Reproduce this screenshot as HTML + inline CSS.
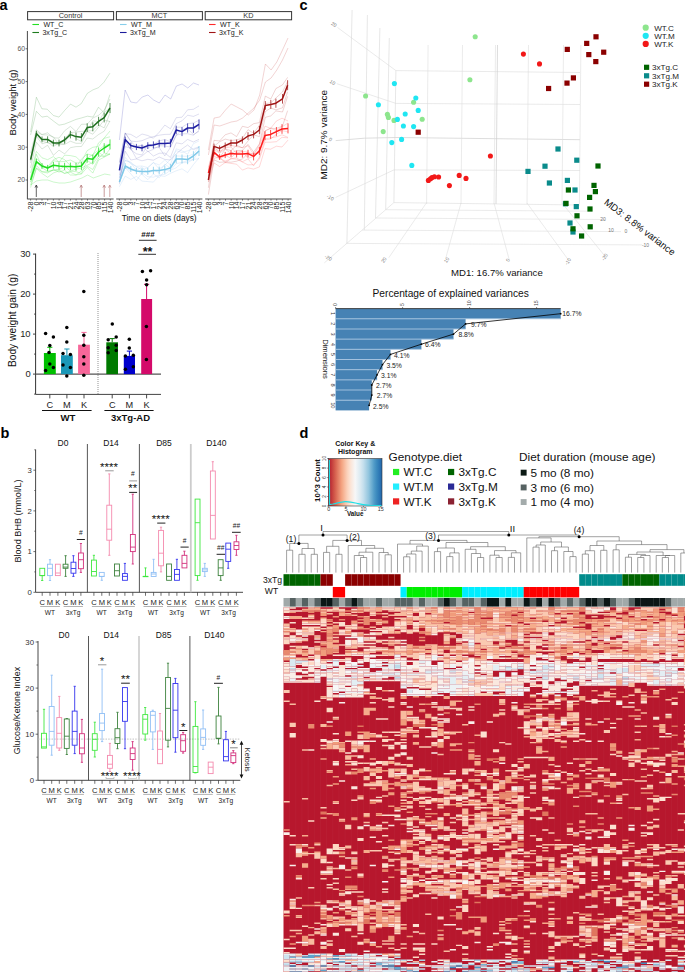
<!DOCTYPE html>
<html><head><meta charset="utf-8"><style>
html,body{margin:0;padding:0;background:#fff;}
svg{display:block;font-family:"Liberation Sans", sans-serif;}
</style></head><body>
<svg width="685" height="972" viewBox="0 0 685 972">
<rect width="685" height="972" fill="#fff"/>
<text x="-0.5" y="9.8" font-size="14.5" font-weight="bold">a</text>
<rect x="27.6" y="11.6" width="86.0" height="8.2" fill="#fff" stroke="#333" stroke-width="1"/>
<text x="70.6" y="18.4" font-size="7.3" text-anchor="middle" fill="#333">Control</text>
<rect x="116.4" y="11.6" width="86.0" height="8.2" fill="#fff" stroke="#333" stroke-width="1"/>
<text x="159.4" y="18.4" font-size="7.3" text-anchor="middle" fill="#333">MCT</text>
<rect x="205.2" y="11.6" width="86.4" height="8.2" fill="#fff" stroke="#333" stroke-width="1"/>
<text x="248.4" y="18.4" font-size="7.3" text-anchor="middle" fill="#333">KD</text>
<line x1="32.4" y1="24.5" x2="39.0" y2="24.5" stroke="#22e022" stroke-width="1.1"/>
<line x1="32.4" y1="32.5" x2="39.0" y2="32.5" stroke="#1e7b1e" stroke-width="1.1"/>
<text x="43.4" y="27.0" font-size="7.1" fill="#222">WT_C</text>
<text x="42.4" y="34.6" font-size="7.1" fill="#222">3xTg_C</text>
<line x1="120.0" y1="24.5" x2="126.6" y2="24.5" stroke="#87ceeb" stroke-width="1.1"/>
<line x1="120.0" y1="32.5" x2="126.6" y2="32.5" stroke="#1c1c9c" stroke-width="1.1"/>
<text x="131.0" y="27.0" font-size="7.1" fill="#222">WT_M</text>
<text x="130.0" y="34.6" font-size="7.1" fill="#222">3xTg_M</text>
<line x1="209.0" y1="24.5" x2="215.6" y2="24.5" stroke="#ff2a2a" stroke-width="1.1"/>
<line x1="209.0" y1="32.5" x2="215.6" y2="32.5" stroke="#a01515" stroke-width="1.1"/>
<text x="220.0" y="27.0" font-size="7.1" fill="#222">WT_K</text>
<text x="219.0" y="34.6" font-size="7.1" fill="#222">3xTg_K</text>
<line x1="27.4" y1="31.0" x2="27.4" y2="199.2" stroke="#333" stroke-width="0.9"/>
<line x1="25.6" y1="180.0" x2="27.4" y2="180.0" stroke="#333" stroke-width="0.7"/>
<text x="25.0" y="182.4" font-size="6.8" text-anchor="end" fill="#555">20</text>
<line x1="25.6" y1="147.2" x2="27.4" y2="147.2" stroke="#333" stroke-width="0.7"/>
<text x="25.0" y="149.6" font-size="6.8" text-anchor="end" fill="#555">30</text>
<line x1="25.6" y1="114.4" x2="27.4" y2="114.4" stroke="#333" stroke-width="0.7"/>
<text x="25.0" y="116.8" font-size="6.8" text-anchor="end" fill="#555">40</text>
<line x1="25.6" y1="81.6" x2="27.4" y2="81.6" stroke="#333" stroke-width="0.7"/>
<text x="25.0" y="84.0" font-size="6.8" text-anchor="end" fill="#555">50</text>
<line x1="25.6" y1="48.8" x2="27.4" y2="48.8" stroke="#333" stroke-width="0.7"/>
<text x="25.0" y="51.2" font-size="6.8" text-anchor="end" fill="#555">60</text>
<text x="15.5" y="102.5" font-size="9.5" text-anchor="middle" fill="#111" transform="rotate(-90 15.5 102.5)">Body weight (g)</text>
<line x1="27.4" y1="199.0" x2="113.6" y2="199.0" stroke="#333" stroke-width="0.9"/>
<line x1="30.6" y1="199.0" x2="30.6" y2="200.6" stroke="#333" stroke-width="0.6"/>
<text x="33.1" y="201.6" font-size="7.0" text-anchor="end" fill="#222" transform="rotate(-90 33.1 201.6)">-28</text>
<line x1="36.3" y1="199.0" x2="36.3" y2="200.6" stroke="#333" stroke-width="0.6"/>
<text x="38.8" y="201.6" font-size="7.0" text-anchor="end" fill="#222" transform="rotate(-90 38.79 201.6)">0</text>
<line x1="42.0" y1="199.0" x2="42.0" y2="200.6" stroke="#333" stroke-width="0.6"/>
<text x="44.5" y="201.6" font-size="7.0" text-anchor="end" fill="#222" transform="rotate(-90 44.480000000000004 201.6)">3</text>
<line x1="47.7" y1="199.0" x2="47.7" y2="200.6" stroke="#333" stroke-width="0.6"/>
<text x="50.2" y="201.6" font-size="7.0" text-anchor="end" fill="#222" transform="rotate(-90 50.17 201.6)">7</text>
<line x1="53.4" y1="199.0" x2="53.4" y2="200.6" stroke="#333" stroke-width="0.6"/>
<text x="55.9" y="201.6" font-size="7.0" text-anchor="end" fill="#222" transform="rotate(-90 55.86 201.6)">10</text>
<line x1="59.1" y1="199.0" x2="59.1" y2="200.6" stroke="#333" stroke-width="0.6"/>
<text x="61.6" y="201.6" font-size="7.0" text-anchor="end" fill="#222" transform="rotate(-90 61.550000000000004 201.6)">14</text>
<line x1="64.7" y1="199.0" x2="64.7" y2="200.6" stroke="#333" stroke-width="0.6"/>
<text x="67.2" y="201.6" font-size="7.0" text-anchor="end" fill="#222" transform="rotate(-90 67.24000000000001 201.6)">17</text>
<line x1="70.4" y1="199.0" x2="70.4" y2="200.6" stroke="#333" stroke-width="0.6"/>
<text x="72.9" y="201.6" font-size="7.0" text-anchor="end" fill="#222" transform="rotate(-90 72.93 201.6)">21</text>
<line x1="76.1" y1="199.0" x2="76.1" y2="200.6" stroke="#333" stroke-width="0.6"/>
<text x="78.6" y="201.6" font-size="7.0" text-anchor="end" fill="#222" transform="rotate(-90 78.62 201.6)">24</text>
<line x1="81.8" y1="199.0" x2="81.8" y2="200.6" stroke="#333" stroke-width="0.6"/>
<text x="84.3" y="201.6" font-size="7.0" text-anchor="end" fill="#222" transform="rotate(-90 84.31 201.6)">28</text>
<line x1="87.5" y1="199.0" x2="87.5" y2="200.6" stroke="#333" stroke-width="0.6"/>
<text x="90.0" y="201.6" font-size="7.0" text-anchor="end" fill="#222" transform="rotate(-90 90.0 201.6)">63</text>
<line x1="93.2" y1="199.0" x2="93.2" y2="200.6" stroke="#333" stroke-width="0.6"/>
<text x="95.7" y="201.6" font-size="7.0" text-anchor="end" fill="#222" transform="rotate(-90 95.69 201.6)">70</text>
<line x1="98.9" y1="199.0" x2="98.9" y2="200.6" stroke="#333" stroke-width="0.6"/>
<text x="101.4" y="201.6" font-size="7.0" text-anchor="end" fill="#222" transform="rotate(-90 101.38 201.6)">85</text>
<line x1="104.6" y1="199.0" x2="104.6" y2="200.6" stroke="#333" stroke-width="0.6"/>
<text x="107.1" y="201.6" font-size="7.0" text-anchor="end" fill="#222" transform="rotate(-90 107.07 201.6)">115</text>
<line x1="110.3" y1="199.0" x2="110.3" y2="200.6" stroke="#333" stroke-width="0.6"/>
<text x="112.8" y="201.6" font-size="7.0" text-anchor="end" fill="#222" transform="rotate(-90 112.76000000000002 201.6)">140</text>
<line x1="116.2" y1="199.0" x2="202.4" y2="199.0" stroke="#333" stroke-width="0.9"/>
<line x1="119.4" y1="199.0" x2="119.4" y2="200.6" stroke="#333" stroke-width="0.6"/>
<text x="121.9" y="201.6" font-size="7.0" text-anchor="end" fill="#222" transform="rotate(-90 121.9 201.6)">-28</text>
<line x1="125.1" y1="199.0" x2="125.1" y2="200.6" stroke="#333" stroke-width="0.6"/>
<text x="127.6" y="201.6" font-size="7.0" text-anchor="end" fill="#222" transform="rotate(-90 127.59 201.6)">0</text>
<line x1="130.8" y1="199.0" x2="130.8" y2="200.6" stroke="#333" stroke-width="0.6"/>
<text x="133.3" y="201.6" font-size="7.0" text-anchor="end" fill="#222" transform="rotate(-90 133.28 201.6)">3</text>
<line x1="136.5" y1="199.0" x2="136.5" y2="200.6" stroke="#333" stroke-width="0.6"/>
<text x="139.0" y="201.6" font-size="7.0" text-anchor="end" fill="#222" transform="rotate(-90 138.97 201.6)">7</text>
<line x1="142.2" y1="199.0" x2="142.2" y2="200.6" stroke="#333" stroke-width="0.6"/>
<text x="144.7" y="201.6" font-size="7.0" text-anchor="end" fill="#222" transform="rotate(-90 144.66 201.6)">10</text>
<line x1="147.9" y1="199.0" x2="147.9" y2="200.6" stroke="#333" stroke-width="0.6"/>
<text x="150.4" y="201.6" font-size="7.0" text-anchor="end" fill="#222" transform="rotate(-90 150.35000000000002 201.6)">14</text>
<line x1="153.5" y1="199.0" x2="153.5" y2="200.6" stroke="#333" stroke-width="0.6"/>
<text x="156.0" y="201.6" font-size="7.0" text-anchor="end" fill="#222" transform="rotate(-90 156.04000000000002 201.6)">17</text>
<line x1="159.2" y1="199.0" x2="159.2" y2="200.6" stroke="#333" stroke-width="0.6"/>
<text x="161.7" y="201.6" font-size="7.0" text-anchor="end" fill="#222" transform="rotate(-90 161.73000000000002 201.6)">21</text>
<line x1="164.9" y1="199.0" x2="164.9" y2="200.6" stroke="#333" stroke-width="0.6"/>
<text x="167.4" y="201.6" font-size="7.0" text-anchor="end" fill="#222" transform="rotate(-90 167.42000000000002 201.6)">24</text>
<line x1="170.6" y1="199.0" x2="170.6" y2="200.6" stroke="#333" stroke-width="0.6"/>
<text x="173.1" y="201.6" font-size="7.0" text-anchor="end" fill="#222" transform="rotate(-90 173.11 201.6)">28</text>
<line x1="176.3" y1="199.0" x2="176.3" y2="200.6" stroke="#333" stroke-width="0.6"/>
<text x="178.8" y="201.6" font-size="7.0" text-anchor="end" fill="#222" transform="rotate(-90 178.8 201.6)">63</text>
<line x1="182.0" y1="199.0" x2="182.0" y2="200.6" stroke="#333" stroke-width="0.6"/>
<text x="184.5" y="201.6" font-size="7.0" text-anchor="end" fill="#222" transform="rotate(-90 184.49 201.6)">70</text>
<line x1="187.7" y1="199.0" x2="187.7" y2="200.6" stroke="#333" stroke-width="0.6"/>
<text x="190.2" y="201.6" font-size="7.0" text-anchor="end" fill="#222" transform="rotate(-90 190.18 201.6)">85</text>
<line x1="193.4" y1="199.0" x2="193.4" y2="200.6" stroke="#333" stroke-width="0.6"/>
<text x="195.9" y="201.6" font-size="7.0" text-anchor="end" fill="#222" transform="rotate(-90 195.87 201.6)">115</text>
<line x1="199.1" y1="199.0" x2="199.1" y2="200.6" stroke="#333" stroke-width="0.6"/>
<text x="201.6" y="201.6" font-size="7.0" text-anchor="end" fill="#222" transform="rotate(-90 201.56 201.6)">140</text>
<line x1="205.2" y1="199.0" x2="291.6" y2="199.0" stroke="#333" stroke-width="0.9"/>
<line x1="208.4" y1="199.0" x2="208.4" y2="200.6" stroke="#333" stroke-width="0.6"/>
<text x="210.9" y="201.6" font-size="7.0" text-anchor="end" fill="#222" transform="rotate(-90 210.9 201.6)">-28</text>
<line x1="214.1" y1="199.0" x2="214.1" y2="200.6" stroke="#333" stroke-width="0.6"/>
<text x="216.6" y="201.6" font-size="7.0" text-anchor="end" fill="#222" transform="rotate(-90 216.59 201.6)">0</text>
<line x1="219.8" y1="199.0" x2="219.8" y2="200.6" stroke="#333" stroke-width="0.6"/>
<text x="222.3" y="201.6" font-size="7.0" text-anchor="end" fill="#222" transform="rotate(-90 222.28 201.6)">3</text>
<line x1="225.5" y1="199.0" x2="225.5" y2="200.6" stroke="#333" stroke-width="0.6"/>
<text x="228.0" y="201.6" font-size="7.0" text-anchor="end" fill="#222" transform="rotate(-90 227.97 201.6)">7</text>
<line x1="231.2" y1="199.0" x2="231.2" y2="200.6" stroke="#333" stroke-width="0.6"/>
<text x="233.7" y="201.6" font-size="7.0" text-anchor="end" fill="#222" transform="rotate(-90 233.66 201.6)">10</text>
<line x1="236.9" y1="199.0" x2="236.9" y2="200.6" stroke="#333" stroke-width="0.6"/>
<text x="239.4" y="201.6" font-size="7.0" text-anchor="end" fill="#222" transform="rotate(-90 239.35000000000002 201.6)">14</text>
<line x1="242.5" y1="199.0" x2="242.5" y2="200.6" stroke="#333" stroke-width="0.6"/>
<text x="245.0" y="201.6" font-size="7.0" text-anchor="end" fill="#222" transform="rotate(-90 245.04000000000002 201.6)">17</text>
<line x1="248.2" y1="199.0" x2="248.2" y2="200.6" stroke="#333" stroke-width="0.6"/>
<text x="250.7" y="201.6" font-size="7.0" text-anchor="end" fill="#222" transform="rotate(-90 250.73000000000002 201.6)">21</text>
<line x1="253.9" y1="199.0" x2="253.9" y2="200.6" stroke="#333" stroke-width="0.6"/>
<text x="256.4" y="201.6" font-size="7.0" text-anchor="end" fill="#222" transform="rotate(-90 256.42 201.6)">24</text>
<line x1="259.6" y1="199.0" x2="259.6" y2="200.6" stroke="#333" stroke-width="0.6"/>
<text x="262.1" y="201.6" font-size="7.0" text-anchor="end" fill="#222" transform="rotate(-90 262.11 201.6)">28</text>
<line x1="265.3" y1="199.0" x2="265.3" y2="200.6" stroke="#333" stroke-width="0.6"/>
<text x="267.8" y="201.6" font-size="7.0" text-anchor="end" fill="#222" transform="rotate(-90 267.8 201.6)">63</text>
<line x1="271.0" y1="199.0" x2="271.0" y2="200.6" stroke="#333" stroke-width="0.6"/>
<text x="273.5" y="201.6" font-size="7.0" text-anchor="end" fill="#222" transform="rotate(-90 273.49 201.6)">70</text>
<line x1="276.7" y1="199.0" x2="276.7" y2="200.6" stroke="#333" stroke-width="0.6"/>
<text x="279.2" y="201.6" font-size="7.0" text-anchor="end" fill="#222" transform="rotate(-90 279.18 201.6)">85</text>
<line x1="282.4" y1="199.0" x2="282.4" y2="200.6" stroke="#333" stroke-width="0.6"/>
<text x="284.9" y="201.6" font-size="7.0" text-anchor="end" fill="#222" transform="rotate(-90 284.87 201.6)">115</text>
<line x1="288.1" y1="199.0" x2="288.1" y2="200.6" stroke="#333" stroke-width="0.6"/>
<text x="290.6" y="201.6" font-size="7.0" text-anchor="end" fill="#222" transform="rotate(-90 290.56 201.6)">140</text>
<text x="159.2" y="220.8" font-size="8.3" text-anchor="middle" fill="#111">Time on diets (days)</text>
<line x1="36.3" y1="185.5" x2="36.3" y2="197.0" stroke="#222" stroke-width="0.7"/>
<path d="M35.0,187.6 L36.3,185 L37.6,187.6" fill="none" stroke="#222" stroke-width="0.7"/>
<line x1="81.2" y1="185.5" x2="81.2" y2="197.0" stroke="#b07070" stroke-width="0.7"/>
<path d="M79.9,187.6 L81.2,185 L82.5,187.6" fill="none" stroke="#b07070" stroke-width="0.7"/>
<line x1="104.2" y1="185.5" x2="104.2" y2="197.0" stroke="#b07070" stroke-width="0.7"/>
<path d="M102.9,187.6 L104.2,185 L105.5,187.6" fill="none" stroke="#b07070" stroke-width="0.7"/>
<line x1="109.8" y1="185.5" x2="109.8" y2="197.0" stroke="#c08080" stroke-width="0.7"/>
<path d="M108.5,187.6 L109.8,185 L111.1,187.6" fill="none" stroke="#c08080" stroke-width="0.7"/>
<polyline points="30.6,185.0 36.4,168.4 42.0,173.4 47.6,177.3 53.4,173.0 59.0,170.9 64.6,173.4 70.4,172.2 76.0,174.9 81.4,174.1 87.2,167.4 92.8,173.1 98.6,160.0 104.2,157.2 110.0,154.0" fill="none" stroke="#33dd33" stroke-width="0.7" stroke-linejoin="round" stroke-opacity="0.35"/>
<polyline points="30.6,187.5 36.4,168.0 42.0,171.6 47.6,171.9 53.4,170.2 59.0,169.8 64.6,173.3 70.4,171.2 76.0,171.6 81.4,173.7 87.2,160.4 92.8,164.3 98.6,155.8 104.2,156.5 110.0,153.5" fill="none" stroke="#33dd33" stroke-width="0.7" stroke-linejoin="round" stroke-opacity="0.35"/>
<polyline points="30.6,182.2 36.4,162.1 42.0,167.6 47.6,171.4 53.4,170.0 59.0,169.9 64.6,166.0 70.4,171.2 76.0,169.1 81.4,168.0 87.2,165.3 92.8,162.3 98.6,152.1 104.2,156.5 110.0,148.8" fill="none" stroke="#33dd33" stroke-width="0.7" stroke-linejoin="round" stroke-opacity="0.35"/>
<polyline points="30.6,179.6 36.4,158.3 42.0,164.0 47.6,169.3 53.4,160.7 59.0,161.8 64.6,161.4 70.4,160.0 76.0,163.0 81.4,162.7 87.2,158.5 92.8,154.4 98.6,150.2 104.2,145.6 110.0,144.0" fill="none" stroke="#33dd33" stroke-width="0.7" stroke-linejoin="round" stroke-opacity="0.35"/>
<polyline points="30.6,177.1 36.4,154.2 42.0,166.7 47.6,167.0 53.4,159.7 59.0,157.3 64.6,159.6 70.4,165.6 76.0,167.3 81.4,159.1 87.2,154.0 92.8,155.5 98.6,142.8 104.2,138.3 110.0,136.8" fill="none" stroke="#33dd33" stroke-width="0.7" stroke-linejoin="round" stroke-opacity="0.35"/>
<polyline points="30.6,173.1 36.4,151.4 42.0,157.8 47.6,159.7 53.4,156.5 59.0,162.3 64.6,155.2 70.4,155.6 76.0,156.8 81.4,161.9 87.2,150.6 92.8,147.3 98.6,146.4 104.2,138.0 110.0,131.0" fill="none" stroke="#33dd33" stroke-width="0.7" stroke-linejoin="round" stroke-opacity="0.35"/>
<polyline points="30.6,181.8 36.4,165.4 42.0,171.9 47.6,173.0 53.4,169.7 59.0,172.1 64.6,170.2 70.4,175.0 76.0,175.1 81.4,171.0 87.2,166.2 92.8,169.5 98.6,158.1 104.2,153.1 110.0,154.5" fill="none" stroke="#33dd33" stroke-width="0.7" stroke-linejoin="round" stroke-opacity="0.35"/>
<polyline points="30.6,167.9 36.4,142.3 42.0,149.0 47.6,145.2 53.4,155.3 59.0,150.1 64.6,153.9 70.4,147.7 76.0,146.6 81.4,146.5 87.2,138.0 92.8,139.0 98.6,134.5 104.2,131.2 110.0,121.0" fill="none" stroke="#2a6e2a" stroke-width="0.7" stroke-linejoin="round" stroke-opacity="0.25"/>
<polyline points="30.6,163.0 36.4,136.3 42.0,143.8 47.6,142.1 53.4,146.5 59.0,143.1 64.6,144.5 70.4,141.2 76.0,143.3 81.4,143.3 87.2,131.6 92.8,134.2 98.6,127.2 104.2,120.0 110.0,121.6" fill="none" stroke="#2a6e2a" stroke-width="0.7" stroke-linejoin="round" stroke-opacity="0.25"/>
<polyline points="30.6,161.1 36.4,134.7 42.0,141.0 47.6,142.8 53.4,143.8 59.0,144.8 64.6,144.0 70.4,131.3 76.0,138.6 81.4,141.6 87.2,131.0 92.8,130.6 98.6,124.9 104.2,127.9 110.0,112.8" fill="none" stroke="#2a6e2a" stroke-width="0.7" stroke-linejoin="round" stroke-opacity="0.25"/>
<polyline points="30.6,159.9 36.4,131.7 42.0,134.8 47.6,134.9 53.4,136.8 59.0,144.7 64.6,138.2 70.4,132.7 76.0,132.1 81.4,131.4 87.2,131.2 92.8,120.8 98.6,121.6 104.2,112.4 110.0,108.1" fill="none" stroke="#2a6e2a" stroke-width="0.7" stroke-linejoin="round" stroke-opacity="0.25"/>
<polyline points="30.6,153.2 36.4,129.8 42.0,134.5 47.6,132.8 53.4,137.8 59.0,138.1 64.6,130.8 70.4,126.4 76.0,131.5 81.4,124.3 87.2,124.2 92.8,118.0 98.6,115.3 104.2,110.3 110.0,99.0" fill="none" stroke="#2a6e2a" stroke-width="0.7" stroke-linejoin="round" stroke-opacity="0.25"/>
<polyline points="119.4,186.7 125.2,176.1 130.8,179.4 136.4,176.4 142.0,181.1 147.8,181.6 153.4,182.1 159.2,175.6 164.8,176.4 170.4,173.4 176.2,170.8 182.0,168.8 187.6,172.6 193.4,164.6 199.0,157.9" fill="none" stroke="#87b8eb" stroke-width="0.7" stroke-linejoin="round" stroke-opacity="0.3"/>
<polyline points="119.4,182.9 125.2,167.7 130.8,173.8 136.4,180.6 142.0,172.8 147.8,176.7 153.4,177.2 159.2,175.0 164.8,174.4 170.4,170.3 176.2,167.8 182.0,162.7 187.6,162.6 193.4,159.4 199.0,158.7" fill="none" stroke="#87b8eb" stroke-width="0.7" stroke-linejoin="round" stroke-opacity="0.3"/>
<polyline points="119.4,182.0 125.2,167.8 130.8,170.9 136.4,169.8 142.0,174.5 147.8,179.7 153.4,174.0 159.2,177.8 164.8,170.5 170.4,170.2 176.2,163.7 182.0,162.3 187.6,160.9 193.4,159.3 199.0,151.3" fill="none" stroke="#87b8eb" stroke-width="0.7" stroke-linejoin="round" stroke-opacity="0.3"/>
<polyline points="119.4,177.9 125.2,160.2 130.8,162.8 136.4,170.4 142.0,166.8 147.8,173.5 153.4,170.4 159.2,172.5 164.8,164.0 170.4,168.1 176.2,155.9 182.0,156.2 187.6,156.3 193.4,154.0 199.0,146.8" fill="none" stroke="#87b8eb" stroke-width="0.7" stroke-linejoin="round" stroke-opacity="0.3"/>
<polyline points="119.4,177.9 125.2,160.5 130.8,162.1 136.4,166.9 142.0,169.7 147.8,167.7 153.4,162.4 159.2,168.9 164.8,165.3 170.4,159.4 176.2,150.7 182.0,152.5 187.6,150.8 193.4,148.6 199.0,146.7" fill="none" stroke="#87b8eb" stroke-width="0.7" stroke-linejoin="round" stroke-opacity="0.3"/>
<polyline points="119.4,177.3 125.2,157.4 130.8,163.8 136.4,166.3 142.0,166.0 147.8,167.6 153.4,162.7 159.2,165.0 164.8,160.0 170.4,164.8 176.2,148.8 182.0,150.8 187.6,154.3 193.4,143.7 199.0,140.9" fill="none" stroke="#87b8eb" stroke-width="0.7" stroke-linejoin="round" stroke-opacity="0.3"/>
<polyline points="119.4,184.2 125.2,151.2 130.8,160.0 136.4,159.0 142.0,160.8 147.8,159.3 153.4,160.2 159.2,157.0 164.8,159.4 170.4,160.0 176.2,154.0 182.0,148.9 187.6,145.0 193.4,149.7 199.0,147.2" fill="none" stroke="#3030a0" stroke-width="0.7" stroke-linejoin="round" stroke-opacity="0.22"/>
<polyline points="119.4,181.9 125.2,146.6 130.8,148.3 136.4,158.6 142.0,156.0 147.8,151.1 153.4,156.0 159.2,153.3 164.8,153.0 170.4,157.4 176.2,142.8 182.0,143.9 187.6,139.4 193.4,142.0 199.0,139.3" fill="none" stroke="#3030a0" stroke-width="0.7" stroke-linejoin="round" stroke-opacity="0.22"/>
<polyline points="119.4,175.1 125.2,141.3 130.8,149.8 136.4,153.8 142.0,155.0 147.8,144.0 153.4,147.5 159.2,147.6 164.8,155.9 170.4,147.5 176.2,135.1 182.0,133.9 187.6,133.7 193.4,135.2 199.0,130.3" fill="none" stroke="#3030a0" stroke-width="0.7" stroke-linejoin="round" stroke-opacity="0.22"/>
<polyline points="119.4,170.3 125.2,140.7 130.8,149.6 136.4,146.0 142.0,145.9 147.8,151.7 153.4,149.3 159.2,145.7 164.8,146.0 170.4,147.0 176.2,135.6 182.0,129.6 187.6,128.8 193.4,134.5 199.0,131.4" fill="none" stroke="#3030a0" stroke-width="0.7" stroke-linejoin="round" stroke-opacity="0.22"/>
<polyline points="119.4,166.4 125.2,132.8 130.8,141.4 136.4,146.9 142.0,144.9 147.8,148.4 153.4,144.2 159.2,141.0 164.8,139.4 170.4,141.8 176.2,127.2 182.0,127.2 187.6,123.7 193.4,122.9 199.0,120.3" fill="none" stroke="#3030a0" stroke-width="0.7" stroke-linejoin="round" stroke-opacity="0.22"/>
<polyline points="119.4,162.8 125.2,133.0 130.8,141.1 136.4,141.6 142.0,140.7 147.8,138.2 153.4,136.6 159.2,135.2 164.8,134.4 170.4,134.3 176.2,123.7 182.0,120.8 187.6,115.2 193.4,116.4 199.0,114.0" fill="none" stroke="#3030a0" stroke-width="0.7" stroke-linejoin="round" stroke-opacity="0.22"/>
<polyline points="119.4,162.3 125.2,133.7 130.8,134.4 136.4,137.7 142.0,134.0 147.8,135.5 153.4,138.2 159.2,132.3 164.8,125.1 170.4,128.8 176.2,117.7 182.0,117.2 187.6,109.8 193.4,109.3 199.0,105.9" fill="none" stroke="#3030a0" stroke-width="0.7" stroke-linejoin="round" stroke-opacity="0.22"/>
<polyline points="208.4,181.6 214.0,162.9 219.6,166.5 225.2,162.5 231.0,163.4 236.6,164.2 242.4,170.1 248.0,167.9 253.6,169.1 259.4,166.9 265.0,148.6 270.6,149.2 276.4,146.2 282.0,147.0 288.0,140.1" fill="none" stroke="#ff4040" stroke-width="0.7" stroke-linejoin="round" stroke-opacity="0.3"/>
<polyline points="208.4,179.4 214.0,158.4 219.6,157.1 225.2,162.8 231.0,158.7 236.6,159.2 242.4,162.0 248.0,164.9 253.6,164.6 259.4,159.2 265.0,142.2 270.6,142.2 276.4,141.7 282.0,137.3 288.0,137.9" fill="none" stroke="#ff4040" stroke-width="0.7" stroke-linejoin="round" stroke-opacity="0.3"/>
<polyline points="208.4,175.9 214.0,156.1 219.6,158.6 225.2,161.1 231.0,158.8 236.6,157.8 242.4,161.7 248.0,158.9 253.6,165.8 259.4,157.2 265.0,138.9 270.6,137.9 276.4,136.8 282.0,134.8 288.0,137.4" fill="none" stroke="#ff4040" stroke-width="0.7" stroke-linejoin="round" stroke-opacity="0.3"/>
<polyline points="208.4,172.0 214.0,149.7 219.6,159.2 225.2,155.5 231.0,158.1 236.6,152.0 242.4,151.7 248.0,158.3 253.6,156.5 259.4,149.4 265.0,140.0 270.6,139.0 276.4,134.3 282.0,130.6 288.0,131.9" fill="none" stroke="#ff4040" stroke-width="0.7" stroke-linejoin="round" stroke-opacity="0.3"/>
<polyline points="208.4,169.5 214.0,147.7 219.6,151.9 225.2,147.8 231.0,147.0 236.6,153.4 242.4,151.3 248.0,152.1 253.6,154.7 259.4,146.7 265.0,130.9 270.6,128.3 276.4,130.5 282.0,126.9 288.0,123.0" fill="none" stroke="#ff4040" stroke-width="0.7" stroke-linejoin="round" stroke-opacity="0.3"/>
<polyline points="208.4,167.6 214.0,146.3 219.6,152.3 225.2,146.3 231.0,145.4 236.6,146.6 242.4,147.7 248.0,145.7 253.6,154.5 259.4,144.4 265.0,126.1 270.6,128.4 276.4,121.0 282.0,118.2 288.0,121.0" fill="none" stroke="#ff4040" stroke-width="0.7" stroke-linejoin="round" stroke-opacity="0.3"/>
<polyline points="208.4,194.6 214.0,159.8 219.6,162.3 225.2,161.9 231.0,162.2 236.6,161.2 242.4,158.9 248.0,153.7 253.6,154.0 259.4,153.0 265.3,130.8 270.8,128.1 275.9,128.7 282.5,126.0 287.6,110.7" fill="none" stroke="#b02020" stroke-width="0.7" stroke-linejoin="round" stroke-opacity="0.28"/>
<polyline points="208.4,187.8 214.0,153.4 219.6,158.2 225.2,149.1 231.0,153.5 236.6,150.5 242.4,150.4 248.0,144.4 253.6,152.0 259.4,144.0 265.3,117.3 270.8,115.9 275.9,110.9 282.5,112.0 287.6,96.4" fill="none" stroke="#b02020" stroke-width="0.7" stroke-linejoin="round" stroke-opacity="0.28"/>
<polyline points="208.4,182.1 214.0,149.3 219.6,153.2 225.2,149.0 231.0,150.6 236.6,145.2 242.4,147.9 248.0,141.0 253.6,134.9 259.4,136.6 265.3,111.6 270.8,108.0 275.9,109.9 282.5,107.8 287.6,91.8" fill="none" stroke="#b02020" stroke-width="0.7" stroke-linejoin="round" stroke-opacity="0.28"/>
<polyline points="208.4,176.6 214.0,146.2 219.6,141.8 225.2,139.1 231.0,140.5 236.6,139.8 242.4,138.4 248.0,129.7 253.6,133.3 259.4,125.3 265.3,103.5 270.8,102.9 275.9,98.0 282.5,92.0 287.6,81.6" fill="none" stroke="#b02020" stroke-width="0.7" stroke-linejoin="round" stroke-opacity="0.28"/>
<polyline points="208.4,172.4 214.0,140.3 219.6,141.0 225.2,134.8 231.0,132.9 236.6,136.6 242.4,126.3 248.0,127.6 253.6,123.7 259.4,122.6 265.3,96.1 270.8,99.0 275.9,88.6 282.5,84.9 287.6,77.4" fill="none" stroke="#b02020" stroke-width="0.7" stroke-linejoin="round" stroke-opacity="0.28"/>
<polyline points="30.6,132.0 36.4,97.2 41.9,108.8 47.2,109.2 53.4,115.5 59.0,117.1 64.5,110.6 70.5,104.1 76.0,107.2 81.2,103.7 87.4,93.3 93.0,89.8 98.5,87.7 104.0,82.2 109.9,73.2" fill="none" stroke="#2a8a2a" stroke-width="0.7" stroke-linejoin="round" stroke-opacity="0.3"/>
<polyline points="30.6,135.0 36.4,111.3 41.9,117.1 47.2,116.2 53.4,121.0 59.0,125.2 64.5,124.1 70.5,121.7 76.0,119.4 81.2,118.0 87.4,116.2 93.0,117.1 98.5,107.2 104.0,112.7 109.9,94.7" fill="none" stroke="#2a8a2a" stroke-width="0.7" stroke-linejoin="round" stroke-opacity="0.3"/>
<polyline points="30.6,185.0 36.3,181.0 42.0,180.0 47.7,180.0 53.4,182.0 59.1,183.0 64.8,183.0 70.5,182.0 76.2,180.0 81.9,178.0 87.6,175.0 93.3,178.0 99.0,176.0 104.7,174.0 110.4,175.0" fill="none" stroke="#33dd33" stroke-width="0.7" stroke-linejoin="round" stroke-opacity="0.35"/>
<polyline points="119.4,140.0 125.1,90.0 130.8,102.0 136.5,103.0 142.2,97.0 147.9,95.0 153.6,100.0 159.3,103.0 165.0,95.0 170.7,99.0 176.4,86.0 182.1,84.0 187.8,88.0 193.5,83.0 199.0,85.0" fill="none" stroke="#3030b0" stroke-width="0.7" stroke-linejoin="round" stroke-opacity="0.3"/>
<polyline points="208.4,150.0 214.1,118.0 219.8,117.0 225.5,110.0 231.2,104.0 236.9,107.0 242.6,110.0 248.3,115.0 254.0,110.0 259.7,95.0 265.4,64.0 271.1,70.0 276.8,62.0 282.5,50.0 288.0,38.0" fill="none" stroke="#c03030" stroke-width="0.7" stroke-linejoin="round" stroke-opacity="0.3"/>
<polyline points="208.4,155.0 214.1,125.0 219.8,126.0 225.5,124.0 231.2,122.0 236.9,121.0 242.6,118.0 248.3,113.0 254.0,108.0 259.7,100.0 265.4,82.0 271.1,78.0 276.8,70.0 282.5,60.0 288.0,48.0" fill="none" stroke="#c03030" stroke-width="0.7" stroke-linejoin="round" stroke-opacity="0.3"/>
<polyline points="30.6,180.0 36.4,161.6 42.0,166.0 47.6,168.0 53.4,165.2 59.0,166.0 64.6,166.4 70.4,166.4 76.0,166.8 81.4,166.0 87.2,158.4 92.8,159.2 98.6,152.0 104.2,148.0 110.0,144.4" fill="none" stroke="#22dd22" stroke-width="1.5" stroke-linejoin="round"/>
<line x1="36.4" y1="158.8" x2="36.4" y2="164.4" stroke="#22dd22" stroke-width="0.75"/>
<line x1="42.0" y1="163.1" x2="42.0" y2="168.9" stroke="#22dd22" stroke-width="0.75"/>
<line x1="47.6" y1="164.9" x2="47.6" y2="171.1" stroke="#22dd22" stroke-width="0.75"/>
<line x1="53.4" y1="161.9" x2="53.4" y2="168.5" stroke="#22dd22" stroke-width="0.75"/>
<line x1="59.0" y1="162.6" x2="59.0" y2="169.4" stroke="#22dd22" stroke-width="0.75"/>
<line x1="64.6" y1="162.8" x2="64.6" y2="170.0" stroke="#22dd22" stroke-width="0.75"/>
<line x1="70.4" y1="162.6" x2="70.4" y2="170.2" stroke="#22dd22" stroke-width="0.75"/>
<line x1="76.0" y1="162.8" x2="76.0" y2="170.8" stroke="#22dd22" stroke-width="0.75"/>
<line x1="81.4" y1="161.9" x2="81.4" y2="170.1" stroke="#22dd22" stroke-width="0.75"/>
<line x1="87.2" y1="154.1" x2="87.2" y2="162.7" stroke="#22dd22" stroke-width="0.75"/>
<line x1="92.8" y1="154.7" x2="92.8" y2="163.7" stroke="#22dd22" stroke-width="0.75"/>
<line x1="98.6" y1="147.4" x2="98.6" y2="156.6" stroke="#22dd22" stroke-width="0.75"/>
<line x1="104.2" y1="143.2" x2="104.2" y2="152.8" stroke="#22dd22" stroke-width="0.75"/>
<line x1="110.0" y1="139.4" x2="110.0" y2="149.4" stroke="#22dd22" stroke-width="0.75"/>
<polyline points="30.6,159.6 36.4,133.6 42.0,139.4 47.6,139.4 53.4,143.0 59.0,143.0 64.6,140.0 70.4,134.6 76.0,136.6 81.4,137.2 87.2,127.6 92.8,126.8 98.6,121.4 104.2,117.6 110.0,108.0" fill="none" stroke="#1e6e1e" stroke-width="1.5" stroke-linejoin="round"/>
<line x1="36.4" y1="130.8" x2="36.4" y2="136.4" stroke="#1e6e1e" stroke-width="0.75"/>
<line x1="42.0" y1="136.5" x2="42.0" y2="142.3" stroke="#1e6e1e" stroke-width="0.75"/>
<line x1="47.6" y1="136.3" x2="47.6" y2="142.5" stroke="#1e6e1e" stroke-width="0.75"/>
<line x1="53.4" y1="139.7" x2="53.4" y2="146.3" stroke="#1e6e1e" stroke-width="0.75"/>
<line x1="59.0" y1="139.6" x2="59.0" y2="146.4" stroke="#1e6e1e" stroke-width="0.75"/>
<line x1="64.6" y1="136.4" x2="64.6" y2="143.6" stroke="#1e6e1e" stroke-width="0.75"/>
<line x1="70.4" y1="130.8" x2="70.4" y2="138.4" stroke="#1e6e1e" stroke-width="0.75"/>
<line x1="76.0" y1="132.6" x2="76.0" y2="140.6" stroke="#1e6e1e" stroke-width="0.75"/>
<line x1="81.4" y1="133.1" x2="81.4" y2="141.3" stroke="#1e6e1e" stroke-width="0.75"/>
<line x1="87.2" y1="123.3" x2="87.2" y2="131.9" stroke="#1e6e1e" stroke-width="0.75"/>
<line x1="92.8" y1="122.3" x2="92.8" y2="131.3" stroke="#1e6e1e" stroke-width="0.75"/>
<line x1="98.6" y1="116.8" x2="98.6" y2="126.0" stroke="#1e6e1e" stroke-width="0.75"/>
<line x1="104.2" y1="112.8" x2="104.2" y2="122.4" stroke="#1e6e1e" stroke-width="0.75"/>
<line x1="110.0" y1="103.0" x2="110.0" y2="113.0" stroke="#1e6e1e" stroke-width="0.75"/>
<polyline points="119.4,182.0 125.2,166.0 130.8,169.0 136.4,171.0 142.0,171.4 147.8,171.4 153.4,170.4 159.2,170.4 164.8,169.6 170.4,168.0 176.2,159.0 182.0,159.0 187.6,159.6 193.4,156.0 199.0,151.0" fill="none" stroke="#7ec8e8" stroke-width="1.5" stroke-linejoin="round"/>
<line x1="125.2" y1="163.2" x2="125.2" y2="168.8" stroke="#7ec8e8" stroke-width="0.75"/>
<line x1="130.8" y1="166.1" x2="130.8" y2="171.9" stroke="#7ec8e8" stroke-width="0.75"/>
<line x1="136.4" y1="167.9" x2="136.4" y2="174.1" stroke="#7ec8e8" stroke-width="0.75"/>
<line x1="142.0" y1="168.1" x2="142.0" y2="174.7" stroke="#7ec8e8" stroke-width="0.75"/>
<line x1="147.8" y1="168.0" x2="147.8" y2="174.8" stroke="#7ec8e8" stroke-width="0.75"/>
<line x1="153.4" y1="166.8" x2="153.4" y2="174.0" stroke="#7ec8e8" stroke-width="0.75"/>
<line x1="159.2" y1="166.6" x2="159.2" y2="174.2" stroke="#7ec8e8" stroke-width="0.75"/>
<line x1="164.8" y1="165.6" x2="164.8" y2="173.6" stroke="#7ec8e8" stroke-width="0.75"/>
<line x1="170.4" y1="163.9" x2="170.4" y2="172.1" stroke="#7ec8e8" stroke-width="0.75"/>
<line x1="176.2" y1="154.7" x2="176.2" y2="163.3" stroke="#7ec8e8" stroke-width="0.75"/>
<line x1="182.0" y1="154.5" x2="182.0" y2="163.5" stroke="#7ec8e8" stroke-width="0.75"/>
<line x1="187.6" y1="155.0" x2="187.6" y2="164.2" stroke="#7ec8e8" stroke-width="0.75"/>
<line x1="193.4" y1="151.2" x2="193.4" y2="160.8" stroke="#7ec8e8" stroke-width="0.75"/>
<line x1="199.0" y1="146.0" x2="199.0" y2="156.0" stroke="#7ec8e8" stroke-width="0.75"/>
<polyline points="119.4,170.4 125.2,139.4 130.8,145.6 136.4,147.0 142.0,148.0 147.8,145.6 153.4,145.0 159.2,143.6 164.8,143.6 170.4,143.0 176.2,130.0 182.0,131.6 187.6,128.0 193.4,128.0 199.0,124.4" fill="none" stroke="#1c1ca0" stroke-width="1.5" stroke-linejoin="round"/>
<line x1="125.2" y1="136.6" x2="125.2" y2="142.2" stroke="#1c1ca0" stroke-width="0.75"/>
<line x1="130.8" y1="142.7" x2="130.8" y2="148.5" stroke="#1c1ca0" stroke-width="0.75"/>
<line x1="136.4" y1="143.9" x2="136.4" y2="150.1" stroke="#1c1ca0" stroke-width="0.75"/>
<line x1="142.0" y1="144.7" x2="142.0" y2="151.3" stroke="#1c1ca0" stroke-width="0.75"/>
<line x1="147.8" y1="142.2" x2="147.8" y2="149.0" stroke="#1c1ca0" stroke-width="0.75"/>
<line x1="153.4" y1="141.4" x2="153.4" y2="148.6" stroke="#1c1ca0" stroke-width="0.75"/>
<line x1="159.2" y1="139.8" x2="159.2" y2="147.4" stroke="#1c1ca0" stroke-width="0.75"/>
<line x1="164.8" y1="139.6" x2="164.8" y2="147.6" stroke="#1c1ca0" stroke-width="0.75"/>
<line x1="170.4" y1="138.9" x2="170.4" y2="147.1" stroke="#1c1ca0" stroke-width="0.75"/>
<line x1="176.2" y1="125.7" x2="176.2" y2="134.3" stroke="#1c1ca0" stroke-width="0.75"/>
<line x1="182.0" y1="127.1" x2="182.0" y2="136.1" stroke="#1c1ca0" stroke-width="0.75"/>
<line x1="187.6" y1="123.4" x2="187.6" y2="132.6" stroke="#1c1ca0" stroke-width="0.75"/>
<line x1="193.4" y1="123.2" x2="193.4" y2="132.8" stroke="#1c1ca0" stroke-width="0.75"/>
<line x1="199.0" y1="119.4" x2="199.0" y2="129.4" stroke="#1c1ca0" stroke-width="0.75"/>
<polyline points="208.4,173.0 214.0,152.4 219.6,157.0 225.2,155.0 231.0,153.6 236.6,154.0 242.4,154.0 248.0,153.6 253.6,156.4 259.4,151.0 265.0,135.6 270.6,134.4 276.4,131.6 282.0,129.0 288.0,128.4" fill="none" stroke="#ff1a1a" stroke-width="1.5" stroke-linejoin="round"/>
<line x1="214.0" y1="149.6" x2="214.0" y2="155.2" stroke="#ff1a1a" stroke-width="0.75"/>
<line x1="219.6" y1="154.1" x2="219.6" y2="159.9" stroke="#ff1a1a" stroke-width="0.75"/>
<line x1="225.2" y1="151.9" x2="225.2" y2="158.1" stroke="#ff1a1a" stroke-width="0.75"/>
<line x1="231.0" y1="150.3" x2="231.0" y2="156.9" stroke="#ff1a1a" stroke-width="0.75"/>
<line x1="236.6" y1="150.6" x2="236.6" y2="157.4" stroke="#ff1a1a" stroke-width="0.75"/>
<line x1="242.4" y1="150.4" x2="242.4" y2="157.6" stroke="#ff1a1a" stroke-width="0.75"/>
<line x1="248.0" y1="149.8" x2="248.0" y2="157.4" stroke="#ff1a1a" stroke-width="0.75"/>
<line x1="253.6" y1="152.4" x2="253.6" y2="160.4" stroke="#ff1a1a" stroke-width="0.75"/>
<line x1="259.4" y1="146.9" x2="259.4" y2="155.1" stroke="#ff1a1a" stroke-width="0.75"/>
<line x1="265.0" y1="131.3" x2="265.0" y2="139.9" stroke="#ff1a1a" stroke-width="0.75"/>
<line x1="270.6" y1="129.9" x2="270.6" y2="138.9" stroke="#ff1a1a" stroke-width="0.75"/>
<line x1="276.4" y1="127.0" x2="276.4" y2="136.2" stroke="#ff1a1a" stroke-width="0.75"/>
<line x1="282.0" y1="124.2" x2="282.0" y2="133.8" stroke="#ff1a1a" stroke-width="0.75"/>
<line x1="288.0" y1="123.4" x2="288.0" y2="133.4" stroke="#ff1a1a" stroke-width="0.75"/>
<polyline points="208.4,180.0 214.0,146.4 219.6,148.4 225.2,145.6 231.0,143.0 236.6,143.0 242.4,140.0 248.0,136.0 253.6,134.4 259.4,130.0 265.3,105.4 270.8,104.4 275.9,103.2 282.5,98.8 287.6,85.2" fill="none" stroke="#a01414" stroke-width="1.5" stroke-linejoin="round"/>
<line x1="214.0" y1="143.6" x2="214.0" y2="149.2" stroke="#a01414" stroke-width="0.75"/>
<line x1="219.6" y1="145.5" x2="219.6" y2="151.3" stroke="#a01414" stroke-width="0.75"/>
<line x1="225.2" y1="142.5" x2="225.2" y2="148.7" stroke="#a01414" stroke-width="0.75"/>
<line x1="231.0" y1="139.7" x2="231.0" y2="146.3" stroke="#a01414" stroke-width="0.75"/>
<line x1="236.6" y1="139.6" x2="236.6" y2="146.4" stroke="#a01414" stroke-width="0.75"/>
<line x1="242.4" y1="136.4" x2="242.4" y2="143.6" stroke="#a01414" stroke-width="0.75"/>
<line x1="248.0" y1="132.2" x2="248.0" y2="139.8" stroke="#a01414" stroke-width="0.75"/>
<line x1="253.6" y1="130.4" x2="253.6" y2="138.4" stroke="#a01414" stroke-width="0.75"/>
<line x1="259.4" y1="125.9" x2="259.4" y2="134.1" stroke="#a01414" stroke-width="0.75"/>
<line x1="265.3" y1="101.1" x2="265.3" y2="109.7" stroke="#a01414" stroke-width="0.75"/>
<line x1="270.8" y1="99.9" x2="270.8" y2="108.9" stroke="#a01414" stroke-width="0.75"/>
<line x1="275.9" y1="98.6" x2="275.9" y2="107.8" stroke="#a01414" stroke-width="0.75"/>
<line x1="282.5" y1="94.0" x2="282.5" y2="103.6" stroke="#a01414" stroke-width="0.75"/>
<line x1="287.6" y1="80.2" x2="287.6" y2="90.2" stroke="#a01414" stroke-width="0.75"/>
<line x1="35.6" y1="253.6" x2="35.6" y2="394.4" stroke="#333" stroke-width="1"/>
<line x1="33.0" y1="254.1" x2="35.6" y2="254.1" stroke="#333" stroke-width="0.9"/>
<text x="30.6" y="257.4" font-size="9.4" text-anchor="end" fill="#222">30</text>
<line x1="33.0" y1="294.1" x2="35.6" y2="294.1" stroke="#333" stroke-width="0.9"/>
<text x="30.6" y="297.4" font-size="9.4" text-anchor="end" fill="#222">20</text>
<line x1="33.0" y1="334.1" x2="35.6" y2="334.1" stroke="#333" stroke-width="0.9"/>
<text x="30.6" y="337.4" font-size="9.4" text-anchor="end" fill="#222">10</text>
<line x1="33.0" y1="374.1" x2="35.6" y2="374.1" stroke="#333" stroke-width="0.9"/>
<text x="30.6" y="377.4" font-size="9.4" text-anchor="end" fill="#222">0</text>
<line x1="34.0" y1="274.1" x2="35.6" y2="274.1" stroke="#333" stroke-width="0.8"/>
<line x1="34.0" y1="314.1" x2="35.6" y2="314.1" stroke="#333" stroke-width="0.8"/>
<line x1="34.0" y1="354.1" x2="35.6" y2="354.1" stroke="#333" stroke-width="0.8"/>
<line x1="34.0" y1="394.1" x2="35.6" y2="394.1" stroke="#333" stroke-width="0.8"/>
<text x="16.0" y="320.4" font-size="10.25" text-anchor="middle" fill="#111" transform="rotate(-90 16.0 320.4)">Body weight gain (g)</text>
<line x1="35.6" y1="394.4" x2="161.0" y2="394.4" stroke="#444" stroke-width="1"/>
<line x1="35.6" y1="374.1" x2="161.0" y2="374.1" stroke="#555" stroke-width="1.2"/>
<line x1="98" y1="253" x2="98" y2="394" stroke="#666" stroke-width="0.7" stroke-dasharray="1,1"/>
<rect x="43.9" y="353.0" width="11.9" height="21.1" fill="#00c000"/>
<line x1="49.8" y1="347.3" x2="49.8" y2="353.0" stroke="#00c000" stroke-width="1"/>
<line x1="47.2" y1="347.3" x2="52.4" y2="347.3" stroke="#00c000" stroke-width="1"/>
<line x1="49.8" y1="394.4" x2="49.8" y2="398.4" stroke="#333" stroke-width="0.9"/>
<rect x="61.0" y="355.2" width="11.8" height="18.9" fill="#1b98b8"/>
<line x1="66.9" y1="349.0" x2="66.9" y2="355.2" stroke="#1b98b8" stroke-width="1"/>
<line x1="64.3" y1="349.0" x2="69.5" y2="349.0" stroke="#1b98b8" stroke-width="1"/>
<line x1="66.9" y1="394.4" x2="66.9" y2="398.4" stroke="#333" stroke-width="0.9"/>
<rect x="78.1" y="344.7" width="11.8" height="29.4" fill="#f7679a"/>
<line x1="84.0" y1="332.4" x2="84.0" y2="344.7" stroke="#f7679a" stroke-width="1"/>
<line x1="81.4" y1="332.4" x2="86.6" y2="332.4" stroke="#f7679a" stroke-width="1"/>
<line x1="84.0" y1="394.4" x2="84.0" y2="398.4" stroke="#333" stroke-width="0.9"/>
<rect x="106.3" y="342.3" width="11.7" height="31.8" fill="#007a00"/>
<line x1="112.2" y1="338.6" x2="112.2" y2="342.3" stroke="#007a00" stroke-width="1"/>
<line x1="109.6" y1="338.6" x2="114.8" y2="338.6" stroke="#007a00" stroke-width="1"/>
<line x1="112.2" y1="394.4" x2="112.2" y2="398.4" stroke="#333" stroke-width="0.9"/>
<rect x="123.8" y="355.9" width="11.2" height="18.2" fill="#0000cc"/>
<line x1="129.4" y1="351.1" x2="129.4" y2="355.9" stroke="#0000cc" stroke-width="1"/>
<line x1="126.8" y1="351.1" x2="132.0" y2="351.1" stroke="#0000cc" stroke-width="1"/>
<line x1="129.4" y1="394.4" x2="129.4" y2="398.4" stroke="#333" stroke-width="0.9"/>
<rect x="141.2" y="299.0" width="10.9" height="75.1" fill="#d40a6a"/>
<line x1="146.6" y1="284.3" x2="146.6" y2="299.0" stroke="#d40a6a" stroke-width="1"/>
<line x1="144.0" y1="284.3" x2="149.2" y2="284.3" stroke="#d40a6a" stroke-width="1"/>
<line x1="146.6" y1="394.4" x2="146.6" y2="398.4" stroke="#333" stroke-width="0.9"/>
<circle cx="45.6" cy="333.6" r="1.75" fill="#000"/>
<circle cx="53.4" cy="337.0" r="1.75" fill="#000"/>
<circle cx="49.8" cy="345.4" r="1.75" fill="#000"/>
<circle cx="49.0" cy="352.6" r="1.75" fill="#000"/>
<circle cx="49.8" cy="364.0" r="1.75" fill="#000"/>
<circle cx="53.4" cy="367.6" r="1.75" fill="#000"/>
<circle cx="45.6" cy="370.6" r="1.75" fill="#000"/>
<circle cx="66.8" cy="327.6" r="1.75" fill="#000"/>
<circle cx="66.8" cy="342.0" r="1.75" fill="#000"/>
<circle cx="63.0" cy="353.6" r="1.75" fill="#000"/>
<circle cx="70.4" cy="354.6" r="1.75" fill="#000"/>
<circle cx="63.0" cy="365.0" r="1.75" fill="#000"/>
<circle cx="70.4" cy="367.4" r="1.75" fill="#000"/>
<circle cx="66.8" cy="376.0" r="1.75" fill="#000"/>
<circle cx="83.8" cy="291.6" r="1.75" fill="#000"/>
<circle cx="83.8" cy="335.2" r="1.75" fill="#000"/>
<circle cx="83.8" cy="345.2" r="1.75" fill="#000"/>
<circle cx="83.8" cy="356.8" r="1.75" fill="#000"/>
<circle cx="83.8" cy="364.0" r="1.75" fill="#000"/>
<circle cx="83.8" cy="375.2" r="1.75" fill="#000"/>
<circle cx="112.3" cy="323.9" r="1.75" fill="#000"/>
<circle cx="108.2" cy="339.7" r="1.75" fill="#000"/>
<circle cx="116.2" cy="337.1" r="1.75" fill="#000"/>
<circle cx="108.2" cy="347.8" r="1.75" fill="#000"/>
<circle cx="116.2" cy="345.2" r="1.75" fill="#000"/>
<circle cx="108.2" cy="352.8" r="1.75" fill="#000"/>
<circle cx="116.2" cy="350.6" r="1.75" fill="#000"/>
<circle cx="129.3" cy="339.3" r="1.75" fill="#000"/>
<circle cx="129.3" cy="348.0" r="1.75" fill="#000"/>
<circle cx="125.4" cy="356.1" r="1.75" fill="#000"/>
<circle cx="133.3" cy="355.2" r="1.75" fill="#000"/>
<circle cx="125.4" cy="369.3" r="1.75" fill="#000"/>
<circle cx="133.3" cy="366.7" r="1.75" fill="#000"/>
<circle cx="142.4" cy="271.6" r="1.75" fill="#000"/>
<circle cx="150.6" cy="270.8" r="1.75" fill="#000"/>
<circle cx="146.6" cy="280.0" r="1.75" fill="#000"/>
<circle cx="146.6" cy="284.8" r="1.75" fill="#000"/>
<circle cx="146.4" cy="326.4" r="1.75" fill="#000"/>
<circle cx="146.4" cy="359.4" r="1.75" fill="#000"/>
<text x="49.8" y="407.6" font-size="9.2" text-anchor="middle" fill="#222">C</text>
<text x="66.9" y="407.6" font-size="9.2" text-anchor="middle" fill="#222">M</text>
<text x="84.0" y="407.6" font-size="9.2" text-anchor="middle" fill="#222">K</text>
<text x="112.2" y="407.6" font-size="9.2" text-anchor="middle" fill="#222">C</text>
<text x="129.4" y="407.6" font-size="9.2" text-anchor="middle" fill="#222">M</text>
<text x="146.6" y="407.6" font-size="9.2" text-anchor="middle" fill="#222">K</text>
<line x1="42.0" y1="410.5" x2="91.6" y2="410.5" stroke="#111" stroke-width="1.1"/>
<line x1="104.4" y1="410.5" x2="153.6" y2="410.5" stroke="#111" stroke-width="1.1"/>
<text x="68.0" y="421.0" font-size="9.6" text-anchor="middle" fill="#111" font-weight="bold">WT</text>
<text x="130.5" y="421.0" font-size="9.5" text-anchor="middle" fill="#111" font-weight="bold">3xTg-AD</text>
<text x="148.0" y="236.9" font-size="8" text-anchor="middle" fill="#111" font-weight="bold">###</text>
<line x1="138.9" y1="240.3" x2="156.6" y2="240.3" stroke="#333" stroke-width="1"/>
<text x="147.5" y="255.7" font-size="12.5" text-anchor="middle" fill="#111" font-weight="bold">**</text>
<line x1="138.3" y1="254.3" x2="156.0" y2="254.3" stroke="#333" stroke-width="1"/>
<text x="0.5" y="437.8" font-size="14.5" font-weight="bold">b</text>
<line x1="35.6" y1="449.5" x2="35.6" y2="592.3" stroke="#333" stroke-width="0.9"/>
<line x1="33.4" y1="592.3" x2="35.6" y2="592.3" stroke="#333" stroke-width="0.7"/>
<text x="31.8" y="595.0" font-size="7.8" text-anchor="end" fill="#333">0</text>
<line x1="33.4" y1="551.6" x2="35.6" y2="551.6" stroke="#333" stroke-width="0.7"/>
<text x="31.8" y="554.3" font-size="7.8" text-anchor="end" fill="#333">1</text>
<line x1="33.4" y1="510.9" x2="35.6" y2="510.9" stroke="#333" stroke-width="0.7"/>
<text x="31.8" y="513.6" font-size="7.8" text-anchor="end" fill="#333">2</text>
<line x1="33.4" y1="470.2" x2="35.6" y2="470.2" stroke="#333" stroke-width="0.7"/>
<text x="31.8" y="472.9" font-size="7.8" text-anchor="end" fill="#333">3</text>
<line x1="34.2" y1="571.9" x2="35.6" y2="571.9" stroke="#333" stroke-width="0.6"/>
<line x1="34.2" y1="531.2" x2="35.6" y2="531.2" stroke="#333" stroke-width="0.6"/>
<line x1="34.2" y1="490.5" x2="35.6" y2="490.5" stroke="#333" stroke-width="0.6"/>
<line x1="34.2" y1="449.8" x2="35.6" y2="449.8" stroke="#333" stroke-width="0.6"/>
<text x="21.0" y="521.0" font-size="9.15" text-anchor="middle" fill="#111" transform="rotate(-90 21.0 521)">Blood BHB (mmol/L)</text>
<line x1="35.6" y1="592.3" x2="243.0" y2="592.3" stroke="#333" stroke-width="0.9"/>
<line x1="87.4" y1="444.0" x2="87.4" y2="592.3" stroke="#444" stroke-width="0.9"/>
<line x1="139.4" y1="444.0" x2="139.4" y2="592.3" stroke="#444" stroke-width="0.9"/>
<line x1="190.8" y1="444.0" x2="190.8" y2="592.3" stroke="#ccc" stroke-width="1.8"/>
<text x="63.0" y="446.0" font-size="8.5" text-anchor="middle" fill="#111">D0</text>
<text x="111.0" y="446.0" font-size="8.5" text-anchor="middle" fill="#111">D14</text>
<text x="164.0" y="446.0" font-size="8.5" text-anchor="middle" fill="#111">D85</text>
<text x="216.4" y="446.0" font-size="8.5" text-anchor="middle" fill="#111">D140</text>
<line x1="42.2" y1="575.6" x2="42.2" y2="580.5" stroke="#3fe83f" stroke-width="0.9"/>
<line x1="41.1" y1="580.5" x2="43.3" y2="580.5" stroke="#3fe83f" stroke-width="0.9"/>
<rect x="39.8" y="568.3" width="4.9" height="7.3" fill="none" stroke="#3fe83f" stroke-width="0.9"/>
<line x1="39.8" y1="575.6" x2="44.7" y2="575.6" stroke="#3fe83f" stroke-width="0.9"/>
<line x1="50.0" y1="559.7" x2="50.0" y2="564.2" stroke="#90bff5" stroke-width="0.9"/>
<line x1="48.9" y1="559.7" x2="51.1" y2="559.7" stroke="#90bff5" stroke-width="0.9"/>
<line x1="50.0" y1="575.6" x2="50.0" y2="580.5" stroke="#90bff5" stroke-width="0.9"/>
<line x1="48.9" y1="580.5" x2="51.1" y2="580.5" stroke="#90bff5" stroke-width="0.9"/>
<rect x="47.5" y="564.2" width="4.9" height="11.4" fill="none" stroke="#90bff5" stroke-width="0.9"/>
<line x1="47.5" y1="568.3" x2="52.5" y2="568.3" stroke="#90bff5" stroke-width="0.9"/>
<rect x="55.4" y="564.2" width="4.9" height="11.4" fill="none" stroke="#f48aae" stroke-width="0.9"/>
<line x1="55.4" y1="573.0" x2="60.4" y2="573.0" stroke="#f48aae" stroke-width="0.9"/>
<line x1="65.6" y1="555.7" x2="65.6" y2="564.2" stroke="#3d823d" stroke-width="0.9"/>
<line x1="64.5" y1="555.7" x2="66.7" y2="555.7" stroke="#3d823d" stroke-width="0.9"/>
<line x1="65.6" y1="568.3" x2="65.6" y2="576.4" stroke="#3d823d" stroke-width="0.9"/>
<line x1="64.5" y1="576.4" x2="66.7" y2="576.4" stroke="#3d823d" stroke-width="0.9"/>
<rect x="63.1" y="564.2" width="4.9" height="4.1" fill="none" stroke="#3d823d" stroke-width="0.9"/>
<line x1="63.1" y1="567.1" x2="68.0" y2="567.1" stroke="#3d823d" stroke-width="0.9"/>
<line x1="73.4" y1="555.7" x2="73.4" y2="562.2" stroke="#3434ee" stroke-width="0.9"/>
<line x1="72.3" y1="555.7" x2="74.5" y2="555.7" stroke="#3434ee" stroke-width="0.9"/>
<line x1="73.4" y1="573.2" x2="73.4" y2="576.4" stroke="#3434ee" stroke-width="0.9"/>
<line x1="72.3" y1="576.4" x2="74.5" y2="576.4" stroke="#3434ee" stroke-width="0.9"/>
<rect x="71.0" y="562.2" width="4.9" height="11.0" fill="none" stroke="#3434ee" stroke-width="0.9"/>
<line x1="71.0" y1="568.5" x2="75.9" y2="568.5" stroke="#3434ee" stroke-width="0.9"/>
<line x1="80.9" y1="543.5" x2="80.9" y2="553.0" stroke="#d3307c" stroke-width="0.9"/>
<line x1="79.8" y1="543.5" x2="82.0" y2="543.5" stroke="#d3307c" stroke-width="0.9"/>
<line x1="80.9" y1="568.7" x2="80.9" y2="572.4" stroke="#d3307c" stroke-width="0.9"/>
<line x1="79.8" y1="572.4" x2="82.0" y2="572.4" stroke="#d3307c" stroke-width="0.9"/>
<rect x="78.5" y="553.0" width="4.9" height="15.7" fill="none" stroke="#d3307c" stroke-width="0.9"/>
<line x1="78.5" y1="559.7" x2="83.4" y2="559.7" stroke="#d3307c" stroke-width="0.9"/>
<line x1="93.9" y1="555.3" x2="93.9" y2="560.1" stroke="#3fe83f" stroke-width="0.9"/>
<line x1="92.8" y1="555.3" x2="95.0" y2="555.3" stroke="#3fe83f" stroke-width="0.9"/>
<rect x="91.5" y="560.1" width="4.9" height="15.9" fill="none" stroke="#3fe83f" stroke-width="0.9"/>
<line x1="91.5" y1="571.5" x2="96.4" y2="571.5" stroke="#3fe83f" stroke-width="0.9"/>
<line x1="101.8" y1="576.4" x2="101.8" y2="580.3" stroke="#90bff5" stroke-width="0.9"/>
<line x1="100.7" y1="580.3" x2="102.9" y2="580.3" stroke="#90bff5" stroke-width="0.9"/>
<rect x="99.3" y="572.4" width="4.9" height="4.1" fill="none" stroke="#90bff5" stroke-width="0.9"/>
<line x1="99.3" y1="576.4" x2="104.2" y2="576.4" stroke="#90bff5" stroke-width="0.9"/>
<line x1="109.3" y1="473.9" x2="109.3" y2="505.2" stroke="#f48aae" stroke-width="0.9"/>
<line x1="108.2" y1="473.9" x2="110.4" y2="473.9" stroke="#f48aae" stroke-width="0.9"/>
<line x1="109.3" y1="540.2" x2="109.3" y2="555.3" stroke="#f48aae" stroke-width="0.9"/>
<line x1="108.2" y1="555.3" x2="110.4" y2="555.3" stroke="#f48aae" stroke-width="0.9"/>
<rect x="106.8" y="505.2" width="4.9" height="35.0" fill="none" stroke="#f48aae" stroke-width="0.9"/>
<line x1="106.8" y1="529.2" x2="111.8" y2="529.2" stroke="#f48aae" stroke-width="0.9"/>
<rect x="114.5" y="564.0" width="4.9" height="12.0" fill="none" stroke="#3d823d" stroke-width="0.9"/>
<line x1="114.5" y1="570.7" x2="119.5" y2="570.7" stroke="#3d823d" stroke-width="0.9"/>
<line x1="124.9" y1="563.4" x2="124.9" y2="573.6" stroke="#3434ee" stroke-width="0.9"/>
<line x1="123.8" y1="563.4" x2="126.0" y2="563.4" stroke="#3434ee" stroke-width="0.9"/>
<rect x="122.5" y="573.6" width="4.9" height="6.7" fill="none" stroke="#3434ee" stroke-width="0.9"/>
<line x1="122.5" y1="576.4" x2="127.4" y2="576.4" stroke="#3434ee" stroke-width="0.9"/>
<line x1="132.8" y1="494.2" x2="132.8" y2="534.5" stroke="#d3307c" stroke-width="0.9"/>
<line x1="131.7" y1="494.2" x2="133.9" y2="494.2" stroke="#d3307c" stroke-width="0.9"/>
<line x1="132.8" y1="551.6" x2="132.8" y2="564.0" stroke="#d3307c" stroke-width="0.9"/>
<line x1="131.7" y1="564.0" x2="133.9" y2="564.0" stroke="#d3307c" stroke-width="0.9"/>
<rect x="130.4" y="534.5" width="4.9" height="17.1" fill="none" stroke="#d3307c" stroke-width="0.9"/>
<line x1="130.4" y1="547.1" x2="135.2" y2="547.1" stroke="#d3307c" stroke-width="0.9"/>
<line x1="145.5" y1="567.9" x2="145.5" y2="576.4" stroke="#3fe83f" stroke-width="0.9"/>
<line x1="144.4" y1="567.9" x2="146.6" y2="567.9" stroke="#3fe83f" stroke-width="0.9"/>
<rect x="143.1" y="576.4" width="4.9" height="0.3" fill="none" stroke="#3fe83f" stroke-width="0.9"/>
<line x1="143.1" y1="576.4" x2="147.9" y2="576.4" stroke="#3fe83f" stroke-width="0.9"/>
<line x1="153.6" y1="559.3" x2="153.6" y2="572.4" stroke="#90bff5" stroke-width="0.9"/>
<line x1="152.5" y1="559.3" x2="154.7" y2="559.3" stroke="#90bff5" stroke-width="0.9"/>
<rect x="151.2" y="572.4" width="4.9" height="4.1" fill="none" stroke="#90bff5" stroke-width="0.9"/>
<line x1="151.2" y1="574.0" x2="156.0" y2="574.0" stroke="#90bff5" stroke-width="0.9"/>
<line x1="161.0" y1="527.2" x2="161.0" y2="530.4" stroke="#f48aae" stroke-width="0.9"/>
<line x1="159.9" y1="527.2" x2="162.1" y2="527.2" stroke="#f48aae" stroke-width="0.9"/>
<line x1="161.0" y1="565.8" x2="161.0" y2="571.9" stroke="#f48aae" stroke-width="0.9"/>
<line x1="159.9" y1="571.9" x2="162.1" y2="571.9" stroke="#f48aae" stroke-width="0.9"/>
<rect x="158.6" y="530.4" width="4.9" height="35.4" fill="none" stroke="#f48aae" stroke-width="0.9"/>
<line x1="158.6" y1="553.2" x2="163.4" y2="553.2" stroke="#f48aae" stroke-width="0.9"/>
<rect x="166.6" y="564.0" width="4.9" height="16.3" fill="none" stroke="#3d823d" stroke-width="0.9"/>
<line x1="166.6" y1="576.4" x2="171.4" y2="576.4" stroke="#3d823d" stroke-width="0.9"/>
<line x1="176.9" y1="559.3" x2="176.9" y2="569.5" stroke="#3434ee" stroke-width="0.9"/>
<line x1="175.8" y1="559.3" x2="178.0" y2="559.3" stroke="#3434ee" stroke-width="0.9"/>
<rect x="174.5" y="569.5" width="4.9" height="10.8" fill="none" stroke="#3434ee" stroke-width="0.9"/>
<line x1="174.5" y1="574.4" x2="179.3" y2="574.4" stroke="#3434ee" stroke-width="0.9"/>
<line x1="184.4" y1="551.2" x2="184.4" y2="555.3" stroke="#d3307c" stroke-width="0.9"/>
<line x1="183.3" y1="551.2" x2="185.5" y2="551.2" stroke="#d3307c" stroke-width="0.9"/>
<rect x="182.0" y="555.3" width="4.9" height="12.6" fill="none" stroke="#d3307c" stroke-width="0.9"/>
<line x1="182.0" y1="563.4" x2="186.8" y2="563.4" stroke="#d3307c" stroke-width="0.9"/>
<line x1="197.5" y1="575.6" x2="197.5" y2="580.3" stroke="#3fe83f" stroke-width="0.9"/>
<line x1="196.4" y1="580.3" x2="198.6" y2="580.3" stroke="#3fe83f" stroke-width="0.9"/>
<rect x="195.1" y="499.1" width="4.9" height="76.5" fill="none" stroke="#3fe83f" stroke-width="0.9"/>
<line x1="195.1" y1="522.7" x2="199.9" y2="522.7" stroke="#3fe83f" stroke-width="0.9"/>
<line x1="204.8" y1="563.4" x2="204.8" y2="568.3" stroke="#90bff5" stroke-width="0.9"/>
<line x1="203.7" y1="563.4" x2="205.9" y2="563.4" stroke="#90bff5" stroke-width="0.9"/>
<line x1="204.8" y1="571.5" x2="204.8" y2="576.4" stroke="#90bff5" stroke-width="0.9"/>
<line x1="203.7" y1="576.4" x2="205.9" y2="576.4" stroke="#90bff5" stroke-width="0.9"/>
<rect x="202.4" y="568.3" width="4.9" height="3.3" fill="none" stroke="#90bff5" stroke-width="0.9"/>
<line x1="202.4" y1="569.9" x2="207.2" y2="569.9" stroke="#90bff5" stroke-width="0.9"/>
<line x1="212.8" y1="461.7" x2="212.8" y2="471.0" stroke="#f48aae" stroke-width="0.9"/>
<line x1="211.7" y1="461.7" x2="213.9" y2="461.7" stroke="#f48aae" stroke-width="0.9"/>
<rect x="210.4" y="471.0" width="4.9" height="68.0" fill="none" stroke="#f48aae" stroke-width="0.9"/>
<line x1="210.4" y1="515.4" x2="215.2" y2="515.4" stroke="#f48aae" stroke-width="0.9"/>
<line x1="220.7" y1="575.6" x2="220.7" y2="580.3" stroke="#3d823d" stroke-width="0.9"/>
<line x1="219.6" y1="580.3" x2="221.8" y2="580.3" stroke="#3d823d" stroke-width="0.9"/>
<rect x="218.2" y="559.7" width="4.9" height="15.9" fill="none" stroke="#3d823d" stroke-width="0.9"/>
<line x1="218.2" y1="567.9" x2="223.1" y2="567.9" stroke="#3d823d" stroke-width="0.9"/>
<line x1="228.2" y1="561.4" x2="228.2" y2="568.3" stroke="#3434ee" stroke-width="0.9"/>
<line x1="227.1" y1="568.3" x2="229.3" y2="568.3" stroke="#3434ee" stroke-width="0.9"/>
<rect x="225.8" y="543.1" width="4.9" height="18.3" fill="none" stroke="#3434ee" stroke-width="0.9"/>
<line x1="225.8" y1="549.2" x2="230.6" y2="549.2" stroke="#3434ee" stroke-width="0.9"/>
<line x1="236.4" y1="535.3" x2="236.4" y2="541.8" stroke="#d3307c" stroke-width="0.9"/>
<line x1="235.3" y1="535.3" x2="237.5" y2="535.3" stroke="#d3307c" stroke-width="0.9"/>
<line x1="236.4" y1="549.6" x2="236.4" y2="555.3" stroke="#d3307c" stroke-width="0.9"/>
<line x1="235.3" y1="555.3" x2="237.5" y2="555.3" stroke="#d3307c" stroke-width="0.9"/>
<rect x="234.0" y="541.8" width="4.9" height="7.7" fill="none" stroke="#d3307c" stroke-width="0.9"/>
<line x1="234.0" y1="545.5" x2="238.8" y2="545.5" stroke="#d3307c" stroke-width="0.9"/>
<line x1="42.2" y1="592.3" x2="42.2" y2="595.8" stroke="#333" stroke-width="0.7"/>
<text x="42.2" y="604.8" font-size="7.6" text-anchor="middle" fill="#222">C</text>
<line x1="50.0" y1="592.3" x2="50.0" y2="595.8" stroke="#333" stroke-width="0.7"/>
<text x="50.0" y="604.8" font-size="7.6" text-anchor="middle" fill="#222">M</text>
<line x1="57.9" y1="592.3" x2="57.9" y2="595.8" stroke="#333" stroke-width="0.7"/>
<text x="57.9" y="604.8" font-size="7.6" text-anchor="middle" fill="#222">K</text>
<line x1="65.6" y1="592.3" x2="65.6" y2="595.8" stroke="#333" stroke-width="0.7"/>
<text x="65.6" y="604.8" font-size="7.6" text-anchor="middle" fill="#222">C</text>
<line x1="73.4" y1="592.3" x2="73.4" y2="595.8" stroke="#333" stroke-width="0.7"/>
<text x="73.4" y="604.8" font-size="7.6" text-anchor="middle" fill="#222">M</text>
<line x1="80.9" y1="592.3" x2="80.9" y2="595.8" stroke="#333" stroke-width="0.7"/>
<text x="80.9" y="604.8" font-size="7.6" text-anchor="middle" fill="#222">K</text>
<line x1="40.2" y1="606.5" x2="59.9" y2="606.5" stroke="#aaa" stroke-width="0.9"/>
<line x1="63.6" y1="606.5" x2="82.9" y2="606.5" stroke="#aaa" stroke-width="0.9"/>
<text x="50.0" y="614.8" font-size="6.6" text-anchor="middle" fill="#222">WT</text>
<text x="73.2" y="614.8" font-size="6.6" text-anchor="middle" fill="#222">3xTg</text>
<line x1="93.9" y1="592.3" x2="93.9" y2="595.8" stroke="#333" stroke-width="0.7"/>
<text x="93.9" y="604.8" font-size="7.6" text-anchor="middle" fill="#222">C</text>
<line x1="101.8" y1="592.3" x2="101.8" y2="595.8" stroke="#333" stroke-width="0.7"/>
<text x="101.8" y="604.8" font-size="7.6" text-anchor="middle" fill="#222">M</text>
<line x1="109.3" y1="592.3" x2="109.3" y2="595.8" stroke="#333" stroke-width="0.7"/>
<text x="109.3" y="604.8" font-size="7.6" text-anchor="middle" fill="#222">K</text>
<line x1="117.0" y1="592.3" x2="117.0" y2="595.8" stroke="#333" stroke-width="0.7"/>
<text x="117.0" y="604.8" font-size="7.6" text-anchor="middle" fill="#222">C</text>
<line x1="124.9" y1="592.3" x2="124.9" y2="595.8" stroke="#333" stroke-width="0.7"/>
<text x="124.9" y="604.8" font-size="7.6" text-anchor="middle" fill="#222">M</text>
<line x1="132.8" y1="592.3" x2="132.8" y2="595.8" stroke="#333" stroke-width="0.7"/>
<text x="132.8" y="604.8" font-size="7.6" text-anchor="middle" fill="#222">K</text>
<line x1="91.9" y1="606.5" x2="111.3" y2="606.5" stroke="#aaa" stroke-width="0.9"/>
<line x1="115.0" y1="606.5" x2="134.8" y2="606.5" stroke="#aaa" stroke-width="0.9"/>
<text x="101.6" y="614.8" font-size="6.6" text-anchor="middle" fill="#222">WT</text>
<text x="124.9" y="614.8" font-size="6.6" text-anchor="middle" fill="#222">3xTg</text>
<line x1="145.5" y1="592.3" x2="145.5" y2="595.8" stroke="#333" stroke-width="0.7"/>
<text x="145.5" y="604.8" font-size="7.6" text-anchor="middle" fill="#222">C</text>
<line x1="153.6" y1="592.3" x2="153.6" y2="595.8" stroke="#333" stroke-width="0.7"/>
<text x="153.6" y="604.8" font-size="7.6" text-anchor="middle" fill="#222">M</text>
<line x1="161.0" y1="592.3" x2="161.0" y2="595.8" stroke="#333" stroke-width="0.7"/>
<text x="161.0" y="604.8" font-size="7.6" text-anchor="middle" fill="#222">K</text>
<line x1="169.0" y1="592.3" x2="169.0" y2="595.8" stroke="#333" stroke-width="0.7"/>
<text x="169.0" y="604.8" font-size="7.6" text-anchor="middle" fill="#222">C</text>
<line x1="176.9" y1="592.3" x2="176.9" y2="595.8" stroke="#333" stroke-width="0.7"/>
<text x="176.9" y="604.8" font-size="7.6" text-anchor="middle" fill="#222">M</text>
<line x1="184.4" y1="592.3" x2="184.4" y2="595.8" stroke="#333" stroke-width="0.7"/>
<text x="184.4" y="604.8" font-size="7.6" text-anchor="middle" fill="#222">K</text>
<line x1="143.5" y1="606.5" x2="163.0" y2="606.5" stroke="#aaa" stroke-width="0.9"/>
<line x1="167.0" y1="606.5" x2="186.4" y2="606.5" stroke="#aaa" stroke-width="0.9"/>
<text x="153.2" y="614.8" font-size="6.6" text-anchor="middle" fill="#222">WT</text>
<text x="176.7" y="614.8" font-size="6.6" text-anchor="middle" fill="#222">3xTg</text>
<line x1="197.5" y1="592.3" x2="197.5" y2="595.8" stroke="#333" stroke-width="0.7"/>
<text x="197.5" y="604.8" font-size="7.6" text-anchor="middle" fill="#222">C</text>
<line x1="204.8" y1="592.3" x2="204.8" y2="595.8" stroke="#333" stroke-width="0.7"/>
<text x="204.8" y="604.8" font-size="7.6" text-anchor="middle" fill="#222">M</text>
<line x1="212.8" y1="592.3" x2="212.8" y2="595.8" stroke="#333" stroke-width="0.7"/>
<text x="212.8" y="604.8" font-size="7.6" text-anchor="middle" fill="#222">K</text>
<line x1="220.7" y1="592.3" x2="220.7" y2="595.8" stroke="#333" stroke-width="0.7"/>
<text x="220.7" y="604.8" font-size="7.6" text-anchor="middle" fill="#222">C</text>
<line x1="228.2" y1="592.3" x2="228.2" y2="595.8" stroke="#333" stroke-width="0.7"/>
<text x="228.2" y="604.8" font-size="7.6" text-anchor="middle" fill="#222">M</text>
<line x1="236.4" y1="592.3" x2="236.4" y2="595.8" stroke="#333" stroke-width="0.7"/>
<text x="236.4" y="604.8" font-size="7.6" text-anchor="middle" fill="#222">K</text>
<line x1="195.5" y1="606.5" x2="214.8" y2="606.5" stroke="#aaa" stroke-width="0.9"/>
<line x1="218.7" y1="606.5" x2="238.4" y2="606.5" stroke="#aaa" stroke-width="0.9"/>
<text x="205.2" y="614.8" font-size="6.6" text-anchor="middle" fill="#222">WT</text>
<text x="228.6" y="614.8" font-size="6.6" text-anchor="middle" fill="#222">3xTg</text>
<text x="109.0" y="470.6" font-size="11.5" text-anchor="middle" fill="#111">****</text>
<line x1="105.2" y1="470.8" x2="113.7" y2="470.8" stroke="#999" stroke-width="1"/>
<text x="132.8" y="476.3" font-size="6.6" text-anchor="middle" fill="#222">#</text>
<line x1="129.2" y1="480.9" x2="137.1" y2="480.9" stroke="#999" stroke-width="1"/>
<text x="132.8" y="491.6" font-size="11.5" text-anchor="middle" fill="#111">**</text>
<line x1="129.2" y1="492.4" x2="137.1" y2="492.4" stroke="#222" stroke-width="1"/>
<text x="80.9" y="535.1" font-size="6.6" text-anchor="middle" fill="#222">#</text>
<line x1="76.8" y1="539.5" x2="84.9" y2="539.5" stroke="#222" stroke-width="1"/>
<text x="160.8" y="522.9" font-size="11.5" text-anchor="middle" fill="#111">****</text>
<line x1="157.2" y1="523.1" x2="165.4" y2="523.1" stroke="#222" stroke-width="1"/>
<text x="184.6" y="543.3" font-size="6.6" text-anchor="middle" fill="#222">#</text>
<line x1="180.5" y1="547.1" x2="188.7" y2="547.1" stroke="#222" stroke-width="1"/>
<text x="220.7" y="549.9" font-size="6.6" text-anchor="middle" fill="#222">##</text>
<line x1="216.6" y1="554.3" x2="225.0" y2="554.3" stroke="#222" stroke-width="1"/>
<text x="236.4" y="528.3" font-size="6.6" text-anchor="middle" fill="#222">##</text>
<line x1="232.0" y1="532.3" x2="240.7" y2="532.3" stroke="#222" stroke-width="1"/>
<line x1="38.0" y1="641.0" x2="38.0" y2="780.3" stroke="#333" stroke-width="0.9"/>
<line x1="35.6" y1="780.3" x2="38.0" y2="780.3" stroke="#333" stroke-width="0.7"/>
<text x="34.0" y="783.0" font-size="7.8" text-anchor="end" fill="#333">0</text>
<line x1="35.6" y1="734.2" x2="38.0" y2="734.2" stroke="#333" stroke-width="0.7"/>
<text x="34.0" y="736.9" font-size="7.8" text-anchor="end" fill="#333">10</text>
<line x1="35.6" y1="688.1" x2="38.0" y2="688.1" stroke="#333" stroke-width="0.7"/>
<text x="34.0" y="690.8" font-size="7.8" text-anchor="end" fill="#333">20</text>
<line x1="35.6" y1="642.0" x2="38.0" y2="642.0" stroke="#333" stroke-width="0.7"/>
<text x="34.0" y="644.7" font-size="7.8" text-anchor="end" fill="#333">30</text>
<line x1="36.4" y1="757.2" x2="38.0" y2="757.2" stroke="#333" stroke-width="0.6"/>
<line x1="36.4" y1="711.1" x2="38.0" y2="711.1" stroke="#333" stroke-width="0.6"/>
<line x1="36.4" y1="665.0" x2="38.0" y2="665.0" stroke="#333" stroke-width="0.6"/>
<text x="19.9" y="710.6" font-size="8.9" text-anchor="middle" fill="#111" transform="rotate(-90 19.9 710.6)">Glucose/Ketone Index</text>
<line x1="38.0" y1="780.3" x2="240.3" y2="780.3" stroke="#333" stroke-width="0.9"/>
<line x1="38" y1="739.1" x2="240" y2="739.1" stroke="#bbb" stroke-width="0.9" stroke-dasharray="1.5,1.2"/>
<line x1="88.5" y1="636.0" x2="88.5" y2="780.3" stroke="#444" stroke-width="0.9"/>
<line x1="139.0" y1="636.0" x2="139.0" y2="780.3" stroke="#ccc" stroke-width="1.6"/>
<line x1="189.9" y1="636.0" x2="189.9" y2="780.3" stroke="#444" stroke-width="0.9"/>
<text x="64.0" y="637.6" font-size="8.5" text-anchor="middle" fill="#111">D0</text>
<text x="111.2" y="637.6" font-size="8.5" text-anchor="middle" fill="#111">D14</text>
<text x="163.6" y="637.6" font-size="8.5" text-anchor="middle" fill="#111">D85</text>
<text x="214.4" y="637.6" font-size="8.5" text-anchor="middle" fill="#111">D140</text>
<line x1="44.0" y1="709.3" x2="44.0" y2="733.3" stroke="#3fe83f" stroke-width="0.9"/>
<line x1="42.9" y1="709.3" x2="45.1" y2="709.3" stroke="#3fe83f" stroke-width="0.9"/>
<rect x="41.5" y="733.3" width="4.9" height="14.8" fill="none" stroke="#3fe83f" stroke-width="0.9"/>
<line x1="41.5" y1="746.9" x2="46.5" y2="746.9" stroke="#3fe83f" stroke-width="0.9"/>
<line x1="51.7" y1="675.2" x2="51.7" y2="706.5" stroke="#90bff5" stroke-width="0.9"/>
<line x1="50.6" y1="675.2" x2="52.8" y2="675.2" stroke="#90bff5" stroke-width="0.9"/>
<line x1="51.7" y1="745.3" x2="51.7" y2="755.2" stroke="#90bff5" stroke-width="0.9"/>
<line x1="50.6" y1="755.2" x2="52.8" y2="755.2" stroke="#90bff5" stroke-width="0.9"/>
<rect x="49.2" y="706.5" width="4.9" height="38.7" fill="none" stroke="#90bff5" stroke-width="0.9"/>
<line x1="49.2" y1="731.4" x2="54.2" y2="731.4" stroke="#90bff5" stroke-width="0.9"/>
<line x1="59.3" y1="696.4" x2="59.3" y2="717.6" stroke="#f48aae" stroke-width="0.9"/>
<line x1="58.2" y1="696.4" x2="60.4" y2="696.4" stroke="#f48aae" stroke-width="0.9"/>
<line x1="59.3" y1="748.0" x2="59.3" y2="750.3" stroke="#f48aae" stroke-width="0.9"/>
<line x1="58.2" y1="750.3" x2="60.4" y2="750.3" stroke="#f48aae" stroke-width="0.9"/>
<rect x="56.8" y="717.6" width="4.9" height="30.4" fill="none" stroke="#f48aae" stroke-width="0.9"/>
<line x1="56.8" y1="733.3" x2="61.8" y2="733.3" stroke="#f48aae" stroke-width="0.9"/>
<line x1="66.8" y1="718.5" x2="66.8" y2="719.0" stroke="#3d823d" stroke-width="0.9"/>
<line x1="65.7" y1="718.5" x2="67.9" y2="718.5" stroke="#3d823d" stroke-width="0.9"/>
<line x1="66.8" y1="748.4" x2="66.8" y2="754.5" stroke="#3d823d" stroke-width="0.9"/>
<line x1="65.7" y1="754.5" x2="67.9" y2="754.5" stroke="#3d823d" stroke-width="0.9"/>
<rect x="64.3" y="719.0" width="4.9" height="29.4" fill="none" stroke="#3d823d" stroke-width="0.9"/>
<line x1="64.3" y1="736.2" x2="69.2" y2="736.2" stroke="#3d823d" stroke-width="0.9"/>
<line x1="74.7" y1="686.3" x2="74.7" y2="711.1" stroke="#3434ee" stroke-width="0.9"/>
<line x1="73.6" y1="686.3" x2="75.8" y2="686.3" stroke="#3434ee" stroke-width="0.9"/>
<line x1="74.7" y1="745.3" x2="74.7" y2="753.6" stroke="#3434ee" stroke-width="0.9"/>
<line x1="73.6" y1="753.6" x2="75.8" y2="753.6" stroke="#3434ee" stroke-width="0.9"/>
<rect x="72.2" y="711.1" width="4.9" height="34.1" fill="none" stroke="#3434ee" stroke-width="0.9"/>
<line x1="72.2" y1="731.4" x2="77.2" y2="731.4" stroke="#3434ee" stroke-width="0.9"/>
<line x1="81.9" y1="719.4" x2="81.9" y2="733.7" stroke="#d3307c" stroke-width="0.9"/>
<line x1="80.8" y1="719.4" x2="83.0" y2="719.4" stroke="#d3307c" stroke-width="0.9"/>
<line x1="81.9" y1="753.8" x2="81.9" y2="762.3" stroke="#d3307c" stroke-width="0.9"/>
<line x1="80.8" y1="762.3" x2="83.0" y2="762.3" stroke="#d3307c" stroke-width="0.9"/>
<rect x="79.5" y="733.7" width="4.9" height="20.1" fill="none" stroke="#d3307c" stroke-width="0.9"/>
<line x1="79.5" y1="748.0" x2="84.4" y2="748.0" stroke="#d3307c" stroke-width="0.9"/>
<line x1="94.8" y1="722.2" x2="94.8" y2="733.7" stroke="#3fe83f" stroke-width="0.9"/>
<line x1="93.7" y1="722.2" x2="95.9" y2="722.2" stroke="#3fe83f" stroke-width="0.9"/>
<line x1="94.8" y1="750.3" x2="94.8" y2="757.0" stroke="#3fe83f" stroke-width="0.9"/>
<line x1="93.7" y1="757.0" x2="95.9" y2="757.0" stroke="#3fe83f" stroke-width="0.9"/>
<rect x="92.3" y="733.7" width="4.9" height="16.6" fill="none" stroke="#3fe83f" stroke-width="0.9"/>
<line x1="92.3" y1="739.3" x2="97.2" y2="739.3" stroke="#3fe83f" stroke-width="0.9"/>
<line x1="102.1" y1="669.2" x2="102.1" y2="713.5" stroke="#90bff5" stroke-width="0.9"/>
<line x1="101.0" y1="669.2" x2="103.2" y2="669.2" stroke="#90bff5" stroke-width="0.9"/>
<line x1="102.1" y1="730.5" x2="102.1" y2="741.6" stroke="#90bff5" stroke-width="0.9"/>
<line x1="101.0" y1="741.6" x2="103.2" y2="741.6" stroke="#90bff5" stroke-width="0.9"/>
<rect x="99.6" y="713.5" width="4.9" height="17.1" fill="none" stroke="#90bff5" stroke-width="0.9"/>
<line x1="99.6" y1="723.1" x2="104.5" y2="723.1" stroke="#90bff5" stroke-width="0.9"/>
<line x1="109.9" y1="743.4" x2="109.9" y2="755.4" stroke="#f48aae" stroke-width="0.9"/>
<line x1="108.8" y1="743.4" x2="111.0" y2="743.4" stroke="#f48aae" stroke-width="0.9"/>
<line x1="109.9" y1="768.3" x2="109.9" y2="771.5" stroke="#f48aae" stroke-width="0.9"/>
<line x1="108.8" y1="771.5" x2="111.0" y2="771.5" stroke="#f48aae" stroke-width="0.9"/>
<rect x="107.5" y="755.4" width="4.9" height="12.9" fill="none" stroke="#f48aae" stroke-width="0.9"/>
<line x1="107.5" y1="764.2" x2="112.4" y2="764.2" stroke="#f48aae" stroke-width="0.9"/>
<line x1="117.5" y1="712.3" x2="117.5" y2="728.7" stroke="#3d823d" stroke-width="0.9"/>
<line x1="116.4" y1="712.3" x2="118.6" y2="712.3" stroke="#3d823d" stroke-width="0.9"/>
<line x1="117.5" y1="743.4" x2="117.5" y2="748.7" stroke="#3d823d" stroke-width="0.9"/>
<line x1="116.4" y1="748.7" x2="118.6" y2="748.7" stroke="#3d823d" stroke-width="0.9"/>
<rect x="115.0" y="728.7" width="4.9" height="14.8" fill="none" stroke="#3d823d" stroke-width="0.9"/>
<line x1="115.0" y1="737.7" x2="120.0" y2="737.7" stroke="#3d823d" stroke-width="0.9"/>
<line x1="125.0" y1="721.3" x2="125.0" y2="748.7" stroke="#3434ee" stroke-width="0.9"/>
<line x1="123.9" y1="748.7" x2="126.1" y2="748.7" stroke="#3434ee" stroke-width="0.9"/>
<rect x="122.5" y="687.6" width="4.9" height="33.7" fill="none" stroke="#3434ee" stroke-width="0.9"/>
<line x1="122.5" y1="701.5" x2="127.5" y2="701.5" stroke="#3434ee" stroke-width="0.9"/>
<line x1="132.6" y1="741.6" x2="132.6" y2="748.0" stroke="#d3307c" stroke-width="0.9"/>
<line x1="131.5" y1="741.6" x2="133.7" y2="741.6" stroke="#d3307c" stroke-width="0.9"/>
<line x1="132.6" y1="759.6" x2="132.6" y2="770.2" stroke="#d3307c" stroke-width="0.9"/>
<line x1="131.5" y1="770.2" x2="133.7" y2="770.2" stroke="#d3307c" stroke-width="0.9"/>
<rect x="130.2" y="748.0" width="4.9" height="11.5" fill="none" stroke="#d3307c" stroke-width="0.9"/>
<line x1="130.2" y1="753.6" x2="135.0" y2="753.6" stroke="#d3307c" stroke-width="0.9"/>
<line x1="145.2" y1="707.5" x2="145.2" y2="714.6" stroke="#3fe83f" stroke-width="0.9"/>
<line x1="144.1" y1="707.5" x2="146.3" y2="707.5" stroke="#3fe83f" stroke-width="0.9"/>
<line x1="145.2" y1="734.0" x2="145.2" y2="740.2" stroke="#3fe83f" stroke-width="0.9"/>
<line x1="144.1" y1="740.2" x2="146.3" y2="740.2" stroke="#3fe83f" stroke-width="0.9"/>
<rect x="142.8" y="714.6" width="4.9" height="19.4" fill="none" stroke="#3fe83f" stroke-width="0.9"/>
<line x1="142.8" y1="719.2" x2="147.6" y2="719.2" stroke="#3fe83f" stroke-width="0.9"/>
<line x1="152.8" y1="710.2" x2="152.8" y2="711.6" stroke="#90bff5" stroke-width="0.9"/>
<line x1="151.7" y1="710.2" x2="153.9" y2="710.2" stroke="#90bff5" stroke-width="0.9"/>
<line x1="152.8" y1="731.9" x2="152.8" y2="749.4" stroke="#90bff5" stroke-width="0.9"/>
<line x1="151.7" y1="749.4" x2="153.9" y2="749.4" stroke="#90bff5" stroke-width="0.9"/>
<rect x="150.4" y="711.6" width="4.9" height="20.3" fill="none" stroke="#90bff5" stroke-width="0.9"/>
<line x1="150.4" y1="715.3" x2="155.2" y2="715.3" stroke="#90bff5" stroke-width="0.9"/>
<line x1="160.0" y1="713.5" x2="160.0" y2="731.0" stroke="#f48aae" stroke-width="0.9"/>
<line x1="158.9" y1="713.5" x2="161.1" y2="713.5" stroke="#f48aae" stroke-width="0.9"/>
<rect x="157.6" y="731.0" width="4.9" height="32.7" fill="none" stroke="#f48aae" stroke-width="0.9"/>
<line x1="157.6" y1="749.4" x2="162.4" y2="749.4" stroke="#f48aae" stroke-width="0.9"/>
<line x1="168.0" y1="663.2" x2="168.0" y2="677.5" stroke="#3d823d" stroke-width="0.9"/>
<line x1="166.9" y1="663.2" x2="169.1" y2="663.2" stroke="#3d823d" stroke-width="0.9"/>
<line x1="168.0" y1="740.2" x2="168.0" y2="746.9" stroke="#3d823d" stroke-width="0.9"/>
<line x1="166.9" y1="746.9" x2="169.1" y2="746.9" stroke="#3d823d" stroke-width="0.9"/>
<rect x="165.6" y="677.5" width="4.9" height="62.7" fill="none" stroke="#3d823d" stroke-width="0.9"/>
<line x1="165.6" y1="708.4" x2="170.4" y2="708.4" stroke="#3d823d" stroke-width="0.9"/>
<line x1="175.4" y1="678.4" x2="175.4" y2="683.5" stroke="#3434ee" stroke-width="0.9"/>
<line x1="174.3" y1="678.4" x2="176.5" y2="678.4" stroke="#3434ee" stroke-width="0.9"/>
<line x1="175.4" y1="737.7" x2="175.4" y2="752.2" stroke="#3434ee" stroke-width="0.9"/>
<line x1="174.3" y1="752.2" x2="176.5" y2="752.2" stroke="#3434ee" stroke-width="0.9"/>
<rect x="173.0" y="683.5" width="4.9" height="54.2" fill="none" stroke="#3434ee" stroke-width="0.9"/>
<line x1="173.0" y1="710.2" x2="177.8" y2="710.2" stroke="#3434ee" stroke-width="0.9"/>
<line x1="183.1" y1="732.4" x2="183.1" y2="734.7" stroke="#d3307c" stroke-width="0.9"/>
<line x1="182.0" y1="732.4" x2="184.2" y2="732.4" stroke="#d3307c" stroke-width="0.9"/>
<line x1="183.1" y1="751.3" x2="183.1" y2="753.1" stroke="#d3307c" stroke-width="0.9"/>
<line x1="182.0" y1="753.1" x2="184.2" y2="753.1" stroke="#d3307c" stroke-width="0.9"/>
<rect x="180.7" y="734.7" width="4.9" height="16.6" fill="none" stroke="#d3307c" stroke-width="0.9"/>
<line x1="180.7" y1="740.7" x2="185.5" y2="740.7" stroke="#d3307c" stroke-width="0.9"/>
<line x1="195.4" y1="701.7" x2="195.4" y2="726.4" stroke="#3fe83f" stroke-width="0.9"/>
<line x1="194.3" y1="701.7" x2="196.5" y2="701.7" stroke="#3fe83f" stroke-width="0.9"/>
<line x1="195.4" y1="772.5" x2="195.4" y2="772.9" stroke="#3fe83f" stroke-width="0.9"/>
<line x1="194.3" y1="772.9" x2="196.5" y2="772.9" stroke="#3fe83f" stroke-width="0.9"/>
<rect x="193.0" y="726.4" width="4.9" height="46.1" fill="none" stroke="#3fe83f" stroke-width="0.9"/>
<line x1="193.0" y1="766.5" x2="197.8" y2="766.5" stroke="#3fe83f" stroke-width="0.9"/>
<line x1="203.1" y1="710.0" x2="203.1" y2="728.9" stroke="#90bff5" stroke-width="0.9"/>
<line x1="202.0" y1="710.0" x2="204.2" y2="710.0" stroke="#90bff5" stroke-width="0.9"/>
<line x1="203.1" y1="745.3" x2="203.1" y2="749.4" stroke="#90bff5" stroke-width="0.9"/>
<line x1="202.0" y1="749.4" x2="204.2" y2="749.4" stroke="#90bff5" stroke-width="0.9"/>
<rect x="200.7" y="728.9" width="4.9" height="16.4" fill="none" stroke="#90bff5" stroke-width="0.9"/>
<line x1="200.7" y1="737.4" x2="205.5" y2="737.4" stroke="#90bff5" stroke-width="0.9"/>
<rect x="208.2" y="762.1" width="4.9" height="11.5" fill="none" stroke="#f48aae" stroke-width="0.9"/>
<line x1="208.2" y1="767.2" x2="213.1" y2="767.2" stroke="#f48aae" stroke-width="0.9"/>
<line x1="218.5" y1="687.4" x2="218.5" y2="716.0" stroke="#3d823d" stroke-width="0.9"/>
<line x1="217.4" y1="687.4" x2="219.6" y2="687.4" stroke="#3d823d" stroke-width="0.9"/>
<line x1="218.5" y1="738.3" x2="218.5" y2="743.9" stroke="#3d823d" stroke-width="0.9"/>
<line x1="217.4" y1="743.9" x2="219.6" y2="743.9" stroke="#3d823d" stroke-width="0.9"/>
<rect x="216.1" y="716.0" width="4.9" height="22.4" fill="none" stroke="#3d823d" stroke-width="0.9"/>
<line x1="216.1" y1="738.3" x2="220.9" y2="738.3" stroke="#3d823d" stroke-width="0.9"/>
<line x1="225.9" y1="731.4" x2="225.9" y2="739.7" stroke="#3434ee" stroke-width="0.9"/>
<line x1="224.8" y1="731.4" x2="227.0" y2="731.4" stroke="#3434ee" stroke-width="0.9"/>
<rect x="223.5" y="739.7" width="4.9" height="21.2" fill="none" stroke="#3434ee" stroke-width="0.9"/>
<line x1="223.5" y1="756.6" x2="228.3" y2="756.6" stroke="#3434ee" stroke-width="0.9"/>
<line x1="233.3" y1="750.6" x2="233.3" y2="752.9" stroke="#d3307c" stroke-width="0.9"/>
<line x1="232.2" y1="750.6" x2="234.4" y2="750.6" stroke="#d3307c" stroke-width="0.9"/>
<line x1="233.3" y1="762.6" x2="233.3" y2="763.7" stroke="#d3307c" stroke-width="0.9"/>
<line x1="232.2" y1="763.7" x2="234.4" y2="763.7" stroke="#d3307c" stroke-width="0.9"/>
<rect x="230.9" y="752.9" width="4.9" height="9.7" fill="none" stroke="#d3307c" stroke-width="0.9"/>
<line x1="230.9" y1="755.6" x2="235.8" y2="755.6" stroke="#d3307c" stroke-width="0.9"/>
<line x1="44.0" y1="780.3" x2="44.0" y2="783.8" stroke="#333" stroke-width="0.7"/>
<text x="44.0" y="792.6" font-size="7.6" text-anchor="middle" fill="#222">C</text>
<line x1="51.7" y1="780.3" x2="51.7" y2="783.8" stroke="#333" stroke-width="0.7"/>
<text x="51.7" y="792.6" font-size="7.6" text-anchor="middle" fill="#222">M</text>
<line x1="59.3" y1="780.3" x2="59.3" y2="783.8" stroke="#333" stroke-width="0.7"/>
<text x="59.3" y="792.6" font-size="7.6" text-anchor="middle" fill="#222">K</text>
<line x1="66.8" y1="780.3" x2="66.8" y2="783.8" stroke="#333" stroke-width="0.7"/>
<text x="66.8" y="792.6" font-size="7.6" text-anchor="middle" fill="#222">C</text>
<line x1="74.7" y1="780.3" x2="74.7" y2="783.8" stroke="#333" stroke-width="0.7"/>
<text x="74.7" y="792.6" font-size="7.6" text-anchor="middle" fill="#222">M</text>
<line x1="81.9" y1="780.3" x2="81.9" y2="783.8" stroke="#333" stroke-width="0.7"/>
<text x="81.9" y="792.6" font-size="7.6" text-anchor="middle" fill="#222">K</text>
<line x1="42.0" y1="794.4" x2="61.3" y2="794.4" stroke="#aaa" stroke-width="0.9"/>
<line x1="64.8" y1="794.4" x2="83.9" y2="794.4" stroke="#aaa" stroke-width="0.9"/>
<text x="51.6" y="802.6" font-size="6.6" text-anchor="middle" fill="#222">WT</text>
<text x="74.3" y="802.6" font-size="6.6" text-anchor="middle" fill="#222">3xTg</text>
<line x1="94.8" y1="780.3" x2="94.8" y2="783.8" stroke="#333" stroke-width="0.7"/>
<text x="94.8" y="792.6" font-size="7.6" text-anchor="middle" fill="#222">C</text>
<line x1="102.1" y1="780.3" x2="102.1" y2="783.8" stroke="#333" stroke-width="0.7"/>
<text x="102.1" y="792.6" font-size="7.6" text-anchor="middle" fill="#222">M</text>
<line x1="109.9" y1="780.3" x2="109.9" y2="783.8" stroke="#333" stroke-width="0.7"/>
<text x="109.9" y="792.6" font-size="7.6" text-anchor="middle" fill="#222">K</text>
<line x1="117.5" y1="780.3" x2="117.5" y2="783.8" stroke="#333" stroke-width="0.7"/>
<text x="117.5" y="792.6" font-size="7.6" text-anchor="middle" fill="#222">C</text>
<line x1="125.0" y1="780.3" x2="125.0" y2="783.8" stroke="#333" stroke-width="0.7"/>
<text x="125.0" y="792.6" font-size="7.6" text-anchor="middle" fill="#222">M</text>
<line x1="132.6" y1="780.3" x2="132.6" y2="783.8" stroke="#333" stroke-width="0.7"/>
<text x="132.6" y="792.6" font-size="7.6" text-anchor="middle" fill="#222">K</text>
<line x1="92.8" y1="794.4" x2="111.9" y2="794.4" stroke="#aaa" stroke-width="0.9"/>
<line x1="115.5" y1="794.4" x2="134.6" y2="794.4" stroke="#aaa" stroke-width="0.9"/>
<text x="102.3" y="802.6" font-size="6.6" text-anchor="middle" fill="#222">WT</text>
<text x="125.0" y="802.6" font-size="6.6" text-anchor="middle" fill="#222">3xTg</text>
<line x1="145.2" y1="780.3" x2="145.2" y2="783.8" stroke="#333" stroke-width="0.7"/>
<text x="145.2" y="792.6" font-size="7.6" text-anchor="middle" fill="#222">C</text>
<line x1="152.8" y1="780.3" x2="152.8" y2="783.8" stroke="#333" stroke-width="0.7"/>
<text x="152.8" y="792.6" font-size="7.6" text-anchor="middle" fill="#222">M</text>
<line x1="160.0" y1="780.3" x2="160.0" y2="783.8" stroke="#333" stroke-width="0.7"/>
<text x="160.0" y="792.6" font-size="7.6" text-anchor="middle" fill="#222">K</text>
<line x1="168.0" y1="780.3" x2="168.0" y2="783.8" stroke="#333" stroke-width="0.7"/>
<text x="168.0" y="792.6" font-size="7.6" text-anchor="middle" fill="#222">C</text>
<line x1="175.4" y1="780.3" x2="175.4" y2="783.8" stroke="#333" stroke-width="0.7"/>
<text x="175.4" y="792.6" font-size="7.6" text-anchor="middle" fill="#222">M</text>
<line x1="183.1" y1="780.3" x2="183.1" y2="783.8" stroke="#333" stroke-width="0.7"/>
<text x="183.1" y="792.6" font-size="7.6" text-anchor="middle" fill="#222">K</text>
<line x1="143.2" y1="794.4" x2="162.0" y2="794.4" stroke="#aaa" stroke-width="0.9"/>
<line x1="166.0" y1="794.4" x2="185.1" y2="794.4" stroke="#aaa" stroke-width="0.9"/>
<text x="152.6" y="802.6" font-size="6.6" text-anchor="middle" fill="#222">WT</text>
<text x="175.6" y="802.6" font-size="6.6" text-anchor="middle" fill="#222">3xTg</text>
<line x1="195.4" y1="780.3" x2="195.4" y2="783.8" stroke="#333" stroke-width="0.7"/>
<text x="195.4" y="792.6" font-size="7.6" text-anchor="middle" fill="#222">C</text>
<line x1="203.1" y1="780.3" x2="203.1" y2="783.8" stroke="#333" stroke-width="0.7"/>
<text x="203.1" y="792.6" font-size="7.6" text-anchor="middle" fill="#222">M</text>
<line x1="210.7" y1="780.3" x2="210.7" y2="783.8" stroke="#333" stroke-width="0.7"/>
<text x="210.7" y="792.6" font-size="7.6" text-anchor="middle" fill="#222">K</text>
<line x1="218.5" y1="780.3" x2="218.5" y2="783.8" stroke="#333" stroke-width="0.7"/>
<text x="218.5" y="792.6" font-size="7.6" text-anchor="middle" fill="#222">C</text>
<line x1="225.9" y1="780.3" x2="225.9" y2="783.8" stroke="#333" stroke-width="0.7"/>
<text x="225.9" y="792.6" font-size="7.6" text-anchor="middle" fill="#222">M</text>
<line x1="233.3" y1="780.3" x2="233.3" y2="783.8" stroke="#333" stroke-width="0.7"/>
<text x="233.3" y="792.6" font-size="7.6" text-anchor="middle" fill="#222">K</text>
<line x1="193.4" y1="794.4" x2="212.7" y2="794.4" stroke="#aaa" stroke-width="0.9"/>
<line x1="216.5" y1="794.4" x2="235.3" y2="794.4" stroke="#aaa" stroke-width="0.9"/>
<text x="203.1" y="802.6" font-size="6.6" text-anchor="middle" fill="#222">WT</text>
<text x="225.9" y="802.6" font-size="6.6" text-anchor="middle" fill="#222">3xTg</text>
<text x="102.0" y="664.7" font-size="11.5" text-anchor="middle" fill="#111">*</text>
<line x1="98.0" y1="664.8" x2="106.4" y2="664.8" stroke="#999" stroke-width="1"/>
<text x="125.6" y="683.4" font-size="11.5" text-anchor="middle" fill="#111">**</text>
<line x1="121.1" y1="683.2" x2="129.8" y2="683.2" stroke="#222" stroke-width="1"/>
<text x="109.6" y="779.7" font-size="11.5" text-anchor="middle" fill="#111">****</text>
<text x="131.9" y="779.7" font-size="11.5" text-anchor="middle" fill="#111">****</text>
<path d="M106,777 v1.5 h8 v-1.5" fill="none" stroke="#999" stroke-width="0.6"/>
<path d="M128.5,777 v1.5 h8 v-1.5" fill="none" stroke="#bbb" stroke-width="0.6"/>
<text x="183.2" y="730.7" font-size="11.5" text-anchor="middle" fill="#111">*</text>
<line x1="179.3" y1="730.5" x2="187.3" y2="730.5" stroke="#222" stroke-width="1"/>
<text x="218.3" y="679.6" font-size="6.6" text-anchor="middle" fill="#222">#</text>
<line x1="214.0" y1="683.3" x2="222.9" y2="683.3" stroke="#222" stroke-width="1"/>
<text x="233.5" y="747.7" font-size="11.5" text-anchor="middle" fill="#111">*</text>
<line x1="230.0" y1="747.8" x2="237.7" y2="747.8" stroke="#888" stroke-width="1"/>
<line x1="241.5" y1="743.0" x2="241.5" y2="776.5" stroke="#222" stroke-width="0.8"/>
<path d="M239.6,744.8 L241.5,740.8 L243.4,744.8 Z M239.6,774.6 L241.5,778.6 L243.4,774.6 Z" fill="#111"/>
<text x="245.2" y="759.8" font-size="7.3" text-anchor="middle" fill="#222" transform="rotate(90 245.2 759.8)">Ketosis</text>
<text x="299.5" y="9.8" font-size="14.5" font-weight="bold">c</text>
<polyline points="337.5,27.5 395.9,70.6 580.0,72.5" fill="none" stroke="#dcdcdc" stroke-width="0.6" stroke-linejoin="round"/>
<polyline points="336.8,83.7 395.9,103.4 580.0,104.5" fill="none" stroke="#dcdcdc" stroke-width="0.6" stroke-linejoin="round"/>
<polyline points="335.7,140.6 364.3,138.2 395.9,137.5 580.0,139.7" fill="none" stroke="#cfcfcf" stroke-width="0.7" stroke-linejoin="round"/>
<polyline points="335.7,197.4 393.9,169.9 580.0,170.5" fill="none" stroke="#dcdcdc" stroke-width="0.6" stroke-linejoin="round"/>
<polyline points="324.4,262.8 393.9,202.6 580.0,205.0" fill="none" stroke="#dcdcdc" stroke-width="0.6" stroke-linejoin="round"/>
<polyline points="352.1,10.0 346.9,243.4" fill="none" stroke="#d6d6d6" stroke-width="0.6" stroke-linejoin="round"/>
<polyline points="367.4,15.0 364.3,230.1" fill="none" stroke="#d6d6d6" stroke-width="0.6" stroke-linejoin="round"/>
<polyline points="379.9,28.0 375.5,218.0" fill="none" stroke="#d6d6d6" stroke-width="0.6" stroke-linejoin="round"/>
<polyline points="389.3,38.0 385.7,209.7" fill="none" stroke="#d6d6d6" stroke-width="0.6" stroke-linejoin="round"/>
<polyline points="395.9,70.6 393.9,202.6" fill="none" stroke="#d6d6d6" stroke-width="0.6" stroke-linejoin="round"/>
<polyline points="428.1,45.0 426.6,204.0" fill="none" stroke="#dedede" stroke-width="0.6" stroke-linejoin="round"/>
<polyline points="462.5,45.0 461.0,204.0" fill="none" stroke="#dedede" stroke-width="0.6" stroke-linejoin="round"/>
<polyline points="495.5,45.0 494.0,204.0" fill="none" stroke="#dedede" stroke-width="0.6" stroke-linejoin="round"/>
<polyline points="528.5,45.0 527.0,204.0" fill="none" stroke="#dedede" stroke-width="0.6" stroke-linejoin="round"/>
<polyline points="563.5,45.0 562.0,204.0" fill="none" stroke="#dedede" stroke-width="0.6" stroke-linejoin="round"/>
<polyline points="580.9,45.0 579.4,204.0" fill="none" stroke="#dedede" stroke-width="0.6" stroke-linejoin="round"/>
<line x1="497.5" y1="45.0" x2="496.0" y2="204.0" stroke="#cdcdcd" stroke-width="0.7"/>
<polyline points="385.7,209.7 592.0,211.2" fill="none" stroke="#dedede" stroke-width="0.6" stroke-linejoin="round"/>
<polyline points="375.5,218.0 605.0,219.5" fill="none" stroke="#dedede" stroke-width="0.6" stroke-linejoin="round"/>
<polyline points="362.2,230.1 621.0,231.6" fill="none" stroke="#dedede" stroke-width="0.6" stroke-linejoin="round"/>
<polyline points="345.9,243.4 642.0,244.9" fill="none" stroke="#dedede" stroke-width="0.6" stroke-linejoin="round"/>
<polyline points="388.8,257.7 426.6,202.6" fill="none" stroke="#dedede" stroke-width="0.6" stroke-linejoin="round"/>
<polyline points="445.8,258.0 461.0,203.0" fill="none" stroke="#dedede" stroke-width="0.6" stroke-linejoin="round"/>
<polyline points="509.3,260.0 494.0,203.0" fill="none" stroke="#dedede" stroke-width="0.6" stroke-linejoin="round"/>
<polyline points="568.4,260.0 527.0,203.0" fill="none" stroke="#dedede" stroke-width="0.6" stroke-linejoin="round"/>
<polyline points="604.0,255.0 562.0,203.0" fill="none" stroke="#dedede" stroke-width="0.6" stroke-linejoin="round"/>
<text x="333.1" y="26.0" font-size="5" text-anchor="middle" fill="#777" transform="rotate(30 333.1 26)">20</text>
<text x="331.7" y="84.0" font-size="5" text-anchor="middle" fill="#777" transform="rotate(30 331.7 84)">10</text>
<text x="329.7" y="141.0" font-size="5" text-anchor="middle" fill="#777" transform="rotate(30 329.7 141)">0</text>
<text x="329.5" y="199.0" font-size="5" text-anchor="middle" fill="#777" transform="rotate(30 329.5 199)">-10</text>
<text x="327.5" y="259.3" font-size="5" text-anchor="middle" fill="#777" transform="rotate(30 327.5 259.3)">-20</text>
<text x="385.3" y="261.0" font-size="5" text-anchor="middle" fill="#777" transform="rotate(-55 385.3 261)">20</text>
<text x="448.0" y="261.0" font-size="5" text-anchor="middle" fill="#777" transform="rotate(-55 448 261)">10</text>
<text x="509.3" y="261.0" font-size="5" text-anchor="middle" fill="#777" transform="rotate(-55 509.3 261)">0</text>
<text x="569.3" y="262.4" font-size="5" text-anchor="middle" fill="#777" transform="rotate(-55 569.3 262.4)">-10</text>
<text x="606.0" y="258.0" font-size="5" text-anchor="middle" fill="#777" transform="rotate(-55 606 258)">-20</text>
<text x="603.0" y="221.2" font-size="5" text-anchor="middle" fill="#777">20</text>
<text x="611.0" y="232.4" font-size="5" text-anchor="middle" fill="#777">10</text>
<text x="626.0" y="232.5" font-size="5" text-anchor="middle" fill="#777">0</text>
<text x="645.5" y="246.5" font-size="5" text-anchor="middle" fill="#777">-10</text>
<text x="327.0" y="134.7" font-size="9.95" text-anchor="middle" fill="#111" transform="rotate(-90 327 134.7)">MD2: 9.7% variance</text>
<text x="451.0" y="275.5" font-size="9.6" fill="#111">MD1: 16.7% variance</text>
<text x="603.5" y="203.5" font-size="9.6" fill="#111" transform="rotate(37.4 603.5 203.5)">MD3: 8.8% variance</text>
<circle cx="475.2" cy="36.8" r="2.55" fill="#8de58d"/>
<circle cx="469.9" cy="79.8" r="2.55" fill="#8de58d"/>
<circle cx="365.6" cy="96.0" r="2.55" fill="#8de58d"/>
<circle cx="413.6" cy="102.2" r="2.55" fill="#8de58d"/>
<circle cx="387.4" cy="114.4" r="2.55" fill="#8de58d"/>
<circle cx="388.4" cy="117.4" r="2.55" fill="#8de58d"/>
<circle cx="394.0" cy="120.4" r="2.55" fill="#8de58d"/>
<circle cx="422.2" cy="119.2" r="2.55" fill="#8de58d"/>
<circle cx="383.2" cy="131.6" r="2.55" fill="#8de58d"/>
<circle cx="394.4" cy="83.6" r="2.55" fill="#1fe6f2"/>
<circle cx="415.8" cy="98.0" r="2.55" fill="#1fe6f2"/>
<circle cx="378.4" cy="104.8" r="2.55" fill="#1fe6f2"/>
<circle cx="418.2" cy="110.4" r="2.55" fill="#1fe6f2"/>
<circle cx="405.2" cy="114.0" r="2.55" fill="#1fe6f2"/>
<circle cx="397.4" cy="119.4" r="2.55" fill="#1fe6f2"/>
<circle cx="403.4" cy="126.0" r="2.55" fill="#1fe6f2"/>
<circle cx="413.6" cy="126.6" r="2.55" fill="#1fe6f2"/>
<circle cx="401.6" cy="139.4" r="2.55" fill="#1fe6f2"/>
<circle cx="391.8" cy="142.6" r="2.55" fill="#1fe6f2"/>
<circle cx="411.8" cy="165.4" r="2.55" fill="#1fe6f2"/>
<circle cx="428.4" cy="180.4" r="2.55" fill="#f21818"/>
<circle cx="432.0" cy="177.6" r="2.55" fill="#f21818"/>
<circle cx="434.4" cy="176.8" r="2.55" fill="#f21818"/>
<circle cx="438.6" cy="177.0" r="2.55" fill="#f21818"/>
<circle cx="449.4" cy="185.6" r="2.55" fill="#f21818"/>
<circle cx="459.2" cy="175.4" r="2.55" fill="#f21818"/>
<circle cx="466.0" cy="178.4" r="2.55" fill="#f21818"/>
<circle cx="490.4" cy="156.0" r="2.55" fill="#f21818"/>
<circle cx="523.4" cy="54.1" r="2.55" fill="#f21818"/>
<circle cx="539.5" cy="63.9" r="2.55" fill="#f21818"/>
<circle cx="430.5" cy="178.8" r="2.55" fill="#f21818"/>
<rect x="415.6" y="129.6" width="5.2" height="5.2" fill="#8b0000"/>
<rect x="564.7" y="46.8" width="5.2" height="5.2" fill="#8b0000"/>
<rect x="584.1" y="40.8" width="5.2" height="5.2" fill="#8b0000"/>
<rect x="593.4" y="34.2" width="5.2" height="5.2" fill="#8b0000"/>
<rect x="586.2" y="52.0" width="5.2" height="5.2" fill="#8b0000"/>
<rect x="601.1" y="49.6" width="5.2" height="5.2" fill="#8b0000"/>
<rect x="593.2" y="59.0" width="5.2" height="5.2" fill="#8b0000"/>
<rect x="570.8" y="75.3" width="5.2" height="5.2" fill="#8b0000"/>
<rect x="564.4" y="80.5" width="5.2" height="5.2" fill="#8b0000"/>
<rect x="546.0" y="85.9" width="5.2" height="5.2" fill="#8b0000"/>
<rect x="555.4" y="146.4" width="5.2" height="5.2" fill="#0a8b8b"/>
<rect x="542.4" y="163.6" width="5.2" height="5.2" fill="#0a8b8b"/>
<rect x="525.4" y="168.8" width="5.2" height="5.2" fill="#0a8b8b"/>
<rect x="546.8" y="180.4" width="5.2" height="5.2" fill="#0a8b8b"/>
<rect x="564.8" y="177.8" width="5.2" height="5.2" fill="#0a8b8b"/>
<rect x="572.4" y="187.4" width="5.2" height="5.2" fill="#0a8b8b"/>
<rect x="562.9" y="201.2" width="5.2" height="5.2" fill="#0a8b8b"/>
<rect x="574.2" y="157.6" width="5.2" height="5.2" fill="#0a8b8b"/>
<rect x="573.7" y="204.0" width="5.2" height="5.2" fill="#0a8b8b"/>
<rect x="567.4" y="220.4" width="5.2" height="5.2" fill="#0a8b8b"/>
<rect x="570.4" y="229.4" width="5.2" height="5.2" fill="#0a8b8b"/>
<rect x="595.4" y="163.4" width="5.2" height="5.2" fill="#006400"/>
<rect x="591.4" y="182.8" width="5.2" height="5.2" fill="#006400"/>
<rect x="592.8" y="189.0" width="5.2" height="5.2" fill="#006400"/>
<rect x="587.0" y="194.8" width="5.2" height="5.2" fill="#006400"/>
<rect x="587.4" y="206.4" width="5.2" height="5.2" fill="#006400"/>
<rect x="574.4" y="213.2" width="5.2" height="5.2" fill="#006400"/>
<rect x="587.6" y="224.2" width="5.2" height="5.2" fill="#006400"/>
<rect x="565.8" y="187.4" width="5.2" height="5.2" fill="#006400"/>
<rect x="563.4" y="200.8" width="5.2" height="5.2" fill="#006400"/>
<rect x="570.4" y="226.2" width="5.2" height="5.2" fill="#006400"/>
<rect x="579.0" y="233.4" width="5.2" height="5.2" fill="#006400"/>
<circle cx="645.7" cy="27.7" r="3.1" fill="#8de58d"/>
<text x="654.2" y="30.6" font-size="8.1" fill="#222">WT.C</text>
<circle cx="645.7" cy="35.8" r="3.1" fill="#1fe6f2"/>
<text x="654.2" y="38.7" font-size="8.1" fill="#222">WT.M</text>
<circle cx="645.7" cy="43.9" r="3.1" fill="#f21818"/>
<text x="654.2" y="46.8" font-size="8.1" fill="#222">WT.K</text>
<rect x="644.0" y="64.7" width="5.2" height="5.2" fill="#006400"/>
<text x="651.9" y="70.1" font-size="8.1" fill="#222">3xTg.C</text>
<rect x="644.0" y="73.2" width="5.2" height="5.2" fill="#0a8b8b"/>
<text x="651.9" y="78.6" font-size="8.1" fill="#222">3xTg.M</text>
<rect x="644.0" y="81.6" width="5.2" height="5.2" fill="#8b0000"/>
<text x="651.9" y="87.0" font-size="8.1" fill="#222">3xTg.K</text>
<text x="450.7" y="296.8" font-size="10.2" text-anchor="middle" fill="#111">Percentage of explained variances</text>
<rect x="335.6" y="308.6" width="225.1" height="10.2" fill="#4682b4"/>
<rect x="335.6" y="318.8" width="130.0" height="10.2" fill="#4682b4"/>
<rect x="335.6" y="329.0" width="117.9" height="10.2" fill="#4682b4"/>
<rect x="335.6" y="339.1" width="85.8" height="10.2" fill="#4682b4"/>
<rect x="335.6" y="349.3" width="54.9" height="10.2" fill="#4682b4"/>
<rect x="335.6" y="359.5" width="46.9" height="10.2" fill="#4682b4"/>
<rect x="335.6" y="369.7" width="41.5" height="10.2" fill="#4682b4"/>
<rect x="335.6" y="379.9" width="36.2" height="10.2" fill="#4682b4"/>
<rect x="335.6" y="390.0" width="36.2" height="10.2" fill="#4682b4"/>
<rect x="335.6" y="400.2" width="33.5" height="10.2" fill="#4682b4"/>
<line x1="335.6" y1="318.8" x2="560.7" y2="318.8" stroke="#a9c6e2" stroke-width="0.9"/>
<line x1="335.6" y1="329.0" x2="465.6" y2="329.0" stroke="#a9c6e2" stroke-width="0.9"/>
<line x1="335.6" y1="339.1" x2="453.5" y2="339.1" stroke="#a9c6e2" stroke-width="0.9"/>
<line x1="335.6" y1="349.3" x2="421.4" y2="349.3" stroke="#a9c6e2" stroke-width="0.9"/>
<line x1="335.6" y1="359.5" x2="390.5" y2="359.5" stroke="#a9c6e2" stroke-width="0.9"/>
<line x1="335.6" y1="369.7" x2="382.5" y2="369.7" stroke="#a9c6e2" stroke-width="0.9"/>
<line x1="335.6" y1="379.9" x2="377.1" y2="379.9" stroke="#a9c6e2" stroke-width="0.9"/>
<line x1="335.6" y1="390.0" x2="371.8" y2="390.0" stroke="#a9c6e2" stroke-width="0.9"/>
<line x1="335.6" y1="400.2" x2="371.8" y2="400.2" stroke="#a9c6e2" stroke-width="0.9"/>
<line x1="335.6" y1="308.6" x2="560.7" y2="308.6" stroke="#333" stroke-width="0.9"/>
<line x1="335.6" y1="307.0" x2="335.6" y2="308.6" stroke="#333" stroke-width="0.6"/>
<text x="337.2" y="306.0" font-size="5.2" fill="#444" transform="rotate(-90 337.20000000000005 306.0)">0</text>
<line x1="402.6" y1="307.0" x2="402.6" y2="308.6" stroke="#333" stroke-width="0.6"/>
<text x="404.2" y="306.0" font-size="5.2" fill="#444" transform="rotate(-90 404.20000000000005 306.0)">5</text>
<line x1="469.6" y1="307.0" x2="469.6" y2="308.6" stroke="#333" stroke-width="0.6"/>
<text x="471.2" y="306.0" font-size="5.2" fill="#444" transform="rotate(-90 471.20000000000005 306.0)">10</text>
<line x1="536.6" y1="307.0" x2="536.6" y2="308.6" stroke="#333" stroke-width="0.6"/>
<text x="538.2" y="306.0" font-size="5.2" fill="#444" transform="rotate(-90 538.2 306.0)">15</text>
<polyline points="560.7,313.7 465.6,323.9 453.5,334.1 421.4,344.2 390.5,354.4 382.5,364.6 377.1,374.8 371.8,385.0 371.8,395.1 369.1,405.3" fill="none" stroke="#000" stroke-width="0.8" stroke-linejoin="round"/>
<circle cx="560.7" cy="313.7" r="0.9" fill="#000"/>
<text x="562.3" y="316.1" font-size="6.8" fill="#222">16.7%</text>
<circle cx="465.6" cy="323.9" r="0.9" fill="#000"/>
<text x="471.0" y="327.1" font-size="6.8" fill="#222">9.7%</text>
<circle cx="453.5" cy="334.1" r="0.9" fill="#000"/>
<text x="458.4" y="337.2" font-size="6.8" fill="#222">8.8%</text>
<circle cx="421.4" cy="344.2" r="0.9" fill="#000"/>
<text x="425.0" y="347.4" font-size="6.8" fill="#222">6.4%</text>
<circle cx="390.5" cy="354.4" r="0.9" fill="#000"/>
<text x="394.1" y="357.6" font-size="6.8" fill="#222">4.1%</text>
<circle cx="382.5" cy="364.6" r="0.9" fill="#000"/>
<text x="386.4" y="367.8" font-size="6.8" fill="#222">3.5%</text>
<circle cx="377.1" cy="374.8" r="0.9" fill="#000"/>
<text x="381.0" y="378.0" font-size="6.8" fill="#222">3.1%</text>
<circle cx="371.8" cy="385.0" r="0.9" fill="#000"/>
<text x="376.0" y="388.2" font-size="6.8" fill="#222">2.7%</text>
<circle cx="371.8" cy="395.1" r="0.9" fill="#000"/>
<text x="376.8" y="398.3" font-size="6.8" fill="#222">2.7%</text>
<circle cx="369.1" cy="405.3" r="0.9" fill="#000"/>
<text x="373.0" y="408.5" font-size="6.8" fill="#222">2.5%</text>
<text x="330.6" y="313.7" font-size="5.6" text-anchor="middle" fill="#333" transform="rotate(90 330.6 313.69)">1</text>
<text x="330.6" y="323.9" font-size="5.6" text-anchor="middle" fill="#333" transform="rotate(90 330.6 323.87)">2</text>
<text x="330.6" y="334.1" font-size="5.6" text-anchor="middle" fill="#333" transform="rotate(90 330.6 334.05)">3</text>
<text x="330.6" y="344.2" font-size="5.6" text-anchor="middle" fill="#333" transform="rotate(90 330.6 344.23)">4</text>
<text x="330.6" y="354.4" font-size="5.6" text-anchor="middle" fill="#333" transform="rotate(90 330.6 354.41)">5</text>
<text x="330.6" y="364.6" font-size="5.6" text-anchor="middle" fill="#333" transform="rotate(90 330.6 364.59000000000003)">6</text>
<text x="330.6" y="374.8" font-size="5.6" text-anchor="middle" fill="#333" transform="rotate(90 330.6 374.77000000000004)">7</text>
<text x="330.6" y="385.0" font-size="5.6" text-anchor="middle" fill="#333" transform="rotate(90 330.6 384.95000000000005)">8</text>
<text x="330.6" y="395.1" font-size="5.6" text-anchor="middle" fill="#333" transform="rotate(90 330.6 395.13)">9</text>
<text x="330.6" y="405.3" font-size="5.6" text-anchor="middle" fill="#333" transform="rotate(90 330.6 405.31)">10</text>
<text x="323.4" y="359.0" font-size="7.6" text-anchor="middle" fill="#111" transform="rotate(90 323.4 359)">Dimensions</text>
<defs><linearGradient id="ck" x1="0" x2="1" y1="0" y2="0"><stop offset="0.00" stop-color="#b2182b"/><stop offset="0.05" stop-color="#c03438"/><stop offset="0.10" stop-color="#ce5146"/><stop offset="0.15" stop-color="#dc6d57"/><stop offset="0.20" stop-color="#e8896d"/><stop offset="0.25" stop-color="#f4a582"/><stop offset="0.30" stop-color="#f8bb9e"/><stop offset="0.35" stop-color="#fbd1ba"/><stop offset="0.40" stop-color="#fce1d1"/><stop offset="0.45" stop-color="#f9ece4"/><stop offset="0.50" stop-color="#f7f7f7"/><stop offset="0.55" stop-color="#e8f0f4"/><stop offset="0.60" stop-color="#d9e9f1"/><stop offset="0.65" stop-color="#c5dfed"/><stop offset="0.70" stop-color="#acd2e5"/><stop offset="0.75" stop-color="#92c5de"/><stop offset="0.80" stop-color="#72b1d3"/><stop offset="0.85" stop-color="#529cc8"/><stop offset="0.90" stop-color="#3c8abe"/><stop offset="0.95" stop-color="#2e78b5"/><stop offset="1.00" stop-color="#2166ac"/></linearGradient></defs>
<rect x="328.4" y="458.6" width="53.6" height="47.4" fill="url(#ck)"/>
<rect x="328.4" y="458.6" width="53.6" height="47.4" fill="none" stroke="#333" stroke-width="0.6"/>
<text x="355.2" y="445.5" font-size="7" text-anchor="middle" fill="#111" font-weight="bold">Color Key &amp;</text>
<text x="355.2" y="453.8" font-size="7" text-anchor="middle" fill="#111" font-weight="bold">Histogram</text>
<text x="320.2" y="480.5" font-size="7.9" text-anchor="middle" fill="#111" font-weight="bold" transform="rotate(-90 320.2 480.5)">10^3 Count</text>
<line x1="327.0" y1="506.0" x2="328.4" y2="506.0" stroke="#333" stroke-width="0.5"/>
<text x="326.2" y="506.0" font-size="4.6" text-anchor="middle" fill="#333" transform="rotate(-90 326.2 506.0)">0</text>
<line x1="327.0" y1="496.5" x2="328.4" y2="496.5" stroke="#333" stroke-width="0.5"/>
<text x="326.2" y="496.5" font-size="4.6" text-anchor="middle" fill="#333" transform="rotate(-90 326.2 496.52)">2</text>
<line x1="327.0" y1="487.0" x2="328.4" y2="487.0" stroke="#333" stroke-width="0.5"/>
<text x="326.2" y="487.0" font-size="4.6" text-anchor="middle" fill="#333" transform="rotate(-90 326.2 487.04)">4</text>
<line x1="327.0" y1="477.6" x2="328.4" y2="477.6" stroke="#333" stroke-width="0.5"/>
<text x="326.2" y="477.6" font-size="4.6" text-anchor="middle" fill="#333" transform="rotate(-90 326.2 477.56)">6</text>
<line x1="327.0" y1="468.1" x2="328.4" y2="468.1" stroke="#333" stroke-width="0.5"/>
<text x="326.2" y="468.1" font-size="4.6" text-anchor="middle" fill="#333" transform="rotate(-90 326.2 468.08)">8</text>
<line x1="327.0" y1="458.6" x2="328.4" y2="458.6" stroke="#333" stroke-width="0.5"/>
<text x="326.2" y="458.6" font-size="4.6" text-anchor="middle" fill="#333" transform="rotate(-90 326.2 458.6)">10</text>
<line x1="328.7" y1="506.0" x2="328.7" y2="507.5" stroke="#333" stroke-width="0.5"/>
<text x="328.7" y="511.2" font-size="5.4" text-anchor="middle" fill="#333">0</text>
<line x1="346.0" y1="506.0" x2="346.0" y2="507.5" stroke="#333" stroke-width="0.5"/>
<text x="346.0" y="511.2" font-size="5.4" text-anchor="middle" fill="#333">5</text>
<line x1="363.4" y1="506.0" x2="363.4" y2="507.5" stroke="#333" stroke-width="0.5"/>
<text x="363.4" y="511.2" font-size="5.4" text-anchor="middle" fill="#333">10</text>
<line x1="380.7" y1="506.0" x2="380.7" y2="507.5" stroke="#333" stroke-width="0.5"/>
<text x="380.7" y="511.2" font-size="5.4" text-anchor="middle" fill="#333">15</text>
<text x="355.2" y="516.3" font-size="6.3" text-anchor="middle" fill="#111" font-weight="bold">Value</text>
<path d="M329.4,460 L329.6,504.5 L333,504 C338,503 341,501.8 345,501.6 C350,501.4 354,502.6 358,503.6 C362,504.6 366,505 370,505.3 L381.5,505.5" fill="none" stroke="#1ee0e6" stroke-width="1.1"/>
<text x="388.6" y="461.0" font-size="11.8" fill="#111">Genotype.diet</text>
<rect x="393.0" y="468.9" width="6.2" height="6.2" fill="#22ee22"/>
<text x="403.4" y="476.2" font-size="11.8" fill="#111">WT.C</text>
<rect x="393.0" y="483.5" width="6.2" height="6.2" fill="#22eeff"/>
<text x="403.4" y="490.8" font-size="11.8" fill="#111">WT.M</text>
<rect x="393.0" y="498.3" width="6.2" height="6.2" fill="#ee2222"/>
<text x="403.4" y="505.6" font-size="11.8" fill="#111">WT.K</text>
<rect x="448.0" y="468.9" width="6.2" height="6.2" fill="#006400"/>
<text x="458.4" y="476.2" font-size="11.8" fill="#111">3xTg.C</text>
<rect x="448.0" y="483.5" width="6.2" height="6.2" fill="#2a2a96"/>
<text x="458.4" y="490.8" font-size="11.8" fill="#111">3xTg.M</text>
<rect x="448.0" y="498.3" width="6.2" height="6.2" fill="#8b2232"/>
<text x="458.4" y="505.6" font-size="11.8" fill="#111">3xTg.K</text>
<text x="519.0" y="460.5" font-size="11.8" fill="#111">Diet duration (mouse age)</text>
<rect x="520.7" y="469.7" width="5.9" height="5.9" fill="#0b1a14"/>
<text x="530.4" y="476.8" font-size="11.8" fill="#111">5 mo (8 mo)</text>
<rect x="520.7" y="484.5" width="5.9" height="5.9" fill="#566262"/>
<text x="530.4" y="491.6" font-size="11.8" fill="#111">3 mo (6 mo)</text>
<rect x="520.7" y="499.1" width="5.9" height="5.9" fill="#a3abab"/>
<text x="530.4" y="506.2" font-size="11.8" fill="#111">1 mo (4 mo)</text>
<path d="M286.6 550.2L292.7 550.2M286.6 550.2L286.6 572.6M292.7 550.2L292.7 572.6M298.9 554.3L305.1 554.3M298.9 554.3L298.9 572.6M305.1 554.3L305.1 572.6M311.2 554.3L317.4 554.3M311.2 554.3L311.2 572.6M317.4 554.3L317.4 572.6M302.0 548.5L314.3 548.5M302.0 548.5L302.0 554.3M314.3 548.5L314.3 554.3M289.7 543.4L308.1 543.4M289.7 543.4L289.7 550.2M308.1 543.4L308.1 548.5M323.5 552.4L329.7 552.4M323.5 552.4L323.5 572.6M329.7 552.4L329.7 572.6M335.9 554.3L342.0 554.3M335.9 554.3L335.9 572.6M342.0 554.3L342.0 572.6M326.6 546.3L338.9 546.3M326.6 546.3L326.6 552.4M338.9 546.3L338.9 554.3M360.5 557.5L366.7 557.5M360.5 557.5L360.5 572.6M366.7 557.5L366.7 572.6M354.3 555.5L363.6 555.5M354.3 555.5L354.3 572.6M363.6 555.5L363.6 557.5M359.0 552.2L372.8 552.2M359.0 552.2L359.0 555.5M372.8 552.2L372.8 572.6M385.1 554.8L391.3 554.8M385.1 554.8L385.1 572.6M391.3 554.8L391.3 572.6M379.0 552.5L388.2 552.5M379.0 552.5L379.0 572.6M388.2 552.5L388.2 554.8M365.9 548.3L383.6 548.3M365.9 548.3L365.9 552.2M383.6 548.3L383.6 552.5M348.2 545.5L374.7 545.5M348.2 545.5L348.2 572.6M374.7 545.5L374.7 548.3M332.8 540.4L361.5 540.4M332.8 540.4L332.8 546.3M361.5 540.4L361.5 545.5M298.9 535.0L347.1 535.0M298.9 535.0L298.9 543.4M347.1 535.0L347.1 540.4M403.6 556.8L409.8 556.8M403.6 556.8L403.6 572.6M409.8 556.8L409.8 572.6M406.7 554.0L415.9 554.0M406.7 554.0L406.7 556.8M415.9 554.0L415.9 572.6M411.3 551.1L422.1 551.1M411.3 551.1L411.3 554.0M422.1 551.1L422.1 572.6M416.7 546.1L428.3 546.1M416.7 546.1L416.7 551.1M428.3 546.1L428.3 572.6M397.5 544.1L422.5 544.1M397.5 544.1L397.5 572.6M422.5 544.1L422.5 546.1M434.4 551.6L440.6 551.6M434.4 551.6L434.4 572.6M440.6 551.6L440.6 572.6M446.7 556.6L452.9 556.6M446.7 556.6L446.7 572.6M452.9 556.6L452.9 572.6M449.8 552.9L459.1 552.9M449.8 552.9L449.8 556.6M459.1 552.9L459.1 572.6M437.5 548.0L454.4 548.0M437.5 548.0L437.5 551.6M454.4 548.0L454.4 552.9M477.5 557.5L483.7 557.5M477.5 557.5L477.5 572.6M483.7 557.5L483.7 572.6M471.4 553.5L480.6 553.5M471.4 553.5L471.4 572.6M480.6 553.5L480.6 557.5M465.2 549.3L476.0 549.3M465.2 549.3L465.2 572.6M476.0 549.3L476.0 553.5M496.0 557.5L502.2 557.5M496.0 557.5L496.0 572.6M502.2 557.5L502.2 572.6M489.9 555.2L499.1 555.2M489.9 555.2L489.9 572.6M499.1 555.2L499.1 557.5M508.3 557.4L514.5 557.4M508.3 557.4L508.3 572.6M514.5 557.4L514.5 572.6M511.4 552.8L520.7 552.8M511.4 552.8L511.4 557.4M520.7 552.8L520.7 572.6M494.5 550.6L516.0 550.6M494.5 550.6L494.5 555.2M516.0 550.6L516.0 552.8M470.6 546.7L505.3 546.7M470.6 546.7L470.6 549.3M505.3 546.7L505.3 550.6M446.0 542.5L487.9 542.5M446.0 542.5L446.0 548.0M487.9 542.5L487.9 546.7M410.0 540.4L467.0 540.4M410.0 540.4L410.0 544.1M467.0 540.4L467.0 542.5M533.0 547.1L539.1 547.1M533.0 547.1L533.0 572.6M539.1 547.1L539.1 572.6M536.1 545.0L545.3 545.0M536.1 545.0L536.1 547.1M545.3 545.0L545.3 572.6M551.5 550.7L557.6 550.7M551.5 550.7L551.5 572.6M557.6 550.7L557.6 572.6M569.9 556.6L576.1 556.6M569.9 556.6L569.9 572.6M576.1 556.6L576.1 572.6M563.8 551.5L573.0 551.5M563.8 551.5L563.8 572.6M573.0 551.5L573.0 556.6M554.5 547.0L568.4 547.0M554.5 547.0L554.5 550.7M568.4 547.0L568.4 551.5M540.7 542.0L561.5 542.0M540.7 542.0L540.7 545.0M561.5 542.0L561.5 547.0M526.8 537.9L551.1 537.9M526.8 537.9L526.8 572.6M551.1 537.9L551.1 542.0M582.3 554.1L588.4 554.1M582.3 554.1L582.3 572.6M588.4 554.1L588.4 572.6M585.3 550.7L594.6 550.7M585.3 550.7L585.3 554.1M594.6 550.7L594.6 572.6M600.7 550.3L606.9 550.3M600.7 550.3L600.7 572.6M606.9 550.3L606.9 572.6M590.0 545.5L603.8 545.5M590.0 545.5L590.0 550.7M603.8 545.5L603.8 550.3M613.1 549.8L619.2 549.8M613.1 549.8L613.1 572.6M619.2 549.8L619.2 572.6M625.4 557.2L631.5 557.2M625.4 557.2L625.4 572.6M631.5 557.2L631.5 572.6M637.7 557.5L643.9 557.5M637.7 557.5L637.7 572.6M643.9 557.5L643.9 572.6M640.8 555.5L650.0 555.5M640.8 555.5L640.8 557.5M650.0 555.5L650.0 572.6M628.5 554.4L645.4 554.4M628.5 554.4L628.5 557.2M645.4 554.4L645.4 555.5M662.3 557.5L668.5 557.5M662.3 557.5L662.3 572.6M668.5 557.5L668.5 572.6M665.4 555.5L674.7 555.5M665.4 555.5L665.4 557.5M674.7 555.5L674.7 572.6M656.2 555.5L670.0 555.5M656.2 555.5L656.2 572.6M670.0 555.5L670.0 555.5M636.9 552.0L663.1 552.0M636.9 552.0L636.9 554.4M663.1 552.0L663.1 555.5M680.8 553.0L687.0 553.0M680.8 553.0L680.8 572.6M687.0 553.0L687.0 572.6M650.0 549.6L683.9 549.6M650.0 549.6L650.0 552.0M683.9 549.6L683.9 553.0M616.1 544.6L667.0 544.6M616.1 544.6L616.1 549.8M667.0 544.6L667.0 549.6M596.9 541.0L641.6 541.0M596.9 541.0L596.9 545.5M641.6 541.0L641.6 544.6M538.9 536.7L619.2 536.7M538.9 536.7L538.9 537.9M619.2 536.7L619.2 541.0M438.5 535.0L579.1 535.0M438.5 535.0L438.5 540.4M579.1 535.0L579.1 536.7M323.0 531.5L508.8 531.5M323.0 531.5L323.0 535.0M508.8 531.5L508.8 535.0" fill="none" stroke="#555" stroke-width="0.55"/>
<circle cx="298.9" cy="543.4" r="1.5" fill="#000"/>
<circle cx="347.1" cy="540.4" r="1.5" fill="#000"/>
<circle cx="323.0" cy="535.0" r="1.5" fill="#000"/>
<circle cx="438.5" cy="540.4" r="1.5" fill="#000"/>
<circle cx="508.8" cy="535.0" r="1.5" fill="#000"/>
<circle cx="579.1" cy="536.7" r="1.5" fill="#000"/>
<text x="291.0" y="541.5" font-size="8.6" text-anchor="middle" fill="#111">(1)</text>
<text x="321.6" y="531.0" font-size="9.6" text-anchor="middle" fill="#111">I</text>
<text x="354.5" y="540.0" font-size="8.6" text-anchor="middle" fill="#111">(2)</text>
<text x="430.5" y="539.0" font-size="8.6" text-anchor="middle" fill="#111">(3)</text>
<text x="512.5" y="532.3" font-size="9.6" text-anchor="middle" fill="#111">II</text>
<text x="579.0" y="533.0" font-size="8.6" text-anchor="middle" fill="#111">(4)</text>
<rect x="283.5" y="574.2" width="6.2" height="11.6" fill="#006400"/>
<rect x="283.5" y="598.0" width="6.2" height="8.6" fill="#a1a9a9"/>
<rect x="289.7" y="574.2" width="6.2" height="11.6" fill="#006400"/>
<rect x="289.7" y="598.0" width="6.2" height="8.6" fill="#566262"/>
<rect x="295.8" y="574.2" width="6.2" height="11.6" fill="#006400"/>
<rect x="295.8" y="598.0" width="6.2" height="8.6" fill="#a1a9a9"/>
<rect x="302.0" y="574.2" width="6.2" height="11.6" fill="#006400"/>
<rect x="302.0" y="598.0" width="6.2" height="8.6" fill="#566262"/>
<rect x="308.1" y="574.2" width="6.2" height="11.6" fill="#006400"/>
<rect x="308.1" y="598.0" width="6.2" height="8.6" fill="#a1a9a9"/>
<rect x="314.3" y="574.2" width="6.2" height="11.6" fill="#006400"/>
<rect x="314.3" y="598.0" width="6.2" height="8.6" fill="#566262"/>
<rect x="320.5" y="574.2" width="6.2" height="11.6" fill="#8b0000"/>
<rect x="320.5" y="598.0" width="6.2" height="8.6" fill="#0b1616"/>
<rect x="326.6" y="574.2" width="6.2" height="11.6" fill="#8b0000"/>
<rect x="326.6" y="598.0" width="6.2" height="8.6" fill="#0b1616"/>
<rect x="332.8" y="587.0" width="6.2" height="10.4" fill="#ff0000"/>
<rect x="332.8" y="598.0" width="6.2" height="8.6" fill="#566262"/>
<rect x="338.9" y="587.0" width="6.2" height="10.4" fill="#ff0000"/>
<rect x="338.9" y="598.0" width="6.2" height="8.6" fill="#a1a9a9"/>
<rect x="345.1" y="574.2" width="6.2" height="11.6" fill="#8b0000"/>
<rect x="345.1" y="598.0" width="6.2" height="8.6" fill="#566262"/>
<rect x="351.3" y="574.2" width="6.2" height="11.6" fill="#8b0000"/>
<rect x="351.3" y="598.0" width="6.2" height="8.6" fill="#0b1616"/>
<rect x="357.4" y="574.2" width="6.2" height="11.6" fill="#8b0000"/>
<rect x="357.4" y="598.0" width="6.2" height="8.6" fill="#566262"/>
<rect x="363.6" y="574.2" width="6.2" height="11.6" fill="#8b0000"/>
<rect x="363.6" y="598.0" width="6.2" height="8.6" fill="#a1a9a9"/>
<rect x="369.7" y="574.2" width="6.2" height="11.6" fill="#8b0000"/>
<rect x="369.7" y="598.0" width="6.2" height="8.6" fill="#a1a9a9"/>
<rect x="375.9" y="574.2" width="6.2" height="11.6" fill="#8b0000"/>
<rect x="375.9" y="598.0" width="6.2" height="8.6" fill="#566262"/>
<rect x="382.1" y="574.2" width="6.2" height="11.6" fill="#8b0000"/>
<rect x="382.1" y="598.0" width="6.2" height="8.6" fill="#a1a9a9"/>
<rect x="388.2" y="574.2" width="6.2" height="11.6" fill="#8b0000"/>
<rect x="388.2" y="598.0" width="6.2" height="8.6" fill="#a1a9a9"/>
<rect x="394.4" y="574.2" width="6.2" height="11.6" fill="#8b0000"/>
<rect x="394.4" y="598.0" width="6.2" height="8.6" fill="#566262"/>
<rect x="400.5" y="587.0" width="6.2" height="10.4" fill="#00eeff"/>
<rect x="400.5" y="598.0" width="6.2" height="8.6" fill="#566262"/>
<rect x="406.7" y="587.0" width="6.2" height="10.4" fill="#00ee00"/>
<rect x="406.7" y="598.0" width="6.2" height="8.6" fill="#566262"/>
<rect x="412.9" y="587.0" width="6.2" height="10.4" fill="#00ee00"/>
<rect x="412.9" y="598.0" width="6.2" height="8.6" fill="#a1a9a9"/>
<rect x="419.0" y="587.0" width="6.2" height="10.4" fill="#00ee00"/>
<rect x="419.0" y="598.0" width="6.2" height="8.6" fill="#566262"/>
<rect x="425.2" y="587.0" width="6.2" height="10.4" fill="#00ee00"/>
<rect x="425.2" y="598.0" width="6.2" height="8.6" fill="#a1a9a9"/>
<rect x="431.3" y="587.0" width="6.2" height="10.4" fill="#00ee00"/>
<rect x="431.3" y="598.0" width="6.2" height="8.6" fill="#a1a9a9"/>
<rect x="437.5" y="587.0" width="6.2" height="10.4" fill="#00ee00"/>
<rect x="437.5" y="598.0" width="6.2" height="8.6" fill="#566262"/>
<rect x="443.7" y="587.0" width="6.2" height="10.4" fill="#00ee00"/>
<rect x="443.7" y="598.0" width="6.2" height="8.6" fill="#0b1616"/>
<rect x="449.8" y="587.0" width="6.2" height="10.4" fill="#00ee00"/>
<rect x="449.8" y="598.0" width="6.2" height="8.6" fill="#566262"/>
<rect x="456.0" y="587.0" width="6.2" height="10.4" fill="#00ee00"/>
<rect x="456.0" y="598.0" width="6.2" height="8.6" fill="#a1a9a9"/>
<rect x="462.1" y="587.0" width="6.2" height="10.4" fill="#00eeff"/>
<rect x="462.1" y="598.0" width="6.2" height="8.6" fill="#566262"/>
<rect x="468.3" y="587.0" width="6.2" height="10.4" fill="#00eeff"/>
<rect x="468.3" y="598.0" width="6.2" height="8.6" fill="#566262"/>
<rect x="474.5" y="587.0" width="6.2" height="10.4" fill="#00eeff"/>
<rect x="474.5" y="598.0" width="6.2" height="8.6" fill="#a1a9a9"/>
<rect x="480.6" y="587.0" width="6.2" height="10.4" fill="#00eeff"/>
<rect x="480.6" y="598.0" width="6.2" height="8.6" fill="#566262"/>
<rect x="486.8" y="587.0" width="6.2" height="10.4" fill="#00eeff"/>
<rect x="486.8" y="598.0" width="6.2" height="8.6" fill="#0b1616"/>
<rect x="492.9" y="587.0" width="6.2" height="10.4" fill="#00eeff"/>
<rect x="492.9" y="598.0" width="6.2" height="8.6" fill="#0b1616"/>
<rect x="499.1" y="587.0" width="6.2" height="10.4" fill="#00eeff"/>
<rect x="499.1" y="598.0" width="6.2" height="8.6" fill="#a1a9a9"/>
<rect x="505.3" y="587.0" width="6.2" height="10.4" fill="#00eeff"/>
<rect x="505.3" y="598.0" width="6.2" height="8.6" fill="#0b1616"/>
<rect x="511.4" y="587.0" width="6.2" height="10.4" fill="#00eeff"/>
<rect x="511.4" y="598.0" width="6.2" height="8.6" fill="#a1a9a9"/>
<rect x="517.6" y="587.0" width="6.2" height="10.4" fill="#00eeff"/>
<rect x="517.6" y="598.0" width="6.2" height="8.6" fill="#a1a9a9"/>
<rect x="523.7" y="587.0" width="6.2" height="10.4" fill="#ff0000"/>
<rect x="523.7" y="598.0" width="6.2" height="8.6" fill="#0b1616"/>
<rect x="529.9" y="587.0" width="6.2" height="10.4" fill="#ff0000"/>
<rect x="529.9" y="598.0" width="6.2" height="8.6" fill="#566262"/>
<rect x="536.1" y="587.0" width="6.2" height="10.4" fill="#ff0000"/>
<rect x="536.1" y="598.0" width="6.2" height="8.6" fill="#0b1616"/>
<rect x="542.2" y="587.0" width="6.2" height="10.4" fill="#ff0000"/>
<rect x="542.2" y="598.0" width="6.2" height="8.6" fill="#a1a9a9"/>
<rect x="548.4" y="587.0" width="6.2" height="10.4" fill="#ff0000"/>
<rect x="548.4" y="598.0" width="6.2" height="8.6" fill="#0b1616"/>
<rect x="554.5" y="587.0" width="6.2" height="10.4" fill="#ff0000"/>
<rect x="554.5" y="598.0" width="6.2" height="8.6" fill="#566262"/>
<rect x="560.7" y="587.0" width="6.2" height="10.4" fill="#ff0000"/>
<rect x="560.7" y="598.0" width="6.2" height="8.6" fill="#a1a9a9"/>
<rect x="566.9" y="587.0" width="6.2" height="10.4" fill="#ff0000"/>
<rect x="566.9" y="598.0" width="6.2" height="8.6" fill="#566262"/>
<rect x="573.0" y="587.0" width="6.2" height="10.4" fill="#ff0000"/>
<rect x="573.0" y="598.0" width="6.2" height="8.6" fill="#a1a9a9"/>
<rect x="579.2" y="574.2" width="6.2" height="11.6" fill="#008b8b"/>
<rect x="579.2" y="598.0" width="6.2" height="8.6" fill="#566262"/>
<rect x="585.3" y="574.2" width="6.2" height="11.6" fill="#008b8b"/>
<rect x="585.3" y="598.0" width="6.2" height="8.6" fill="#0b1616"/>
<rect x="591.5" y="574.2" width="6.2" height="11.6" fill="#008b8b"/>
<rect x="591.5" y="598.0" width="6.2" height="8.6" fill="#0b1616"/>
<rect x="597.7" y="574.2" width="6.2" height="11.6" fill="#008b8b"/>
<rect x="597.7" y="598.0" width="6.2" height="8.6" fill="#566262"/>
<rect x="603.8" y="574.2" width="6.2" height="11.6" fill="#008b8b"/>
<rect x="603.8" y="598.0" width="6.2" height="8.6" fill="#0b1616"/>
<rect x="610.0" y="574.2" width="6.2" height="11.6" fill="#008b8b"/>
<rect x="610.0" y="598.0" width="6.2" height="8.6" fill="#566262"/>
<rect x="616.1" y="574.2" width="6.2" height="11.6" fill="#008b8b"/>
<rect x="616.1" y="598.0" width="6.2" height="8.6" fill="#a1a9a9"/>
<rect x="622.3" y="574.2" width="6.2" height="11.6" fill="#006400"/>
<rect x="622.3" y="598.0" width="6.2" height="8.6" fill="#a1a9a9"/>
<rect x="628.5" y="574.2" width="6.2" height="11.6" fill="#006400"/>
<rect x="628.5" y="598.0" width="6.2" height="8.6" fill="#566262"/>
<rect x="634.6" y="574.2" width="6.2" height="11.6" fill="#006400"/>
<rect x="634.6" y="598.0" width="6.2" height="8.6" fill="#0b1616"/>
<rect x="640.8" y="574.2" width="6.2" height="11.6" fill="#006400"/>
<rect x="640.8" y="598.0" width="6.2" height="8.6" fill="#0b1616"/>
<rect x="646.9" y="574.2" width="6.2" height="11.6" fill="#006400"/>
<rect x="646.9" y="598.0" width="6.2" height="8.6" fill="#0b1616"/>
<rect x="653.1" y="574.2" width="6.2" height="11.6" fill="#006400"/>
<rect x="653.1" y="598.0" width="6.2" height="8.6" fill="#0b1616"/>
<rect x="659.3" y="574.2" width="6.2" height="11.6" fill="#008b8b"/>
<rect x="659.3" y="598.0" width="6.2" height="8.6" fill="#0b1616"/>
<rect x="665.4" y="574.2" width="6.2" height="11.6" fill="#008b8b"/>
<rect x="665.4" y="598.0" width="6.2" height="8.6" fill="#566262"/>
<rect x="671.6" y="574.2" width="6.2" height="11.6" fill="#008b8b"/>
<rect x="671.6" y="598.0" width="6.2" height="8.6" fill="#a1a9a9"/>
<rect x="677.7" y="574.2" width="6.2" height="11.6" fill="#008b8b"/>
<rect x="677.7" y="598.0" width="6.2" height="8.6" fill="#a1a9a9"/>
<rect x="683.9" y="574.2" width="6.2" height="11.6" fill="#008b8b"/>
<rect x="683.9" y="598.0" width="6.2" height="8.6" fill="#a1a9a9"/>
<path d="M289.66 574.2V585.8M295.82 574.2V585.8M301.98 574.2V585.8M308.14 574.2V585.8M314.30 574.2V585.8M320.46 574.2V585.8M326.62 574.2V585.8M332.78 574.2V585.8M338.94 574.2V585.8M345.10 574.2V585.8M351.26 574.2V585.8M357.42 574.2V585.8M363.58 574.2V585.8M369.74 574.2V585.8M375.90 574.2V585.8M382.06 574.2V585.8M388.22 574.2V585.8M394.38 574.2V585.8M400.54 574.2V585.8M406.70 574.2V585.8M412.86 574.2V585.8M419.02 574.2V585.8M425.18 574.2V585.8M431.34 574.2V585.8M437.50 574.2V585.8M443.66 574.2V585.8M449.82 574.2V585.8M455.98 574.2V585.8M462.14 574.2V585.8M468.30 574.2V585.8M474.46 574.2V585.8M480.62 574.2V585.8M486.78 574.2V585.8M492.94 574.2V585.8M499.10 574.2V585.8M505.26 574.2V585.8M511.42 574.2V585.8M517.58 574.2V585.8M523.74 574.2V585.8M529.90 574.2V585.8M536.06 574.2V585.8M542.22 574.2V585.8M548.38 574.2V585.8M554.54 574.2V585.8M560.70 574.2V585.8M566.86 574.2V585.8M573.02 574.2V585.8M579.18 574.2V585.8M585.34 574.2V585.8M591.50 574.2V585.8M597.66 574.2V585.8M603.82 574.2V585.8M609.98 574.2V585.8M616.14 574.2V585.8M622.30 574.2V585.8M628.46 574.2V585.8M634.62 574.2V585.8M640.78 574.2V585.8M646.94 574.2V585.8M653.10 574.2V585.8M659.26 574.2V585.8M665.42 574.2V585.8M671.58 574.2V585.8M677.74 574.2V585.8M683.90 574.2V585.8" stroke="#fff" stroke-opacity="0.07" stroke-width="0.5"/>
<text x="282.0" y="583.2" font-size="8.6" text-anchor="end" fill="#111">3xTg</text>
<text x="278.2" y="594.2" font-size="8.6" text-anchor="end" fill="#111">WT</text>
<text x="299.5" y="437.5" font-size="14.5" font-weight="bold">d</text>
<g transform="translate(283.5,607.2) scale(6.16,1.48)">
<rect x="0" y="0" width="66" height="247" fill="#b7172d"/>
<path d="M39 73h2v1h-2zM39 74h1v1h-1zM21 79h2v1h-2zM24 79h1v1h-1zM12 80h1v1h-1zM21 80h2v1h-2zM63 80h1v1h-1zM59 95h1v1h-1zM33 102h2v1h-2zM57 102h1v1h-1zM65 102h1v1h-1zM33 103h1v1h-1zM43 115h1v1h-1zM49 115h4v1h-4zM65 115h1v1h-1zM52 116h1v1h-1zM65 116h1v1h-1zM52 117h1v1h-1zM6 138h1v1h-1zM33 138h1v1h-1zM35 138h2v1h-2zM42 138h1v1h-1zM6 139h1v1h-1zM35 139h2v1h-2zM42 139h1v1h-1zM42 140h1v1h-1zM37 159h2v1h-2zM38 160h1v1h-1zM38 161h1v1h-1zM19 175h1v1h-1zM46 176h2v1h-2zM27 181h1v1h-1zM40 181h1v1h-1zM12 182h1v1h-1zM27 182h1v1h-1zM40 182h1v1h-1zM43 182h2v1h-2zM43 183h1v1h-1zM32 195h1v1h-1zM31 199h1v1h-1zM14 204h1v1h-1zM14 205h1v1h-1zM13 206h1v1h-1zM18 206h1v1h-1zM60 206h2v1h-2zM14 207h1v1h-1zM16 207h1v1h-1zM18 207h1v1h-1zM57 207h1v1h-1zM60 207h2v1h-2zM6 208h1v1h-1zM16 208h1v1h-1zM18 208h1v1h-1zM27 208h1v1h-1zM38 208h1v1h-1zM57 208h1v1h-1zM6 209h1v1h-1zM13 211h1v1h-1zM37 211h1v1h-1zM50 211h3v1h-3zM54 211h1v1h-1zM63 211h2v1h-2zM13 212h1v1h-1zM51 212h1v1h-1zM54 212h1v1h-1zM9 213h1v1h-1zM13 213h1v1h-1zM49 216h2v1h-2zM53 216h1v1h-1zM58 216h2v1h-2zM50 217h1v1h-1zM58 217h1v1h-1zM50 218h1v1h-1zM50 219h1v1h-1zM50 220h1v1h-1zM50 221h1v1h-1zM45 223h1v1h-1zM45 224h1v1h-1z" fill="#e0765e"/>
<path d="M43 0h1v1h-1zM31 1h1v1h-1zM43 1h1v1h-1zM48 1h1v1h-1zM64 1h1v1h-1zM5 2h1v1h-1zM10 2h3v1h-3zM26 2h1v1h-1zM31 2h1v1h-1zM45 2h4v1h-4zM53 2h1v1h-1zM55 2h2v1h-2zM61 2h1v1h-1zM64 2h1v1h-1zM4 3h1v1h-1zM9 3h1v1h-1zM26 3h1v1h-1zM31 3h3v1h-3zM36 3h1v1h-1zM59 3h1v1h-1zM15 4h1v1h-1zM26 4h1v1h-1zM33 4h1v1h-1zM36 4h2v1h-2zM47 4h1v1h-1zM65 4h1v1h-1zM10 5h1v1h-1zM26 5h1v1h-1zM31 5h3v1h-3zM36 5h1v1h-1zM38 5h1v1h-1zM47 5h1v1h-1zM52 5h1v1h-1zM55 5h1v1h-1zM62 5h1v1h-1zM65 5h1v1h-1zM12 6h1v1h-1zM26 6h1v1h-1zM28 6h1v1h-1zM31 6h1v1h-1zM33 6h1v1h-1zM37 6h1v1h-1zM47 6h1v1h-1zM58 6h1v1h-1zM60 6h1v1h-1zM13 7h1v1h-1zM28 7h1v1h-1zM31 7h1v1h-1zM37 7h2v1h-2zM48 7h1v1h-1zM7 8h1v1h-1zM9 8h1v1h-1zM12 8h2v1h-2zM15 8h1v1h-1zM26 8h1v1h-1zM28 8h1v1h-1zM30 8h4v1h-4zM36 8h2v1h-2zM42 8h1v1h-1zM47 8h3v1h-3zM55 8h1v1h-1zM59 8h1v1h-1zM13 9h3v1h-3zM25 9h4v1h-4zM30 9h3v1h-3zM37 9h2v1h-2zM40 9h2v1h-2zM46 9h4v1h-4zM51 9h2v1h-2zM55 9h1v1h-1zM59 9h1v1h-1zM61 9h1v1h-1zM65 9h1v1h-1zM13 10h1v1h-1zM27 10h2v1h-2zM30 10h1v1h-1zM32 10h1v1h-1zM47 10h1v1h-1zM65 10h1v1h-1zM13 11h1v1h-1zM28 11h1v1h-1zM30 11h1v1h-1zM47 11h1v1h-1zM57 11h1v1h-1zM32 12h1v1h-1zM37 12h1v1h-1zM22 13h1v1h-1zM8 14h1v1h-1zM12 14h2v1h-2zM27 14h1v1h-1zM35 14h1v1h-1zM37 14h1v1h-1zM39 14h2v1h-2zM51 14h1v1h-1zM65 14h1v1h-1zM8 15h1v1h-1zM33 15h3v1h-3zM37 15h1v1h-1zM0 16h1v1h-1zM8 16h1v1h-1zM22 16h1v1h-1zM35 16h1v1h-1zM37 16h1v1h-1zM39 16h2v1h-2zM51 16h1v1h-1zM54 16h1v1h-1zM7 18h1v1h-1zM22 20h1v1h-1zM27 20h1v1h-1zM65 23h1v1h-1zM65 24h1v1h-1zM6 25h1v1h-1zM34 25h1v1h-1zM36 25h1v1h-1zM45 25h1v1h-1zM49 25h1v1h-1zM53 25h2v1h-2zM65 25h1v1h-1zM37 26h1v1h-1zM49 26h1v1h-1zM53 26h1v1h-1zM65 26h1v1h-1zM6 27h1v1h-1zM21 27h1v1h-1zM25 27h2v1h-2zM37 27h2v1h-2zM52 27h1v1h-1zM65 27h1v1h-1zM6 28h3v1h-3zM26 28h1v1h-1zM39 28h1v1h-1zM52 28h2v1h-2zM57 28h1v1h-1zM65 28h1v1h-1zM0 29h1v1h-1zM7 29h2v1h-2zM28 29h1v1h-1zM37 29h1v1h-1zM39 29h1v1h-1zM45 29h1v1h-1zM49 29h1v1h-1zM56 29h3v1h-3zM61 29h1v1h-1zM0 30h2v1h-2zM3 30h1v1h-1zM5 30h1v1h-1zM7 30h1v1h-1zM10 30h1v1h-1zM21 30h1v1h-1zM28 30h1v1h-1zM30 30h1v1h-1zM32 30h1v1h-1zM38 30h2v1h-2zM44 30h2v1h-2zM49 30h1v1h-1zM56 30h3v1h-3zM61 30h1v1h-1zM0 31h1v1h-1zM5 31h1v1h-1zM7 31h1v1h-1zM30 31h1v1h-1zM38 31h1v1h-1zM26 34h1v1h-1zM31 34h1v1h-1zM44 34h1v1h-1zM44 60h1v1h-1zM47 60h1v1h-1zM58 60h2v1h-2zM23 65h1v1h-1zM31 65h1v1h-1zM39 65h1v1h-1zM47 65h1v1h-1zM37 66h1v1h-1zM41 66h1v1h-1zM41 67h1v1h-1zM22 70h1v1h-1zM39 70h1v1h-1zM26 71h1v1h-1zM4 79h1v1h-1zM46 79h1v1h-1zM4 80h1v1h-1zM7 80h1v1h-1zM4 81h1v1h-1zM63 86h1v1h-1zM30 91h1v1h-1zM41 91h1v1h-1zM45 91h1v1h-1zM9 92h1v1h-1zM64 92h1v1h-1zM9 93h1v1h-1zM9 94h1v1h-1zM53 95h1v1h-1zM48 102h1v1h-1zM56 102h1v1h-1zM63 102h1v1h-1zM63 103h1v1h-1zM63 104h1v1h-1zM12 109h1v1h-1zM12 110h1v1h-1zM42 110h1v1h-1zM11 111h2v1h-2zM27 111h1v1h-1zM31 111h1v1h-1zM11 112h1v1h-1zM18 115h1v1h-1zM33 115h1v1h-1zM37 115h2v1h-2zM33 116h1v1h-1zM42 119h2v1h-2zM46 120h1v1h-1zM20 122h1v1h-1zM23 124h1v1h-1zM48 124h2v1h-2zM20 125h1v1h-1zM22 125h1v1h-1zM29 125h1v1h-1zM36 125h2v1h-2zM58 125h2v1h-2zM35 126h3v1h-3zM63 126h1v1h-1zM27 127h1v1h-1zM35 127h2v1h-2zM48 127h1v1h-1zM52 127h1v1h-1zM54 127h1v1h-1zM35 128h2v1h-2zM54 128h1v1h-1zM35 129h1v1h-1zM14 131h1v1h-1zM24 131h1v1h-1zM34 131h1v1h-1zM14 132h1v1h-1zM42 132h1v1h-1zM25 134h1v1h-1zM31 134h1v1h-1zM34 134h1v1h-1zM47 134h1v1h-1zM18 135h1v1h-1zM18 136h1v1h-1zM8 139h1v1h-1zM23 139h2v1h-2zM8 140h1v1h-1zM19 146h1v1h-1zM22 146h1v1h-1zM37 146h1v1h-1zM46 146h1v1h-1zM51 146h1v1h-1zM17 157h1v1h-1zM38 157h1v1h-1zM5 159h1v1h-1zM2 161h2v1h-2zM20 161h1v1h-1zM23 161h2v1h-2zM26 161h1v1h-1zM44 161h1v1h-1zM56 161h1v1h-1zM2 162h1v1h-1zM22 162h1v1h-1zM26 162h1v1h-1zM22 163h1v1h-1zM9 165h1v1h-1zM18 165h1v1h-1zM9 166h1v1h-1zM50 168h1v1h-1zM31 169h1v1h-1zM35 169h1v1h-1zM11 175h1v1h-1zM28 175h1v1h-1zM45 175h1v1h-1zM47 175h1v1h-1zM59 175h1v1h-1zM19 176h1v1h-1zM28 176h1v1h-1zM44 176h2v1h-2zM16 177h1v1h-1zM18 177h1v1h-1zM16 178h1v1h-1zM2 181h1v1h-1zM22 181h1v1h-1zM34 181h1v1h-1zM45 181h1v1h-1zM47 181h1v1h-1zM10 182h1v1h-1zM22 182h1v1h-1zM36 182h1v1h-1zM38 182h1v1h-1zM45 182h1v1h-1zM62 182h1v1h-1zM45 183h1v1h-1zM45 186h1v1h-1zM58 186h1v1h-1zM58 187h1v1h-1zM10 188h2v1h-2zM26 188h1v1h-1zM34 188h1v1h-1zM44 188h1v1h-1zM53 188h1v1h-1zM10 189h2v1h-2zM40 189h1v1h-1zM53 189h1v1h-1zM28 190h1v1h-1zM46 190h1v1h-1zM53 190h1v1h-1zM63 190h1v1h-1zM9 191h1v1h-1zM41 191h1v1h-1zM46 191h1v1h-1zM53 191h1v1h-1zM12 195h1v1h-1zM28 195h1v1h-1zM37 195h1v1h-1zM28 196h1v1h-1zM9 199h1v1h-1zM12 199h1v1h-1zM18 199h1v1h-1zM61 199h1v1h-1zM12 200h1v1h-1zM18 200h1v1h-1zM3 201h2v1h-2zM41 201h1v1h-1zM59 201h1v1h-1zM62 201h2v1h-2zM41 202h1v1h-1zM59 202h1v1h-1zM63 202h1v1h-1zM9 204h1v1h-1zM27 204h1v1h-1zM6 206h1v1h-1zM10 206h1v1h-1zM16 206h1v1h-1zM28 206h1v1h-1zM10 207h1v1h-1zM28 207h1v1h-1zM49 207h1v1h-1zM58 207h1v1h-1zM13 208h1v1h-1zM28 208h1v1h-1zM39 208h1v1h-1zM13 209h1v1h-1zM28 209h1v1h-1zM28 210h1v1h-1zM40 210h1v1h-1zM40 211h1v1h-1zM56 211h1v1h-1zM56 212h1v1h-1zM15 213h1v1h-1zM36 213h1v1h-1zM48 213h1v1h-1zM53 213h1v1h-1zM15 216h1v1h-1zM35 216h1v1h-1zM63 216h1v1h-1zM35 217h1v1h-1zM14 218h1v1h-1zM25 218h1v1h-1zM63 218h1v1h-1zM14 219h1v1h-1zM63 223h1v1h-1zM57 224h1v1h-1zM34 227h1v1h-1zM34 228h1v1h-1zM53 237h2v1h-2z" fill="#e8896d"/>
<path d="M12 0h1v1h-1zM24 0h1v1h-1zM31 0h1v1h-1zM48 0h1v1h-1zM61 0h2v1h-2zM64 0h1v1h-1zM60 1h1v1h-1zM3 2h2v1h-2zM27 2h2v1h-2zM37 2h2v1h-2zM52 2h1v1h-1zM57 2h2v1h-2zM60 2h1v1h-1zM1 3h1v1h-1zM28 3h1v1h-1zM43 3h1v1h-1zM53 3h2v1h-2zM58 3h1v1h-1zM60 3h1v1h-1zM64 3h2v1h-2zM6 4h1v1h-1zM27 4h1v1h-1zM31 4h1v1h-1zM38 4h1v1h-1zM61 4h1v1h-1zM63 4h2v1h-2zM6 5h1v1h-1zM25 5h1v1h-1zM27 5h1v1h-1zM29 5h1v1h-1zM35 5h1v1h-1zM48 5h1v1h-1zM61 5h1v1h-1zM64 5h1v1h-1zM8 6h1v1h-1zM35 6h2v1h-2zM38 6h1v1h-1zM48 6h1v1h-1zM55 6h1v1h-1zM61 6h1v1h-1zM27 7h1v1h-1zM39 7h1v1h-1zM41 7h1v1h-1zM52 7h1v1h-1zM55 7h3v1h-3zM61 7h1v1h-1zM20 8h1v1h-1zM27 8h1v1h-1zM39 8h2v1h-2zM50 8h3v1h-3zM54 8h1v1h-1zM56 8h1v1h-1zM60 8h1v1h-1zM64 8h1v1h-1zM4 9h2v1h-2zM7 9h1v1h-1zM11 9h1v1h-1zM16 9h1v1h-1zM23 9h2v1h-2zM29 9h1v1h-1zM39 9h1v1h-1zM44 9h1v1h-1zM50 9h1v1h-1zM56 9h3v1h-3zM63 9h2v1h-2zM11 10h1v1h-1zM16 10h1v1h-1zM29 10h1v1h-1zM31 10h1v1h-1zM37 10h1v1h-1zM58 10h1v1h-1zM7 11h1v1h-1zM27 11h1v1h-1zM31 11h1v1h-1zM46 11h1v1h-1zM48 11h1v1h-1zM50 11h1v1h-1zM58 11h1v1h-1zM8 12h1v1h-1zM22 12h1v1h-1zM35 12h1v1h-1zM44 12h1v1h-1zM48 12h1v1h-1zM59 12h1v1h-1zM8 13h1v1h-1zM12 13h1v1h-1zM32 13h1v1h-1zM37 13h1v1h-1zM5 14h1v1h-1zM26 14h1v1h-1zM31 14h3v1h-3zM48 14h1v1h-1zM7 15h1v1h-1zM31 15h1v1h-1zM51 15h1v1h-1zM7 16h1v1h-1zM10 16h1v1h-1zM26 16h1v1h-1zM31 16h2v1h-2zM48 16h2v1h-2zM7 17h1v1h-1zM10 17h1v1h-1zM22 17h2v1h-2zM31 17h1v1h-1zM49 17h1v1h-1zM12 18h1v1h-1zM23 18h1v1h-1zM49 18h1v1h-1zM61 18h1v1h-1zM7 19h1v1h-1zM61 19h1v1h-1zM65 20h1v1h-1zM65 21h1v1h-1zM7 22h1v1h-1zM22 22h1v1h-1zM58 22h1v1h-1zM28 25h1v1h-1zM43 25h1v1h-1zM21 26h1v1h-1zM35 26h1v1h-1zM27 27h1v1h-1zM46 27h1v1h-1zM49 27h1v1h-1zM57 27h1v1h-1zM2 28h1v1h-1zM17 28h1v1h-1zM45 28h2v1h-2zM3 29h1v1h-1zM6 29h1v1h-1zM16 29h1v1h-1zM20 29h1v1h-1zM32 29h1v1h-1zM52 29h1v1h-1zM64 29h2v1h-2zM6 30h1v1h-1zM17 30h1v1h-1zM20 30h1v1h-1zM27 30h1v1h-1zM29 30h1v1h-1zM40 30h1v1h-1zM48 30h1v1h-1zM52 30h1v1h-1zM54 30h1v1h-1zM64 30h2v1h-2zM6 31h1v1h-1zM20 31h1v1h-1zM39 31h2v1h-2zM6 32h1v1h-1zM44 33h1v1h-1zM0 34h2v1h-2zM0 35h1v1h-1zM53 55h1v1h-1zM61 55h1v1h-1zM16 56h1v1h-1zM13 57h1v1h-1zM58 57h1v1h-1zM60 57h1v1h-1zM64 57h1v1h-1zM60 58h1v1h-1zM19 60h1v1h-1zM21 60h1v1h-1zM23 60h1v1h-1zM40 60h1v1h-1zM42 60h1v1h-1zM53 60h1v1h-1zM55 60h1v1h-1zM60 60h1v1h-1zM19 61h1v1h-1zM44 61h2v1h-2zM45 62h1v1h-1zM27 66h1v1h-1zM42 68h1v1h-1zM44 68h1v1h-1zM46 68h1v1h-1zM46 69h1v1h-1zM41 73h1v1h-1zM43 73h1v1h-1zM56 73h2v1h-2zM41 74h1v1h-1zM43 74h1v1h-1zM19 76h1v1h-1zM19 77h1v1h-1zM19 78h1v1h-1zM25 78h1v1h-1zM19 79h1v1h-1zM25 79h1v1h-1zM44 79h1v1h-1zM50 79h1v1h-1zM25 80h1v1h-1zM43 80h1v1h-1zM60 80h1v1h-1zM45 82h1v1h-1zM10 84h1v1h-1zM12 84h2v1h-2zM19 84h3v1h-3zM40 84h1v1h-1zM10 85h1v1h-1zM13 85h1v1h-1zM10 86h1v1h-1zM13 86h2v1h-2zM19 86h1v1h-1zM13 87h2v1h-2zM16 87h1v1h-1zM19 87h1v1h-1zM13 88h1v1h-1zM8 91h1v1h-1zM25 91h1v1h-1zM8 92h1v1h-1zM25 92h1v1h-1zM53 92h1v1h-1zM25 93h1v1h-1zM53 93h1v1h-1zM25 94h1v1h-1zM45 94h1v1h-1zM53 94h1v1h-1zM12 95h1v1h-1zM27 96h2v1h-2zM30 96h1v1h-1zM30 99h1v1h-1zM30 100h1v1h-1zM30 101h1v1h-1zM59 101h1v1h-1zM63 101h1v1h-1zM6 102h1v1h-1zM30 102h1v1h-1zM59 102h1v1h-1zM34 104h1v1h-1zM49 104h1v1h-1zM49 105h1v1h-1zM63 106h1v1h-1zM63 107h1v1h-1zM34 109h1v1h-1zM51 109h2v1h-2zM16 110h1v1h-1zM23 110h1v1h-1zM34 110h1v1h-1zM51 110h2v1h-2zM7 111h1v1h-1zM14 111h1v1h-1zM42 111h1v1h-1zM61 111h1v1h-1zM21 113h1v1h-1zM47 113h1v1h-1zM8 114h1v1h-1zM18 114h1v1h-1zM21 114h2v1h-2zM36 114h1v1h-1zM47 114h1v1h-1zM58 114h1v1h-1zM65 114h1v1h-1zM26 115h1v1h-1zM36 115h1v1h-1zM46 115h1v1h-1zM19 116h1v1h-1zM30 116h1v1h-1zM34 116h1v1h-1zM36 116h1v1h-1zM46 116h1v1h-1zM56 116h1v1h-1zM30 117h1v1h-1zM34 117h1v1h-1zM36 117h1v1h-1zM14 118h1v1h-1zM16 118h1v1h-1zM18 118h1v1h-1zM36 118h2v1h-2zM42 118h1v1h-1zM50 118h1v1h-1zM53 118h1v1h-1zM8 119h1v1h-1zM18 119h1v1h-1zM31 119h2v1h-2zM53 119h1v1h-1zM63 119h1v1h-1zM18 120h2v1h-2zM28 120h1v1h-1zM32 120h1v1h-1zM35 120h1v1h-1zM47 120h1v1h-1zM53 120h1v1h-1zM35 121h1v1h-1zM47 121h1v1h-1zM53 121h1v1h-1zM14 122h1v1h-1zM17 122h1v1h-1zM35 122h1v1h-1zM42 122h1v1h-1zM22 124h1v1h-1zM33 124h1v1h-1zM17 125h1v1h-1zM33 125h1v1h-1zM35 125h1v1h-1zM50 125h1v1h-1zM17 126h1v1h-1zM12 127h1v1h-1zM19 127h1v1h-1zM29 127h1v1h-1zM19 128h1v1h-1zM30 131h1v1h-1zM19 132h1v1h-1zM30 132h2v1h-2zM38 132h1v1h-1zM43 132h1v1h-1zM53 132h1v1h-1zM27 133h2v1h-2zM38 133h1v1h-1zM43 133h1v1h-1zM17 134h1v1h-1zM28 134h1v1h-1zM38 134h1v1h-1zM59 134h1v1h-1zM38 135h2v1h-2zM56 135h1v1h-1zM59 135h1v1h-1zM36 136h2v1h-2zM39 136h1v1h-1zM59 136h2v1h-2zM36 137h1v1h-1zM59 137h1v1h-1zM20 138h1v1h-1zM15 139h1v1h-1zM33 139h1v1h-1zM29 140h1v1h-1zM13 141h1v1h-1zM11 142h1v1h-1zM54 142h1v1h-1zM11 143h1v1h-1zM20 144h1v1h-1zM22 144h1v1h-1zM24 144h2v1h-2zM31 144h1v1h-1zM38 144h1v1h-1zM65 144h1v1h-1zM24 145h1v1h-1zM33 145h1v1h-1zM38 145h1v1h-1zM24 146h1v1h-1zM36 146h1v1h-1zM38 146h1v1h-1zM0 150h1v1h-1zM32 150h1v1h-1zM49 150h1v1h-1zM35 153h1v1h-1zM47 153h1v1h-1zM47 154h1v1h-1zM29 156h2v1h-2zM32 156h2v1h-2zM20 157h2v1h-2zM33 157h1v1h-1zM55 157h1v1h-1zM20 158h1v1h-1zM2 160h1v1h-1zM20 160h1v1h-1zM31 160h1v1h-1zM55 160h1v1h-1zM17 161h2v1h-2zM45 161h1v1h-1zM63 161h1v1h-1zM4 162h1v1h-1zM17 162h1v1h-1zM19 162h1v1h-1zM17 163h1v1h-1zM19 163h1v1h-1zM19 164h1v1h-1zM53 164h1v1h-1zM3 165h1v1h-1zM19 165h1v1h-1zM24 165h1v1h-1zM53 165h1v1h-1zM63 165h2v1h-2zM25 166h1v1h-1zM16 168h1v1h-1zM58 168h2v1h-2zM19 169h1v1h-1zM52 169h2v1h-2zM55 169h3v1h-3zM11 170h1v1h-1zM19 170h1v1h-1zM36 170h2v1h-2zM37 171h1v1h-1zM34 173h1v1h-1zM57 173h1v1h-1zM34 174h1v1h-1zM57 174h1v1h-1zM39 175h1v1h-1zM11 176h1v1h-1zM20 176h1v1h-1zM26 176h2v1h-2zM37 176h1v1h-1zM27 177h1v1h-1zM35 177h1v1h-1zM44 177h1v1h-1zM44 178h1v1h-1zM25 181h1v1h-1zM2 182h1v1h-1zM17 182h1v1h-1zM20 182h1v1h-1zM24 182h2v1h-2zM41 182h2v1h-2zM54 182h1v1h-1zM59 182h2v1h-2zM60 183h1v1h-1zM35 186h2v1h-2zM40 186h1v1h-1zM43 186h2v1h-2zM33 187h1v1h-1zM35 187h1v1h-1zM39 187h1v1h-1zM20 188h1v1h-1zM32 188h2v1h-2zM35 188h1v1h-1zM37 188h2v1h-2zM28 189h1v1h-1zM33 189h1v1h-1zM35 189h1v1h-1zM11 190h1v1h-1zM19 190h1v1h-1zM33 190h2v1h-2zM36 190h1v1h-1zM42 190h1v1h-1zM61 190h2v1h-2zM31 191h1v1h-1zM36 191h1v1h-1zM38 191h2v1h-2zM61 191h1v1h-1zM63 191h1v1h-1zM61 192h1v1h-1zM63 192h1v1h-1zM24 193h1v1h-1zM49 193h1v1h-1zM19 195h1v1h-1zM31 195h1v1h-1zM41 195h2v1h-2zM55 195h1v1h-1zM41 196h1v1h-1zM29 198h1v1h-1zM5 199h1v1h-1zM16 199h1v1h-1zM29 199h1v1h-1zM43 199h1v1h-1zM13 201h1v1h-1zM15 201h1v1h-1zM13 202h1v1h-1zM15 205h1v1h-1zM8 206h1v1h-1zM15 206h1v1h-1zM15 207h1v1h-1zM48 207h1v1h-1zM56 207h1v1h-1zM63 207h1v1h-1zM0 208h1v1h-1zM7 208h1v1h-1zM15 208h1v1h-1zM54 208h1v1h-1zM58 208h1v1h-1zM63 208h1v1h-1zM65 208h1v1h-1zM7 209h1v1h-1zM15 209h1v1h-1zM30 209h3v1h-3zM55 209h1v1h-1zM58 209h1v1h-1zM7 210h1v1h-1zM9 210h1v1h-1zM11 210h1v1h-1zM15 210h1v1h-1zM17 210h1v1h-1zM32 210h1v1h-1zM44 210h1v1h-1zM52 210h1v1h-1zM55 210h1v1h-1zM58 210h1v1h-1zM9 211h1v1h-1zM15 211h1v1h-1zM17 211h1v1h-1zM32 211h1v1h-1zM39 211h1v1h-1zM58 211h1v1h-1zM8 212h1v1h-1zM15 212h1v1h-1zM32 212h1v1h-1zM58 212h1v1h-1zM7 213h1v1h-1zM10 213h1v1h-1zM16 213h3v1h-3zM56 213h3v1h-3zM16 214h1v1h-1zM57 214h2v1h-2zM16 215h1v1h-1zM19 216h1v1h-1zM19 217h1v1h-1zM6 218h1v1h-1zM57 218h1v1h-1zM62 218h1v1h-1zM6 219h1v1h-1zM57 219h1v1h-1zM64 219h1v1h-1zM57 220h1v1h-1zM57 221h1v1h-1zM1 222h1v1h-1zM3 222h1v1h-1zM17 222h1v1h-1zM20 222h1v1h-1zM3 223h1v1h-1zM17 223h1v1h-1zM25 223h1v1h-1zM56 223h1v1h-1zM61 223h1v1h-1zM3 224h1v1h-1zM17 224h1v1h-1zM25 224h1v1h-1zM53 224h1v1h-1zM56 224h1v1h-1zM3 225h1v1h-1zM13 225h1v1h-1zM48 225h1v1h-1zM53 225h1v1h-1zM56 225h1v1h-1zM58 225h1v1h-1zM13 226h1v1h-1zM1 227h1v1h-1zM55 227h1v1h-1zM55 228h1v1h-1zM37 235h1v1h-1zM65 235h1v1h-1zM29 237h1v1h-1zM38 237h1v1h-1z" fill="#f09c7b"/>
<path d="M5 0h1v1h-1zM13 0h1v1h-1zM15 0h1v1h-1zM20 0h1v1h-1zM26 0h1v1h-1zM28 0h1v1h-1zM33 0h2v1h-2zM36 0h2v1h-2zM65 0h1v1h-1zM3 1h3v1h-3zM12 1h1v1h-1zM15 1h1v1h-1zM33 1h1v1h-1zM35 1h3v1h-3zM55 1h1v1h-1zM65 1h1v1h-1zM6 2h1v1h-1zM15 2h1v1h-1zM24 2h1v1h-1zM33 2h1v1h-1zM35 2h2v1h-2zM41 2h1v1h-1zM65 2h1v1h-1zM12 3h1v1h-1zM21 3h1v1h-1zM23 3h2v1h-2zM27 3h1v1h-1zM29 3h1v1h-1zM37 3h1v1h-1zM45 3h3v1h-3zM56 3h1v1h-1zM9 4h1v1h-1zM29 4h1v1h-1zM35 4h1v1h-1zM43 4h1v1h-1zM45 4h1v1h-1zM58 4h1v1h-1zM60 4h1v1h-1zM4 5h1v1h-1zM9 5h1v1h-1zM28 5h1v1h-1zM40 5h1v1h-1zM44 5h1v1h-1zM56 5h1v1h-1zM58 5h3v1h-3zM1 6h2v1h-2zM13 6h1v1h-1zM16 6h1v1h-1zM27 6h1v1h-1zM32 6h1v1h-1zM42 6h1v1h-1zM44 6h1v1h-1zM64 6h1v1h-1zM1 7h2v1h-2zM6 7h1v1h-1zM20 7h1v1h-1zM25 7h2v1h-2zM29 7h1v1h-1zM35 7h2v1h-2zM42 7h2v1h-2zM53 7h1v1h-1zM60 7h1v1h-1zM62 7h1v1h-1zM24 8h2v1h-2zM35 8h1v1h-1zM38 8h1v1h-1zM43 8h1v1h-1zM45 8h2v1h-2zM57 8h1v1h-1zM62 8h2v1h-2zM3 9h1v1h-1zM18 9h1v1h-1zM20 9h1v1h-1zM35 9h2v1h-2zM43 9h1v1h-1zM62 9h1v1h-1zM12 10h1v1h-1zM20 10h1v1h-1zM24 10h2v1h-2zM51 10h1v1h-1zM59 10h1v1h-1zM15 11h1v1h-1zM32 11h4v1h-4zM40 11h1v1h-1zM44 11h1v1h-1zM51 11h2v1h-2zM59 11h1v1h-1zM64 11h1v1h-1zM28 12h1v1h-1zM38 12h1v1h-1zM40 12h1v1h-1zM50 12h2v1h-2zM55 12h2v1h-2zM61 12h1v1h-1zM31 13h1v1h-1zM40 13h1v1h-1zM55 13h1v1h-1zM59 13h1v1h-1zM0 14h2v1h-2zM3 14h1v1h-1zM25 14h1v1h-1zM45 14h3v1h-3zM55 14h5v1h-5zM61 14h1v1h-1zM32 15h1v1h-1zM39 15h2v1h-2zM45 15h1v1h-1zM48 15h2v1h-2zM61 15h1v1h-1zM6 16h1v1h-1zM18 16h1v1h-1zM23 16h1v1h-1zM28 16h1v1h-1zM33 16h2v1h-2zM38 16h1v1h-1zM44 16h1v1h-1zM46 16h2v1h-2zM52 16h1v1h-1zM59 16h3v1h-3zM63 16h1v1h-1zM65 16h1v1h-1zM18 17h1v1h-1zM33 17h1v1h-1zM47 17h1v1h-1zM51 17h1v1h-1zM61 17h1v1h-1zM63 17h1v1h-1zM8 18h1v1h-1zM33 18h1v1h-1zM35 18h1v1h-1zM51 18h1v1h-1zM12 19h1v1h-1zM37 19h1v1h-1zM5 20h1v1h-1zM7 20h1v1h-1zM37 20h1v1h-1zM58 20h1v1h-1zM7 21h1v1h-1zM8 22h1v1h-1zM65 22h1v1h-1zM2 23h1v1h-1zM7 23h2v1h-2zM17 23h1v1h-1zM26 23h1v1h-1zM35 23h1v1h-1zM43 23h1v1h-1zM49 23h1v1h-1zM51 23h3v1h-3zM58 23h1v1h-1zM6 24h2v1h-2zM26 24h1v1h-1zM36 24h1v1h-1zM49 24h1v1h-1zM7 25h2v1h-2zM17 25h1v1h-1zM20 25h1v1h-1zM31 25h1v1h-1zM51 25h1v1h-1zM57 25h1v1h-1zM63 25h1v1h-1zM5 26h1v1h-1zM7 26h2v1h-2zM20 26h1v1h-1zM22 26h2v1h-2zM25 26h1v1h-1zM27 26h1v1h-1zM29 26h1v1h-1zM31 26h1v1h-1zM39 26h1v1h-1zM45 26h2v1h-2zM50 26h3v1h-3zM54 26h1v1h-1zM57 26h1v1h-1zM7 27h1v1h-1zM20 27h1v1h-1zM22 27h1v1h-1zM31 27h1v1h-1zM34 27h1v1h-1zM36 27h1v1h-1zM44 27h1v1h-1zM51 27h1v1h-1zM56 27h1v1h-1zM58 27h1v1h-1zM34 28h1v1h-1zM41 28h1v1h-1zM43 28h1v1h-1zM47 28h1v1h-1zM56 28h1v1h-1zM58 28h1v1h-1zM5 29h1v1h-1zM10 29h1v1h-1zM15 29h1v1h-1zM17 29h1v1h-1zM23 29h1v1h-1zM29 29h1v1h-1zM34 29h1v1h-1zM36 29h1v1h-1zM44 29h1v1h-1zM46 29h2v1h-2zM59 29h1v1h-1zM8 30h1v1h-1zM11 30h2v1h-2zM16 30h1v1h-1zM18 30h2v1h-2zM22 30h2v1h-2zM31 30h1v1h-1zM34 30h3v1h-3zM46 30h1v1h-1zM55 30h1v1h-1zM59 30h2v1h-2zM3 31h1v1h-1zM18 31h1v1h-1zM43 31h1v1h-1zM45 31h1v1h-1zM49 31h1v1h-1zM55 31h1v1h-1zM59 31h1v1h-1zM3 32h1v1h-1zM32 32h1v1h-1zM57 32h1v1h-1zM65 32h1v1h-1zM32 33h1v1h-1zM65 33h1v1h-1zM3 34h1v1h-1zM29 34h1v1h-1zM32 34h1v1h-1zM37 34h1v1h-1zM39 34h1v1h-1zM65 34h1v1h-1zM3 35h1v1h-1zM6 35h2v1h-2zM27 35h1v1h-1zM29 35h1v1h-1zM39 35h1v1h-1zM65 35h1v1h-1zM39 36h1v1h-1zM65 36h1v1h-1zM39 37h1v1h-1zM54 49h1v1h-1zM54 50h1v1h-1zM54 51h1v1h-1zM50 56h1v1h-1zM6 60h1v1h-1zM14 60h1v1h-1zM26 60h1v1h-1zM48 60h1v1h-1zM14 61h1v1h-1zM26 61h1v1h-1zM48 61h1v1h-1zM58 61h1v1h-1zM63 61h1v1h-1zM48 62h1v1h-1zM58 62h1v1h-1zM27 63h2v1h-2zM27 64h1v1h-1zM22 65h1v1h-1zM27 65h1v1h-1zM35 65h1v1h-1zM40 65h1v1h-1zM13 68h2v1h-2zM13 69h2v1h-2zM57 69h1v1h-1zM13 70h1v1h-1zM20 70h1v1h-1zM13 71h1v1h-1zM20 71h1v1h-1zM13 72h1v1h-1zM20 72h1v1h-1zM23 72h1v1h-1zM43 72h1v1h-1zM23 73h1v1h-1zM62 73h1v1h-1zM23 74h1v1h-1zM62 74h1v1h-1zM8 75h1v1h-1zM52 75h1v1h-1zM22 76h1v1h-1zM44 76h1v1h-1zM22 77h1v1h-1zM49 78h1v1h-1zM47 79h1v1h-1zM49 79h1v1h-1zM61 79h1v1h-1zM65 79h1v1h-1zM41 80h1v1h-1zM44 80h1v1h-1zM57 80h1v1h-1zM61 80h1v1h-1zM61 81h1v1h-1zM20 82h1v1h-1zM25 82h1v1h-1zM43 82h1v1h-1zM25 83h1v1h-1zM46 83h1v1h-1zM25 84h1v1h-1zM26 85h1v1h-1zM40 85h1v1h-1zM31 86h1v1h-1zM40 86h1v1h-1zM44 86h2v1h-2zM65 86h1v1h-1zM39 87h1v1h-1zM65 87h1v1h-1zM57 89h1v1h-1zM9 91h1v1h-1zM21 91h1v1h-1zM7 92h1v1h-1zM21 92h1v1h-1zM27 92h2v1h-2zM65 92h1v1h-1zM7 93h1v1h-1zM13 93h1v1h-1zM27 93h1v1h-1zM65 93h1v1h-1zM7 94h1v1h-1zM11 94h3v1h-3zM65 94h1v1h-1zM7 95h1v1h-1zM13 95h1v1h-1zM41 95h1v1h-1zM60 95h1v1h-1zM13 96h1v1h-1zM41 96h1v1h-1zM53 96h1v1h-1zM58 96h1v1h-1zM9 97h1v1h-1zM13 97h1v1h-1zM41 97h2v1h-2zM54 97h1v1h-1zM57 97h2v1h-2zM63 97h1v1h-1zM41 98h1v1h-1zM54 98h1v1h-1zM57 98h1v1h-1zM57 99h1v1h-1zM63 99h2v1h-2zM35 101h1v1h-1zM43 101h1v1h-1zM14 102h1v1h-1zM35 102h1v1h-1zM38 102h1v1h-1zM43 102h1v1h-1zM61 102h1v1h-1zM35 103h1v1h-1zM43 103h1v1h-1zM17 104h1v1h-1zM31 104h1v1h-1zM17 105h1v1h-1zM31 105h1v1h-1zM10 106h1v1h-1zM31 106h1v1h-1zM59 106h1v1h-1zM64 107h2v1h-2zM14 109h2v1h-2zM18 109h1v1h-1zM14 110h2v1h-2zM18 110h1v1h-1zM15 111h1v1h-1zM65 111h1v1h-1zM31 113h1v1h-1zM38 113h1v1h-1zM46 113h1v1h-1zM64 114h1v1h-1zM22 115h1v1h-1zM25 115h1v1h-1zM62 115h1v1h-1zM21 116h1v1h-1zM25 116h1v1h-1zM39 116h1v1h-1zM62 116h1v1h-1zM62 117h1v1h-1zM45 118h1v1h-1zM62 118h1v1h-1zM16 119h2v1h-2zM19 119h2v1h-2zM29 119h1v1h-1zM47 119h1v1h-1zM16 120h1v1h-1zM65 120h1v1h-1zM16 121h1v1h-1zM16 122h1v1h-1zM46 122h2v1h-2zM59 122h1v1h-1zM16 123h1v1h-1zM26 123h2v1h-2zM42 123h1v1h-1zM46 123h1v1h-1zM26 124h1v1h-1zM36 124h1v1h-1zM46 124h1v1h-1zM19 125h1v1h-1zM26 125h1v1h-1zM31 125h1v1h-1zM46 125h1v1h-1zM26 126h1v1h-1zM50 126h1v1h-1zM60 127h1v1h-1zM36 129h1v1h-1zM21 130h1v1h-1zM36 130h1v1h-1zM8 131h1v1h-1zM29 131h1v1h-1zM33 132h2v1h-2zM35 133h1v1h-1zM19 134h1v1h-1zM22 134h1v1h-1zM35 134h1v1h-1zM35 135h2v1h-2zM57 135h1v1h-1zM57 136h1v1h-1zM7 139h1v1h-1zM26 139h1v1h-1zM31 139h1v1h-1zM15 140h1v1h-1zM26 140h1v1h-1zM30 140h1v1h-1zM23 141h1v1h-1zM6 142h1v1h-1zM21 142h1v1h-1zM33 142h2v1h-2zM51 142h1v1h-1zM21 143h2v1h-2zM9 144h1v1h-1zM34 144h2v1h-2zM48 144h1v1h-1zM23 145h1v1h-1zM31 145h2v1h-2zM35 145h1v1h-1zM48 145h1v1h-1zM23 146h1v1h-1zM35 146h1v1h-1zM48 148h1v1h-1zM14 150h1v1h-1zM24 150h1v1h-1zM23 153h1v1h-1zM3 154h1v1h-1zM23 154h1v1h-1zM25 154h1v1h-1zM35 154h1v1h-1zM19 157h1v1h-1zM24 157h1v1h-1zM29 157h4v1h-4zM44 157h1v1h-1zM24 158h1v1h-1zM30 158h2v1h-2zM20 159h1v1h-1zM29 159h1v1h-1zM21 160h1v1h-1zM37 160h1v1h-1zM35 161h3v1h-3zM18 162h1v1h-1zM35 162h3v1h-3zM48 162h1v1h-1zM52 162h1v1h-1zM35 163h1v1h-1zM48 163h1v1h-1zM52 163h1v1h-1zM13 164h1v1h-1zM48 164h1v1h-1zM58 164h1v1h-1zM5 165h1v1h-1zM13 165h1v1h-1zM49 165h1v1h-1zM27 166h1v1h-1zM3 167h1v1h-1zM6 168h1v1h-1zM9 168h1v1h-1zM24 168h1v1h-1zM47 168h1v1h-1zM6 169h1v1h-1zM22 169h1v1h-1zM25 169h1v1h-1zM42 169h1v1h-1zM22 170h1v1h-1zM25 170h1v1h-1zM27 170h1v1h-1zM48 170h1v1h-1zM52 170h2v1h-2zM27 171h1v1h-1zM48 171h1v1h-1zM52 171h1v1h-1zM27 172h1v1h-1zM48 172h1v1h-1zM3 173h1v1h-1zM23 173h1v1h-1zM38 173h1v1h-1zM43 173h1v1h-1zM65 173h1v1h-1zM3 174h1v1h-1zM43 174h1v1h-1zM3 175h1v1h-1zM38 175h1v1h-1zM43 175h1v1h-1zM21 176h1v1h-1zM24 176h1v1h-1zM32 176h1v1h-1zM35 176h2v1h-2zM38 176h1v1h-1zM7 177h1v1h-1zM26 177h1v1h-1zM36 177h1v1h-1zM47 177h1v1h-1zM26 178h1v1h-1zM6 180h2v1h-2zM42 180h1v1h-1zM65 180h1v1h-1zM29 181h1v1h-1zM41 181h1v1h-1zM46 181h1v1h-1zM57 181h1v1h-1zM60 181h1v1h-1zM62 181h1v1h-1zM29 182h1v1h-1zM46 182h1v1h-1zM57 182h1v1h-1zM20 183h1v1h-1zM29 183h1v1h-1zM54 183h1v1h-1zM21 186h2v1h-2zM21 187h3v1h-3zM29 187h1v1h-1zM22 188h1v1h-1zM29 188h2v1h-2zM41 188h1v1h-1zM19 189h1v1h-1zM23 189h2v1h-2zM29 189h1v1h-1zM47 189h1v1h-1zM10 190h1v1h-1zM39 190h2v1h-2zM54 190h1v1h-1zM65 190h1v1h-1zM23 191h1v1h-1zM25 191h2v1h-2zM28 191h1v1h-1zM50 191h2v1h-2zM28 192h1v1h-1zM50 192h1v1h-1zM19 193h1v1h-1zM40 193h1v1h-1zM43 193h1v1h-1zM50 193h1v1h-1zM57 193h1v1h-1zM62 193h1v1h-1zM40 194h1v1h-1zM50 194h1v1h-1zM35 195h2v1h-2zM40 195h1v1h-1zM50 195h1v1h-1zM19 196h1v1h-1zM40 196h1v1h-1zM53 196h1v1h-1zM19 197h1v1h-1zM1 198h1v1h-1zM8 198h1v1h-1zM18 198h2v1h-2zM64 198h1v1h-1zM15 199h1v1h-1zM64 199h1v1h-1zM64 200h1v1h-1zM1 201h1v1h-1zM10 201h1v1h-1zM55 201h1v1h-1zM6 204h1v1h-1zM17 205h1v1h-1zM11 206h1v1h-1zM17 206h1v1h-1zM6 207h1v1h-1zM43 207h1v1h-1zM2 208h1v1h-1zM17 208h1v1h-1zM49 208h1v1h-1zM60 208h1v1h-1zM17 209h1v1h-1zM13 210h1v1h-1zM36 210h2v1h-2zM57 210h1v1h-1zM7 211h1v1h-1zM36 211h1v1h-1zM59 211h1v1h-1zM10 212h1v1h-1zM17 212h1v1h-1zM35 212h1v1h-1zM46 212h1v1h-1zM59 212h1v1h-1zM62 212h1v1h-1zM8 213h1v1h-1zM12 213h1v1h-1zM42 213h2v1h-2zM46 213h1v1h-1zM8 214h1v1h-1zM43 214h1v1h-1zM8 215h1v1h-1zM14 215h1v1h-1zM4 216h1v1h-1zM6 216h1v1h-1zM14 216h1v1h-1zM6 217h1v1h-1zM14 217h1v1h-1zM30 218h1v1h-1zM35 218h2v1h-2zM29 219h2v1h-2zM48 219h1v1h-1zM62 219h1v1h-1zM2 220h1v1h-1zM29 220h1v1h-1zM50 222h1v1h-1zM56 222h1v1h-1zM58 222h2v1h-2zM38 223h1v1h-1zM50 223h1v1h-1zM53 223h1v1h-1zM58 223h1v1h-1zM13 224h1v1h-1zM55 224h1v1h-1zM65 224h1v1h-1zM39 225h1v1h-1zM45 225h2v1h-2zM49 225h1v1h-1zM52 225h1v1h-1zM55 225h1v1h-1zM45 226h1v1h-1zM49 226h1v1h-1zM55 226h1v1h-1zM14 227h1v1h-1zM37 227h1v1h-1zM39 227h1v1h-1zM57 227h2v1h-2zM3 228h1v1h-1zM14 228h1v1h-1zM58 228h1v1h-1zM63 228h1v1h-1zM15 229h1v1h-1zM63 229h1v1h-1zM57 233h1v1h-1zM16 234h1v1h-1zM50 234h1v1h-1zM5 236h1v1h-1zM43 236h1v1h-1zM5 239h1v1h-1zM22 240h1v1h-1zM51 240h1v1h-1zM40 244h2v1h-2zM6 246h1v1h-1z" fill="#f5ac8b"/>
<path d="M29 0h2v1h-2zM35 0h1v1h-1zM38 0h1v1h-1zM40 0h1v1h-1zM44 0h1v1h-1zM46 0h2v1h-2zM55 0h1v1h-1zM6 1h1v1h-1zM13 1h2v1h-2zM23 1h2v1h-2zM28 1h2v1h-2zM38 1h1v1h-1zM46 1h2v1h-2zM57 1h1v1h-1zM62 1h1v1h-1zM8 2h1v1h-1zM13 2h1v1h-1zM20 2h1v1h-1zM29 2h1v1h-1zM32 2h1v1h-1zM34 2h1v1h-1zM39 2h1v1h-1zM42 2h3v1h-3zM62 2h1v1h-1zM6 3h1v1h-1zM14 3h1v1h-1zM19 3h2v1h-2zM35 3h1v1h-1zM44 3h1v1h-1zM7 4h1v1h-1zM10 4h1v1h-1zM18 4h2v1h-2zM24 4h2v1h-2zM30 4h1v1h-1zM32 4h1v1h-1zM39 4h1v1h-1zM41 4h1v1h-1zM53 4h1v1h-1zM57 4h1v1h-1zM59 4h1v1h-1zM11 5h1v1h-1zM17 5h4v1h-4zM23 5h1v1h-1zM39 5h1v1h-1zM53 5h2v1h-2zM57 5h1v1h-1zM23 6h1v1h-1zM25 6h1v1h-1zM30 6h1v1h-1zM41 6h1v1h-1zM46 6h1v1h-1zM50 6h1v1h-1zM54 6h1v1h-1zM62 6h1v1h-1zM4 7h1v1h-1zM22 7h3v1h-3zM46 7h2v1h-2zM63 7h2v1h-2zM14 8h1v1h-1zM19 8h1v1h-1zM22 8h2v1h-2zM29 8h1v1h-1zM41 8h1v1h-1zM44 8h1v1h-1zM33 9h1v1h-1zM4 10h2v1h-2zM22 10h2v1h-2zM33 10h1v1h-1zM46 10h1v1h-1zM49 10h2v1h-2zM56 10h2v1h-2zM61 10h1v1h-1zM63 10h1v1h-1zM0 11h1v1h-1zM20 11h1v1h-1zM23 11h4v1h-4zM29 11h1v1h-1zM38 11h1v1h-1zM41 11h1v1h-1zM53 11h1v1h-1zM61 11h1v1h-1zM63 11h1v1h-1zM0 12h1v1h-1zM25 12h1v1h-1zM33 12h1v1h-1zM39 12h1v1h-1zM41 12h2v1h-2zM45 12h2v1h-2zM7 13h1v1h-1zM14 13h1v1h-1zM25 13h2v1h-2zM28 13h1v1h-1zM30 13h1v1h-1zM35 13h1v1h-1zM50 13h3v1h-3zM7 14h1v1h-1zM10 14h1v1h-1zM21 14h1v1h-1zM23 14h1v1h-1zM28 14h3v1h-3zM36 14h1v1h-1zM50 14h1v1h-1zM52 14h1v1h-1zM64 14h1v1h-1zM23 15h1v1h-1zM28 15h1v1h-1zM36 15h1v1h-1zM38 15h1v1h-1zM46 15h2v1h-2zM50 15h1v1h-1zM52 15h3v1h-3zM59 15h1v1h-1zM1 16h1v1h-1zM3 16h1v1h-1zM17 16h1v1h-1zM29 16h1v1h-1zM36 16h1v1h-1zM41 16h2v1h-2zM53 16h1v1h-1zM17 17h1v1h-1zM29 17h1v1h-1zM34 17h2v1h-2zM37 17h1v1h-1zM39 17h1v1h-1zM48 17h1v1h-1zM50 17h1v1h-1zM52 17h2v1h-2zM26 18h1v1h-1zM34 18h1v1h-1zM37 18h1v1h-1zM41 18h1v1h-1zM48 18h1v1h-1zM52 18h3v1h-3zM58 18h2v1h-2zM39 19h1v1h-1zM48 19h1v1h-1zM50 19h1v1h-1zM57 19h1v1h-1zM2 20h1v1h-1zM34 20h1v1h-1zM48 20h1v1h-1zM51 20h1v1h-1zM57 20h1v1h-1zM64 20h1v1h-1zM39 21h1v1h-1zM3 22h1v1h-1zM39 22h1v1h-1zM61 22h1v1h-1zM6 23h1v1h-1zM28 23h1v1h-1zM46 23h1v1h-1zM16 24h3v1h-3zM39 24h1v1h-1zM42 24h2v1h-2zM51 24h1v1h-1zM58 24h1v1h-1zM61 24h1v1h-1zM23 25h2v1h-2zM39 25h1v1h-1zM46 25h3v1h-3zM52 25h1v1h-1zM58 25h1v1h-1zM62 25h1v1h-1zM2 26h1v1h-1zM11 26h1v1h-1zM24 26h1v1h-1zM32 26h1v1h-1zM38 26h1v1h-1zM56 26h1v1h-1zM63 26h1v1h-1zM2 27h1v1h-1zM10 27h2v1h-2zM16 27h1v1h-1zM23 27h2v1h-2zM29 27h1v1h-1zM32 27h2v1h-2zM43 27h1v1h-1zM50 27h1v1h-1zM1 28h1v1h-1zM4 28h1v1h-1zM20 28h1v1h-1zM22 28h1v1h-1zM24 28h1v1h-1zM31 28h1v1h-1zM33 28h1v1h-1zM44 28h1v1h-1zM48 28h1v1h-1zM50 28h2v1h-2zM54 28h2v1h-2zM59 28h3v1h-3zM1 29h2v1h-2zM21 29h2v1h-2zM31 29h1v1h-1zM40 29h2v1h-2zM48 29h1v1h-1zM53 29h1v1h-1zM60 29h1v1h-1zM2 30h1v1h-1zM13 30h2v1h-2zM25 30h1v1h-1zM33 30h1v1h-1zM53 30h1v1h-1zM2 31h1v1h-1zM13 31h1v1h-1zM16 31h2v1h-2zM28 31h1v1h-1zM31 31h2v1h-2zM34 31h1v1h-1zM50 31h1v1h-1zM56 31h2v1h-2zM63 31h1v1h-1zM0 32h2v1h-2zM17 32h1v1h-1zM37 32h1v1h-1zM39 32h1v1h-1zM43 32h1v1h-1zM45 32h2v1h-2zM28 33h1v1h-1zM2 34h1v1h-1zM28 34h1v1h-1zM46 34h1v1h-1zM28 35h1v1h-1zM31 35h2v1h-2zM45 36h1v1h-1zM57 37h1v1h-1zM65 42h1v1h-1zM21 49h1v1h-1zM30 49h1v1h-1zM21 50h1v1h-1zM24 50h1v1h-1zM31 51h2v1h-2zM56 51h1v1h-1zM12 52h1v1h-1zM56 52h1v1h-1zM56 53h1v1h-1zM57 55h1v1h-1zM57 56h1v1h-1zM52 57h1v1h-1zM57 57h1v1h-1zM35 58h1v1h-1zM52 58h2v1h-2zM51 59h2v1h-2zM52 60h1v1h-1zM7 61h1v1h-1zM15 61h1v1h-1zM35 62h1v1h-1zM41 62h2v1h-2zM62 62h1v1h-1zM35 63h1v1h-1zM41 63h1v1h-1zM35 64h1v1h-1zM1 65h1v1h-1zM44 65h1v1h-1zM39 67h1v1h-1zM25 68h1v1h-1zM22 69h1v1h-1zM25 69h1v1h-1zM19 70h1v1h-1zM19 71h1v1h-1zM35 71h1v1h-1zM46 71h1v1h-1zM58 71h1v1h-1zM19 72h1v1h-1zM34 72h2v1h-2zM46 72h1v1h-1zM19 73h1v1h-1zM34 73h1v1h-1zM46 73h1v1h-1zM19 74h1v1h-1zM45 74h1v1h-1zM19 75h2v1h-2zM46 75h2v1h-2zM54 75h1v1h-1zM20 76h1v1h-1zM40 76h1v1h-1zM42 76h1v1h-1zM47 76h1v1h-1zM22 78h1v1h-1zM40 78h1v1h-1zM43 78h2v1h-2zM47 78h1v1h-1zM6 79h1v1h-1zM29 79h1v1h-1zM40 79h1v1h-1zM43 79h1v1h-1zM6 80h1v1h-1zM58 80h1v1h-1zM44 81h1v1h-1zM40 82h1v1h-1zM61 82h1v1h-1zM40 83h1v1h-1zM42 83h1v1h-1zM61 83h1v1h-1zM27 84h2v1h-2zM42 84h1v1h-1zM45 84h3v1h-3zM61 84h1v1h-1zM25 85h1v1h-1zM27 85h1v1h-1zM42 85h1v1h-1zM45 85h2v1h-2zM21 86h1v1h-1zM25 86h1v1h-1zM21 87h1v1h-1zM62 87h1v1h-1zM42 88h1v1h-1zM44 89h1v1h-1zM48 89h1v1h-1zM44 90h1v1h-1zM40 91h1v1h-1zM11 93h1v1h-1zM24 93h1v1h-1zM41 94h1v1h-1zM6 95h1v1h-1zM9 95h1v1h-1zM11 95h1v1h-1zM3 96h1v1h-1zM9 96h1v1h-1zM30 97h1v1h-1zM25 99h1v1h-1zM10 100h2v1h-2zM31 100h1v1h-1zM10 101h1v1h-1zM61 101h1v1h-1zM10 102h1v1h-1zM31 102h1v1h-1zM47 102h1v1h-1zM49 102h2v1h-2zM58 102h1v1h-1zM60 102h1v1h-1zM64 102h1v1h-1zM38 104h1v1h-1zM20 106h1v1h-1zM39 106h1v1h-1zM43 106h1v1h-1zM48 106h1v1h-1zM20 107h1v1h-1zM39 107h1v1h-1zM48 107h1v1h-1zM15 108h1v1h-1zM39 108h1v1h-1zM65 108h1v1h-1zM11 109h1v1h-1zM49 109h1v1h-1zM58 109h1v1h-1zM65 109h1v1h-1zM7 110h1v1h-1zM31 110h2v1h-2zM44 110h1v1h-1zM63 110h1v1h-1zM65 110h1v1h-1zM10 111h1v1h-1zM32 111h1v1h-1zM34 111h1v1h-1zM37 111h1v1h-1zM63 111h1v1h-1zM10 112h1v1h-1zM20 113h1v1h-1zM43 113h1v1h-1zM59 113h1v1h-1zM13 114h1v1h-1zM20 114h1v1h-1zM23 114h1v1h-1zM33 114h1v1h-1zM13 115h1v1h-1zM20 115h1v1h-1zM23 115h2v1h-2zM44 115h1v1h-1zM13 116h1v1h-1zM20 116h1v1h-1zM24 116h1v1h-1zM26 116h1v1h-1zM31 116h1v1h-1zM44 116h1v1h-1zM55 116h1v1h-1zM16 117h1v1h-1zM25 118h1v1h-1zM35 118h1v1h-1zM25 119h1v1h-1zM35 119h1v1h-1zM7 120h1v1h-1zM20 120h1v1h-1zM25 120h1v1h-1zM27 120h1v1h-1zM40 120h1v1h-1zM52 120h1v1h-1zM20 121h1v1h-1zM27 121h1v1h-1zM27 122h1v1h-1zM33 123h1v1h-1zM20 124h1v1h-1zM38 124h1v1h-1zM19 126h1v1h-1zM33 126h2v1h-2zM55 126h1v1h-1zM16 127h1v1h-1zM33 127h1v1h-1zM37 127h1v1h-1zM12 128h1v1h-1zM37 128h1v1h-1zM3 129h1v1h-1zM25 129h1v1h-1zM33 129h2v1h-2zM25 130h1v1h-1zM31 130h1v1h-1zM33 130h1v1h-1zM15 131h1v1h-1zM20 131h1v1h-1zM22 131h1v1h-1zM25 131h1v1h-1zM33 131h1v1h-1zM37 131h2v1h-2zM20 132h1v1h-1zM22 132h1v1h-1zM32 132h1v1h-1zM37 132h1v1h-1zM32 133h1v1h-1zM34 133h1v1h-1zM33 135h1v1h-1zM41 135h1v1h-1zM29 136h1v1h-1zM31 136h1v1h-1zM40 136h2v1h-2zM29 137h1v1h-1zM34 137h1v1h-1zM40 137h1v1h-1zM29 138h1v1h-1zM32 138h1v1h-1zM34 138h1v1h-1zM13 139h1v1h-1zM29 139h1v1h-1zM32 139h1v1h-1zM34 139h1v1h-1zM49 139h2v1h-2zM13 140h1v1h-1zM32 140h1v1h-1zM34 140h1v1h-1zM28 141h1v1h-1zM32 141h1v1h-1zM37 141h1v1h-1zM31 142h1v1h-1zM43 142h1v1h-1zM9 143h1v1h-1zM30 143h2v1h-2zM37 144h1v1h-1zM13 145h1v1h-1zM25 145h1v1h-1zM25 146h1v1h-1zM25 147h1v1h-1zM30 147h1v1h-1zM33 147h1v1h-1zM60 147h1v1h-1zM14 148h2v1h-2zM25 148h1v1h-1zM30 148h1v1h-1zM59 148h2v1h-2zM14 149h1v1h-1zM25 149h1v1h-1zM59 149h1v1h-1zM15 150h1v1h-1zM50 150h2v1h-2zM50 151h1v1h-1zM27 152h1v1h-1zM33 153h1v1h-1zM34 154h1v1h-1zM38 154h1v1h-1zM40 154h1v1h-1zM34 155h1v1h-1zM34 156h3v1h-3zM34 157h1v1h-1zM29 158h1v1h-1zM34 158h1v1h-1zM22 159h1v1h-1zM19 160h1v1h-1zM25 160h1v1h-1zM42 160h2v1h-2zM52 160h1v1h-1zM59 160h1v1h-1zM62 160h2v1h-2zM10 161h1v1h-1zM19 161h1v1h-1zM25 161h1v1h-1zM32 161h1v1h-1zM52 161h1v1h-1zM55 161h1v1h-1zM10 162h1v1h-1zM23 162h2v1h-2zM30 162h3v1h-3zM44 162h2v1h-2zM51 162h1v1h-1zM53 162h1v1h-1zM55 162h1v1h-1zM59 162h1v1h-1zM24 163h1v1h-1zM32 163h1v1h-1zM44 163h1v1h-1zM20 164h1v1h-1zM25 164h2v1h-2zM32 164h1v1h-1zM40 164h1v1h-1zM42 164h1v1h-1zM64 164h1v1h-1zM17 165h1v1h-1zM20 165h1v1h-1zM36 165h1v1h-1zM60 165h1v1h-1zM2 166h1v1h-1zM40 166h1v1h-1zM46 166h1v1h-1zM60 166h1v1h-1zM2 167h1v1h-1zM60 167h1v1h-1zM2 168h1v1h-1zM28 168h1v1h-1zM41 168h1v1h-1zM48 168h1v1h-1zM57 168h1v1h-1zM24 169h1v1h-1zM36 169h1v1h-1zM43 169h1v1h-1zM48 169h2v1h-2zM17 170h2v1h-2zM23 170h1v1h-1zM35 170h1v1h-1zM42 170h1v1h-1zM47 170h1v1h-1zM49 170h1v1h-1zM22 171h2v1h-2zM31 171h1v1h-1zM35 171h1v1h-1zM49 171h1v1h-1zM11 172h1v1h-1zM21 172h6v1h-6zM32 172h1v1h-1zM35 172h1v1h-1zM39 172h2v1h-2zM11 173h1v1h-1zM24 173h1v1h-1zM32 173h2v1h-2zM35 173h1v1h-1zM58 173h1v1h-1zM33 174h1v1h-1zM58 174h1v1h-1zM7 175h1v1h-1zM30 175h1v1h-1zM34 175h1v1h-1zM8 176h1v1h-1zM30 176h1v1h-1zM43 176h1v1h-1zM10 177h1v1h-1zM21 177h1v1h-1zM36 179h1v1h-1zM60 179h1v1h-1zM63 179h2v1h-2zM31 180h2v1h-2zM36 180h1v1h-1zM39 180h1v1h-1zM58 180h1v1h-1zM20 181h2v1h-2zM24 181h1v1h-1zM33 181h1v1h-1zM39 181h1v1h-1zM50 181h1v1h-1zM58 181h1v1h-1zM63 181h1v1h-1zM33 182h2v1h-2zM37 182h1v1h-1zM47 182h1v1h-1zM34 183h1v1h-1zM41 183h1v1h-1zM46 183h2v1h-2zM52 183h1v1h-1zM47 184h1v1h-1zM47 185h1v1h-1zM24 186h2v1h-2zM27 186h1v1h-1zM36 187h1v1h-1zM38 187h1v1h-1zM46 187h1v1h-1zM53 187h1v1h-1zM64 187h1v1h-1zM23 188h3v1h-3zM31 188h1v1h-1zM36 188h1v1h-1zM39 188h2v1h-2zM46 188h1v1h-1zM58 188h2v1h-2zM64 188h1v1h-1zM20 189h1v1h-1zM30 189h2v1h-2zM34 189h1v1h-1zM39 189h1v1h-1zM42 189h1v1h-1zM45 189h2v1h-2zM58 189h1v1h-1zM64 189h1v1h-1zM8 190h1v1h-1zM23 190h3v1h-3zM30 190h2v1h-2zM45 190h1v1h-1zM19 191h2v1h-2zM24 191h1v1h-1zM30 191h1v1h-1zM42 191h1v1h-1zM45 191h1v1h-1zM19 192h2v1h-2zM42 192h1v1h-1zM45 192h1v1h-1zM25 193h4v1h-4zM34 193h1v1h-1zM38 193h1v1h-1zM26 194h1v1h-1zM28 194h1v1h-1zM44 194h2v1h-2zM60 194h1v1h-1zM45 195h1v1h-1zM48 195h1v1h-1zM57 195h1v1h-1zM63 195h1v1h-1zM2 196h1v1h-1zM20 196h1v1h-1zM37 196h1v1h-1zM48 196h1v1h-1zM57 196h1v1h-1zM63 196h1v1h-1zM29 197h1v1h-1zM57 197h1v1h-1zM63 197h1v1h-1zM16 198h1v1h-1zM55 198h3v1h-3zM39 199h1v1h-1zM52 199h1v1h-1zM55 199h1v1h-1zM5 201h1v1h-1zM50 201h1v1h-1zM56 202h1v1h-1zM13 203h1v1h-1zM15 203h1v1h-1zM13 204h1v1h-1zM15 204h1v1h-1zM57 204h1v1h-1zM6 205h1v1h-1zM13 205h1v1h-1zM56 205h2v1h-2zM47 206h1v1h-1zM56 206h1v1h-1zM11 207h1v1h-1zM23 207h1v1h-1zM51 207h1v1h-1zM61 208h2v1h-2zM64 208h1v1h-1zM2 209h1v1h-1zM9 209h1v1h-1zM14 209h1v1h-1zM46 209h1v1h-1zM62 209h1v1h-1zM6 210h1v1h-1zM18 210h1v1h-1zM46 210h1v1h-1zM48 210h2v1h-2zM10 211h2v1h-2zM16 211h1v1h-1zM18 211h1v1h-1zM48 211h2v1h-2zM9 212h1v1h-1zM11 212h1v1h-1zM16 212h1v1h-1zM43 212h1v1h-1zM57 212h1v1h-1zM61 212h1v1h-1zM5 213h1v1h-1zM11 213h1v1h-1zM14 213h1v1h-1zM55 213h1v1h-1zM60 213h1v1h-1zM19 214h1v1h-1zM60 214h1v1h-1zM49 215h1v1h-1zM51 215h1v1h-1zM60 215h1v1h-1zM31 216h1v1h-1zM39 216h1v1h-1zM51 216h1v1h-1zM31 217h1v1h-1zM61 217h1v1h-1zM18 218h1v1h-1zM48 218h1v1h-1zM60 218h2v1h-2zM5 219h1v1h-1zM18 219h1v1h-1zM31 219h1v1h-1zM52 219h1v1h-1zM5 220h1v1h-1zM22 220h1v1h-1zM31 220h1v1h-1zM40 220h1v1h-1zM63 220h1v1h-1zM4 221h1v1h-1zM31 221h1v1h-1zM11 222h1v1h-1zM36 222h1v1h-1zM44 222h3v1h-3zM36 223h1v1h-1zM44 223h1v1h-1zM46 223h1v1h-1zM60 223h1v1h-1zM4 224h1v1h-1zM49 224h2v1h-2zM52 224h1v1h-1zM61 224h1v1h-1zM4 225h1v1h-1zM16 225h2v1h-2zM50 225h1v1h-1zM61 225h1v1h-1zM4 226h1v1h-1zM61 226h1v1h-1zM4 227h1v1h-1zM7 227h1v1h-1zM16 227h2v1h-2zM61 227h1v1h-1zM7 228h1v1h-1zM61 228h1v1h-1zM65 228h1v1h-1zM6 229h1v1h-1zM43 229h1v1h-1zM48 229h1v1h-1zM56 229h1v1h-1zM61 229h1v1h-1zM6 230h1v1h-1zM17 230h1v1h-1zM19 230h1v1h-1zM43 230h1v1h-1zM26 232h1v1h-1zM63 232h1v1h-1zM39 233h1v1h-1zM48 234h1v1h-1zM2 235h1v1h-1zM17 235h2v1h-2zM53 236h2v1h-2zM37 237h1v1h-1zM43 237h1v1h-1zM10 238h2v1h-2zM44 238h1v1h-1zM21 239h1v1h-1zM64 239h1v1h-1zM59 243h1v1h-1zM55 244h1v1h-1zM12 246h1v1h-1z" fill="#f8bb9e"/>
<path d="M4 0h1v1h-1zM8 0h1v1h-1zM18 0h1v1h-1zM23 0h1v1h-1zM27 0h1v1h-1zM32 0h1v1h-1zM45 0h1v1h-1zM58 0h3v1h-3zM7 1h3v1h-3zM18 1h1v1h-1zM20 1h1v1h-1zM26 1h1v1h-1zM32 1h1v1h-1zM34 1h1v1h-1zM39 1h1v1h-1zM58 1h2v1h-2zM7 2h1v1h-1zM9 2h1v1h-1zM14 2h1v1h-1zM17 2h3v1h-3zM22 2h2v1h-2zM49 2h1v1h-1zM59 2h1v1h-1zM11 3h1v1h-1zM34 3h1v1h-1zM39 3h1v1h-1zM41 3h2v1h-2zM49 3h1v1h-1zM57 3h1v1h-1zM16 4h1v1h-1zM28 4h1v1h-1zM42 4h1v1h-1zM49 4h4v1h-4zM56 4h1v1h-1zM14 5h1v1h-1zM30 5h1v1h-1zM41 5h3v1h-3zM45 5h2v1h-2zM21 6h2v1h-2zM29 6h1v1h-1zM39 6h2v1h-2zM45 6h1v1h-1zM57 6h1v1h-1zM18 7h2v1h-2zM21 7h1v1h-1zM30 7h1v1h-1zM34 7h1v1h-1zM58 7h2v1h-2zM21 8h1v1h-1zM34 8h1v1h-1zM53 8h1v1h-1zM19 9h1v1h-1zM22 9h1v1h-1zM34 9h1v1h-1zM53 9h2v1h-2zM60 9h1v1h-1zM8 10h1v1h-1zM15 10h1v1h-1zM39 10h2v1h-2zM42 10h1v1h-1zM52 10h2v1h-2zM64 10h1v1h-1zM11 11h1v1h-1zM36 11h2v1h-2zM42 11h1v1h-1zM45 11h1v1h-1zM54 11h1v1h-1zM56 11h1v1h-1zM60 11h1v1h-1zM10 12h1v1h-1zM23 12h2v1h-2zM26 12h2v1h-2zM29 12h3v1h-3zM53 12h2v1h-2zM57 12h1v1h-1zM63 12h2v1h-2zM16 13h1v1h-1zM19 13h1v1h-1zM27 13h1v1h-1zM34 13h1v1h-1zM36 13h1v1h-1zM38 13h2v1h-2zM41 13h1v1h-1zM54 13h1v1h-1zM57 13h1v1h-1zM61 13h1v1h-1zM63 13h2v1h-2zM6 14h1v1h-1zM16 14h4v1h-4zM34 14h1v1h-1zM38 14h1v1h-1zM41 14h1v1h-1zM53 14h2v1h-2zM60 14h1v1h-1zM63 14h1v1h-1zM0 15h2v1h-2zM3 15h1v1h-1zM17 15h1v1h-1zM20 15h1v1h-1zM27 15h1v1h-1zM41 15h1v1h-1zM43 15h1v1h-1zM55 15h1v1h-1zM62 15h2v1h-2zM20 16h2v1h-2zM27 16h1v1h-1zM43 16h1v1h-1zM45 16h1v1h-1zM55 16h4v1h-4zM0 17h1v1h-1zM12 17h1v1h-1zM15 17h1v1h-1zM20 17h1v1h-1zM32 17h1v1h-1zM57 17h2v1h-2zM65 17h1v1h-1zM0 18h1v1h-1zM3 18h2v1h-2zM15 18h1v1h-1zM31 18h2v1h-2zM36 18h1v1h-1zM40 18h1v1h-1zM50 18h1v1h-1zM57 18h1v1h-1zM63 18h1v1h-1zM5 19h1v1h-1zM26 19h2v1h-2zM31 19h3v1h-3zM36 19h1v1h-1zM43 19h1v1h-1zM51 19h1v1h-1zM53 19h1v1h-1zM63 19h1v1h-1zM0 20h1v1h-1zM8 20h1v1h-1zM13 20h1v1h-1zM17 20h1v1h-1zM26 20h1v1h-1zM31 20h3v1h-3zM36 20h1v1h-1zM38 20h1v1h-1zM43 20h4v1h-4zM61 20h3v1h-3zM26 21h1v1h-1zM31 21h1v1h-1zM34 21h1v1h-1zM37 21h1v1h-1zM13 22h3v1h-3zM17 22h1v1h-1zM26 22h1v1h-1zM31 22h2v1h-2zM34 22h2v1h-2zM41 22h1v1h-1zM43 22h1v1h-1zM48 22h1v1h-1zM50 22h1v1h-1zM62 22h1v1h-1zM15 23h1v1h-1zM18 23h1v1h-1zM31 23h3v1h-3zM38 23h1v1h-1zM41 23h2v1h-2zM50 23h1v1h-1zM54 23h1v1h-1zM60 23h2v1h-2zM29 24h1v1h-1zM32 24h2v1h-2zM35 24h1v1h-1zM38 24h1v1h-1zM46 24h1v1h-1zM53 24h2v1h-2zM56 24h2v1h-2zM64 24h1v1h-1zM9 25h1v1h-1zM11 25h2v1h-2zM32 25h2v1h-2zM35 25h1v1h-1zM44 25h1v1h-1zM56 25h1v1h-1zM61 25h1v1h-1zM64 25h1v1h-1zM10 26h1v1h-1zM26 26h1v1h-1zM28 26h1v1h-1zM43 26h2v1h-2zM48 26h1v1h-1zM55 26h1v1h-1zM62 26h1v1h-1zM5 27h1v1h-1zM8 27h1v1h-1zM14 27h1v1h-1zM28 27h1v1h-1zM48 27h1v1h-1zM55 27h1v1h-1zM59 27h1v1h-1zM61 27h2v1h-2zM64 27h1v1h-1zM5 28h1v1h-1zM21 28h1v1h-1zM25 28h1v1h-1zM27 28h3v1h-3zM35 28h4v1h-4zM63 28h2v1h-2zM4 29h1v1h-1zM18 29h2v1h-2zM25 29h1v1h-1zM27 29h1v1h-1zM33 29h1v1h-1zM38 29h1v1h-1zM62 29h2v1h-2zM4 30h1v1h-1zM4 31h1v1h-1zM10 31h1v1h-1zM19 31h1v1h-1zM21 31h1v1h-1zM26 31h1v1h-1zM35 31h3v1h-3zM44 31h1v1h-1zM53 31h1v1h-1zM58 31h1v1h-1zM10 32h1v1h-1zM19 32h3v1h-3zM23 32h1v1h-1zM26 32h1v1h-1zM28 32h1v1h-1zM31 32h1v1h-1zM34 32h1v1h-1zM36 32h1v1h-1zM44 32h1v1h-1zM48 32h3v1h-3zM58 32h1v1h-1zM20 33h2v1h-2zM26 33h1v1h-1zM34 33h1v1h-1zM37 33h1v1h-1zM49 33h1v1h-1zM57 33h2v1h-2zM4 34h1v1h-1zM10 34h1v1h-1zM21 34h1v1h-1zM25 34h1v1h-1zM34 34h1v1h-1zM36 34h1v1h-1zM57 34h3v1h-3zM63 34h2v1h-2zM2 35h1v1h-1zM25 35h2v1h-2zM57 35h1v1h-1zM59 35h1v1h-1zM26 36h1v1h-1zM26 37h1v1h-1zM65 37h1v1h-1zM65 38h1v1h-1zM57 39h1v1h-1zM57 40h1v1h-1zM57 41h1v1h-1zM57 42h1v1h-1zM31 46h1v1h-1zM59 46h1v1h-1zM4 48h1v1h-1zM21 48h2v1h-2zM31 49h2v1h-2zM31 50h1v1h-1zM30 51h1v1h-1zM64 51h1v1h-1zM54 52h1v1h-1zM0 56h1v1h-1zM60 56h1v1h-1zM0 57h1v1h-1zM14 58h1v1h-1zM31 58h3v1h-3zM43 58h1v1h-1zM31 59h3v1h-3zM56 59h1v1h-1zM58 59h1v1h-1zM6 61h1v1h-1zM17 61h1v1h-1zM16 62h2v1h-2zM0 63h1v1h-1zM17 63h1v1h-1zM52 63h1v1h-1zM19 65h1v1h-1zM24 65h1v1h-1zM41 65h3v1h-3zM46 65h1v1h-1zM46 66h1v1h-1zM46 67h1v1h-1zM26 68h1v1h-1zM28 68h1v1h-1zM28 69h1v1h-1zM35 69h1v1h-1zM37 69h3v1h-3zM38 70h1v1h-1zM38 71h1v1h-1zM47 71h1v1h-1zM38 72h1v1h-1zM47 72h1v1h-1zM47 73h1v1h-1zM8 74h1v1h-1zM46 74h2v1h-2zM21 75h1v1h-1zM21 76h1v1h-1zM24 76h1v1h-1zM46 76h1v1h-1zM21 77h1v1h-1zM43 77h1v1h-1zM1 78h1v1h-1zM21 78h1v1h-1zM41 78h1v1h-1zM1 79h1v1h-1zM41 79h1v1h-1zM1 80h1v1h-1zM20 81h1v1h-1zM38 81h1v1h-1zM19 82h1v1h-1zM39 82h1v1h-1zM19 83h3v1h-3zM52 83h1v1h-1zM65 83h1v1h-1zM16 84h1v1h-1zM24 84h1v1h-1zM52 84h1v1h-1zM57 84h1v1h-1zM14 85h1v1h-1zM24 85h1v1h-1zM41 85h1v1h-1zM12 86h1v1h-1zM24 86h1v1h-1zM41 86h1v1h-1zM46 86h2v1h-2zM12 87h1v1h-1zM26 87h1v1h-1zM40 87h1v1h-1zM44 87h1v1h-1zM46 87h2v1h-2zM12 88h1v1h-1zM26 88h1v1h-1zM40 88h2v1h-2zM43 88h1v1h-1zM19 89h1v1h-1zM41 89h1v1h-1zM41 90h1v1h-1zM35 91h1v1h-1zM36 92h1v1h-1zM8 93h1v1h-1zM12 93h1v1h-1zM16 93h1v1h-1zM8 94h1v1h-1zM22 94h2v1h-2zM8 95h1v1h-1zM56 98h1v1h-1zM62 99h1v1h-1zM62 100h1v1h-1zM20 101h1v1h-1zM60 101h1v1h-1zM20 102h1v1h-1zM55 102h1v1h-1zM56 103h1v1h-1zM16 104h1v1h-1zM13 105h1v1h-1zM16 105h1v1h-1zM18 105h1v1h-1zM56 105h1v1h-1zM16 106h1v1h-1zM18 106h1v1h-1zM56 106h1v1h-1zM56 107h1v1h-1zM13 108h1v1h-1zM13 109h1v1h-1zM17 109h1v1h-1zM19 109h1v1h-1zM29 109h1v1h-1zM38 109h1v1h-1zM13 110h1v1h-1zM17 110h1v1h-1zM19 110h1v1h-1zM27 110h1v1h-1zM29 110h1v1h-1zM36 110h3v1h-3zM48 110h1v1h-1zM17 111h1v1h-1zM19 111h1v1h-1zM29 111h1v1h-1zM45 111h1v1h-1zM14 112h1v1h-1zM17 112h1v1h-1zM14 113h1v1h-1zM17 113h1v1h-1zM34 113h1v1h-1zM37 113h1v1h-1zM40 113h1v1h-1zM17 114h1v1h-1zM37 114h1v1h-1zM39 114h2v1h-2zM15 117h1v1h-1zM25 117h3v1h-3zM31 117h1v1h-1zM50 117h2v1h-2zM57 117h2v1h-2zM15 118h1v1h-1zM21 118h1v1h-1zM26 118h2v1h-2zM40 118h1v1h-1zM54 118h1v1h-1zM13 119h3v1h-3zM21 119h1v1h-1zM26 119h2v1h-2zM49 119h1v1h-1zM13 120h3v1h-3zM21 120h1v1h-1zM26 120h1v1h-1zM49 120h1v1h-1zM59 120h1v1h-1zM21 121h2v1h-2zM49 121h1v1h-1zM59 121h1v1h-1zM19 122h1v1h-1zM21 122h1v1h-1zM38 122h1v1h-1zM40 122h1v1h-1zM49 122h1v1h-1zM58 122h1v1h-1zM21 123h1v1h-1zM21 124h1v1h-1zM25 124h1v1h-1zM30 124h1v1h-1zM37 124h1v1h-1zM25 125h1v1h-1zM30 125h1v1h-1zM40 125h1v1h-1zM27 126h1v1h-1zM29 126h3v1h-3zM30 127h1v1h-1zM49 127h1v1h-1zM20 128h1v1h-1zM26 128h1v1h-1zM32 128h1v1h-1zM12 129h1v1h-1zM26 130h1v1h-1zM0 131h1v1h-1zM26 131h1v1h-1zM31 131h1v1h-1zM43 131h1v1h-1zM8 132h1v1h-1zM26 132h1v1h-1zM28 132h1v1h-1zM54 132h1v1h-1zM26 133h1v1h-1zM20 134h1v1h-1zM6 135h1v1h-1zM20 135h1v1h-1zM25 135h1v1h-1zM19 136h1v1h-1zM23 136h1v1h-1zM37 139h2v1h-2zM64 139h2v1h-2zM38 140h1v1h-1zM21 141h1v1h-1zM20 142h1v1h-1zM37 142h1v1h-1zM20 143h1v1h-1zM28 143h1v1h-1zM36 143h2v1h-2zM36 144h1v1h-1zM16 145h1v1h-1zM27 145h1v1h-1zM29 145h1v1h-1zM34 145h1v1h-1zM37 145h1v1h-1zM29 146h1v1h-1zM31 146h4v1h-4zM10 147h1v1h-1zM29 147h1v1h-1zM31 147h2v1h-2zM34 147h1v1h-1zM10 148h1v1h-1zM21 148h1v1h-1zM26 148h1v1h-1zM32 148h1v1h-1zM35 148h1v1h-1zM10 149h1v1h-1zM15 149h2v1h-2zM26 149h1v1h-1zM30 149h3v1h-3zM35 149h1v1h-1zM46 149h1v1h-1zM29 150h3v1h-3zM35 150h1v1h-1zM38 150h1v1h-1zM46 150h1v1h-1zM64 150h1v1h-1zM30 151h1v1h-1zM35 151h1v1h-1zM37 151h1v1h-1zM46 151h1v1h-1zM22 152h1v1h-1zM33 152h2v1h-2zM37 152h1v1h-1zM43 152h1v1h-1zM21 153h2v1h-2zM30 153h1v1h-1zM46 153h1v1h-1zM22 154h1v1h-1zM29 154h2v1h-2zM58 154h1v1h-1zM30 155h1v1h-1zM31 156h1v1h-1zM41 156h1v1h-1zM41 157h1v1h-1zM32 158h2v1h-2zM35 158h1v1h-1zM37 158h1v1h-1zM32 159h1v1h-1zM56 159h1v1h-1zM5 160h1v1h-1zM60 160h1v1h-1zM31 161h1v1h-1zM60 161h1v1h-1zM65 161h1v1h-1zM9 162h1v1h-1zM16 162h1v1h-1zM25 162h1v1h-1zM42 162h1v1h-1zM50 162h1v1h-1zM60 162h2v1h-2zM23 163h1v1h-1zM14 164h2v1h-2zM28 164h1v1h-1zM37 164h1v1h-1zM55 164h1v1h-1zM62 164h1v1h-1zM11 165h1v1h-1zM23 165h1v1h-1zM28 165h1v1h-1zM37 165h1v1h-1zM39 165h1v1h-1zM48 165h1v1h-1zM58 165h1v1h-1zM61 165h2v1h-2zM3 166h3v1h-3zM23 166h1v1h-1zM39 166h1v1h-1zM48 166h1v1h-1zM61 166h1v1h-1zM5 167h1v1h-1zM21 167h1v1h-1zM5 168h1v1h-1zM21 168h2v1h-2zM39 168h1v1h-1zM45 168h1v1h-1zM5 169h1v1h-1zM11 169h1v1h-1zM16 169h1v1h-1zM21 169h1v1h-1zM23 169h1v1h-1zM33 169h1v1h-1zM46 169h2v1h-2zM21 170h1v1h-1zM30 170h1v1h-1zM32 170h2v1h-2zM41 170h1v1h-1zM46 170h1v1h-1zM59 170h1v1h-1zM17 171h1v1h-1zM19 171h3v1h-3zM24 171h1v1h-1zM33 171h1v1h-1zM41 171h1v1h-1zM46 171h1v1h-1zM55 171h2v1h-2zM62 171h2v1h-2zM19 172h2v1h-2zM34 172h1v1h-1zM37 172h1v1h-1zM62 172h1v1h-1zM21 173h1v1h-1zM62 173h1v1h-1zM22 175h1v1h-1zM33 175h1v1h-1zM64 175h1v1h-1zM7 176h1v1h-1zM25 176h1v1h-1zM31 176h1v1h-1zM19 177h1v1h-1zM31 177h1v1h-1zM43 177h1v1h-1zM45 177h1v1h-1zM34 178h1v1h-1zM36 178h1v1h-1zM19 179h1v1h-1zM34 179h1v1h-1zM39 179h1v1h-1zM41 179h2v1h-2zM44 179h1v1h-1zM50 179h1v1h-1zM56 179h1v1h-1zM19 180h1v1h-1zM27 180h1v1h-1zM30 180h1v1h-1zM41 180h1v1h-1zM45 180h1v1h-1zM56 180h1v1h-1zM30 181h1v1h-1zM32 181h1v1h-1zM56 181h1v1h-1zM30 182h1v1h-1zM32 182h1v1h-1zM6 183h1v1h-1zM23 183h1v1h-1zM32 183h1v1h-1zM42 183h1v1h-1zM26 184h1v1h-1zM45 184h1v1h-1zM55 184h1v1h-1zM26 185h1v1h-1zM45 185h1v1h-1zM55 185h1v1h-1zM58 185h1v1h-1zM8 186h1v1h-1zM26 186h1v1h-1zM37 186h1v1h-1zM57 186h1v1h-1zM26 187h3v1h-3zM30 187h1v1h-1zM42 187h1v1h-1zM44 187h1v1h-1zM57 187h1v1h-1zM27 188h2v1h-2zM47 188h1v1h-1zM51 188h2v1h-2zM57 188h1v1h-1zM61 188h1v1h-1zM4 189h1v1h-1zM7 189h1v1h-1zM25 189h3v1h-3zM51 189h1v1h-1zM61 189h1v1h-1zM26 190h1v1h-1zM29 190h1v1h-1zM33 191h1v1h-1zM31 192h1v1h-1zM33 192h2v1h-2zM43 192h1v1h-1zM52 192h1v1h-1zM9 193h1v1h-1zM22 193h1v1h-1zM30 193h2v1h-2zM33 193h1v1h-1zM45 193h1v1h-1zM52 193h1v1h-1zM56 193h1v1h-1zM33 194h1v1h-1zM56 194h1v1h-1zM33 195h1v1h-1zM56 195h1v1h-1zM33 196h1v1h-1zM52 196h1v1h-1zM52 197h1v1h-1zM1 199h1v1h-1zM7 199h2v1h-2zM17 199h1v1h-1zM40 199h1v1h-1zM17 200h1v1h-1zM40 200h1v1h-1zM6 201h1v1h-1zM14 201h1v1h-1zM18 201h1v1h-1zM12 202h1v1h-1zM14 202h2v1h-2zM12 203h1v1h-1zM14 203h1v1h-1zM12 204h1v1h-1zM16 204h3v1h-3zM58 204h1v1h-1zM10 205h1v1h-1zM11 208h1v1h-1zM8 209h1v1h-1zM16 209h1v1h-1zM18 209h1v1h-1zM8 210h1v1h-1zM43 210h1v1h-1zM12 212h1v1h-1zM53 212h1v1h-1zM10 214h1v1h-1zM12 214h1v1h-1zM35 214h1v1h-1zM12 215h1v1h-1zM48 215h1v1h-1zM12 216h1v1h-1zM48 216h1v1h-1zM10 217h1v1h-1zM12 217h1v1h-1zM57 217h1v1h-1zM60 217h1v1h-1zM62 217h1v1h-1zM1 218h2v1h-2zM10 218h1v1h-1zM12 218h1v1h-1zM55 218h1v1h-1zM58 218h1v1h-1zM43 219h1v1h-1zM58 219h1v1h-1zM6 220h1v1h-1zM36 220h1v1h-1zM43 220h1v1h-1zM48 220h2v1h-2zM58 220h1v1h-1zM25 221h1v1h-1zM43 221h1v1h-1zM49 221h1v1h-1zM53 221h1v1h-1zM55 221h1v1h-1zM64 221h1v1h-1zM43 222h1v1h-1zM49 222h1v1h-1zM55 222h1v1h-1zM55 223h1v1h-1zM59 223h1v1h-1zM64 223h1v1h-1zM48 224h1v1h-1zM59 224h2v1h-2zM64 224h1v1h-1zM7 225h1v1h-1zM59 225h1v1h-1zM3 227h1v1h-1zM19 227h1v1h-1zM47 227h1v1h-1zM47 228h1v1h-1zM55 229h1v1h-1zM65 229h1v1h-1zM52 230h1v1h-1zM55 230h2v1h-2zM21 231h2v1h-2zM37 231h1v1h-1zM52 231h1v1h-1zM56 231h2v1h-2zM22 232h1v1h-1zM37 232h1v1h-1zM29 234h1v1h-1zM62 235h2v1h-2zM57 236h1v1h-1zM57 237h1v1h-1zM61 239h1v1h-1zM32 240h1v1h-1zM45 242h2v1h-2zM38 243h1v1h-1zM47 243h1v1h-1zM20 244h1v1h-1zM40 245h1v1h-1z" fill="#fac9b1"/>
<path d="M14 0h1v1h-1zM39 0h1v1h-1zM41 0h2v1h-2zM50 0h1v1h-1zM54 0h1v1h-1zM16 1h2v1h-2zM21 1h1v1h-1zM27 1h1v1h-1zM40 1h3v1h-3zM44 1h2v1h-2zM54 1h1v1h-1zM0 2h3v1h-3zM21 2h1v1h-1zM30 2h1v1h-1zM40 2h1v1h-1zM54 2h1v1h-1zM0 3h1v1h-1zM40 3h1v1h-1zM14 4h1v1h-1zM20 4h1v1h-1zM22 4h1v1h-1zM40 4h1v1h-1zM22 5h1v1h-1zM24 5h1v1h-1zM4 6h1v1h-1zM24 6h1v1h-1zM43 6h1v1h-1zM63 6h1v1h-1zM3 7h1v1h-1zM6 8h1v1h-1zM6 9h1v1h-1zM18 10h1v1h-1zM34 10h3v1h-3zM41 10h1v1h-1zM43 10h1v1h-1zM55 10h1v1h-1zM62 10h1v1h-1zM6 11h1v1h-1zM18 11h1v1h-1zM55 11h1v1h-1zM62 11h1v1h-1zM18 12h2v1h-2zM21 12h1v1h-1zM34 12h1v1h-1zM47 12h1v1h-1zM58 12h1v1h-1zM62 12h1v1h-1zM4 13h2v1h-2zM10 13h2v1h-2zM17 13h1v1h-1zM33 13h1v1h-1zM46 13h1v1h-1zM56 13h1v1h-1zM58 13h1v1h-1zM60 13h1v1h-1zM4 14h1v1h-1zM11 14h1v1h-1zM15 14h1v1h-1zM24 14h1v1h-1zM43 14h1v1h-1zM4 15h1v1h-1zM10 15h1v1h-1zM24 15h1v1h-1zM26 15h1v1h-1zM29 15h1v1h-1zM42 15h1v1h-1zM44 15h1v1h-1zM56 15h1v1h-1zM4 16h1v1h-1zM24 16h2v1h-2zM62 16h1v1h-1zM24 17h1v1h-1zM54 17h1v1h-1zM62 17h1v1h-1zM9 18h2v1h-2zM13 18h1v1h-1zM29 18h2v1h-2zM46 18h2v1h-2zM44 19h1v1h-1zM46 19h2v1h-2zM49 19h1v1h-1zM58 19h1v1h-1zM64 19h2v1h-2zM29 20h2v1h-2zM42 20h1v1h-1zM47 20h1v1h-1zM49 20h1v1h-1zM52 20h1v1h-1zM36 21h1v1h-1zM41 21h1v1h-1zM43 21h1v1h-1zM47 21h1v1h-1zM49 21h1v1h-1zM57 21h1v1h-1zM0 22h1v1h-1zM11 22h1v1h-1zM40 22h1v1h-1zM53 22h5v1h-5zM0 23h1v1h-1zM5 23h1v1h-1zM11 23h1v1h-1zM40 23h1v1h-1zM56 23h2v1h-2zM62 23h1v1h-1zM0 24h1v1h-1zM11 24h1v1h-1zM41 24h1v1h-1zM48 24h1v1h-1zM55 24h1v1h-1zM60 24h1v1h-1zM62 24h2v1h-2zM29 25h1v1h-1zM40 25h2v1h-2zM55 25h1v1h-1zM1 26h1v1h-1zM3 26h1v1h-1zM12 26h3v1h-3zM18 26h1v1h-1zM33 26h2v1h-2zM40 26h1v1h-1zM47 26h1v1h-1zM58 26h3v1h-3zM3 27h1v1h-1zM15 27h1v1h-1zM18 27h1v1h-1zM40 27h1v1h-1zM47 27h1v1h-1zM63 27h1v1h-1zM18 28h2v1h-2zM30 28h1v1h-1zM40 28h1v1h-1zM62 28h1v1h-1zM13 29h1v1h-1zM24 29h1v1h-1zM30 29h1v1h-1zM35 29h1v1h-1zM42 29h2v1h-2zM54 29h1v1h-1zM24 30h1v1h-1zM1 31h1v1h-1zM12 31h1v1h-1zM25 31h1v1h-1zM27 31h1v1h-1zM29 31h1v1h-1zM33 31h1v1h-1zM54 31h1v1h-1zM65 31h1v1h-1zM5 32h1v1h-1zM15 32h2v1h-2zM33 32h1v1h-1zM59 32h1v1h-1zM61 32h1v1h-1zM5 33h1v1h-1zM59 33h1v1h-1zM63 33h1v1h-1zM5 34h1v1h-1zM23 34h1v1h-1zM27 34h1v1h-1zM43 34h1v1h-1zM55 34h2v1h-2zM9 35h1v1h-1zM12 35h1v1h-1zM17 35h2v1h-2zM44 35h1v1h-1zM48 35h1v1h-1zM6 36h1v1h-1zM4 37h1v1h-1zM6 37h1v1h-1zM59 37h1v1h-1zM63 37h1v1h-1zM4 38h1v1h-1zM56 39h1v1h-1zM56 40h1v1h-1zM65 40h1v1h-1zM21 41h1v1h-1zM56 41h1v1h-1zM56 42h1v1h-1zM56 43h1v1h-1zM0 44h1v1h-1zM8 44h1v1h-1zM13 44h1v1h-1zM19 44h1v1h-1zM57 44h1v1h-1zM59 44h1v1h-1zM54 45h1v1h-1zM64 45h2v1h-2zM3 46h1v1h-1zM14 46h1v1h-1zM33 46h1v1h-1zM59 47h2v1h-2zM12 48h3v1h-3zM33 48h1v1h-1zM59 48h2v1h-2zM12 49h1v1h-1zM23 50h1v1h-1zM33 50h1v1h-1zM22 51h2v1h-2zM40 51h1v1h-1zM48 51h1v1h-1zM7 52h1v1h-1zM22 52h1v1h-1zM31 52h1v1h-1zM36 52h1v1h-1zM40 52h2v1h-2zM31 53h1v1h-1zM41 53h1v1h-1zM65 53h1v1h-1zM22 54h2v1h-2zM35 54h1v1h-1zM65 54h1v1h-1zM33 55h3v1h-3zM17 56h1v1h-1zM13 58h1v1h-1zM40 59h1v1h-1zM43 63h1v1h-1zM47 63h1v1h-1zM54 63h1v1h-1zM14 64h1v1h-1zM43 64h1v1h-1zM63 64h1v1h-1zM63 65h1v1h-1zM17 67h1v1h-1zM24 67h1v1h-1zM30 67h1v1h-1zM37 67h1v1h-1zM55 67h2v1h-2zM7 68h1v1h-1zM27 68h1v1h-1zM37 68h1v1h-1zM40 68h2v1h-2zM7 69h1v1h-1zM30 69h1v1h-1zM7 70h1v1h-1zM24 74h1v1h-1zM42 74h1v1h-1zM15 75h2v1h-2zM24 75h1v1h-1zM45 75h1v1h-1zM49 75h1v1h-1zM57 75h1v1h-1zM26 76h1v1h-1zM43 76h1v1h-1zM45 76h1v1h-1zM39 77h2v1h-2zM39 78h1v1h-1zM53 78h1v1h-1zM39 79h1v1h-1zM39 80h1v1h-1zM44 82h1v1h-1zM47 82h1v1h-1zM44 83h1v1h-1zM47 83h1v1h-1zM17 84h2v1h-2zM41 84h1v1h-1zM19 85h1v1h-1zM43 85h1v1h-1zM47 85h1v1h-1zM15 86h1v1h-1zM18 86h1v1h-1zM42 86h2v1h-2zM15 87h1v1h-1zM23 87h1v1h-1zM41 87h2v1h-2zM16 89h2v1h-2zM11 90h1v1h-1zM16 90h1v1h-1zM45 90h1v1h-1zM47 90h1v1h-1zM65 90h1v1h-1zM11 91h1v1h-1zM18 91h2v1h-2zM24 91h1v1h-1zM65 91h1v1h-1zM11 92h1v1h-1zM18 92h1v1h-1zM24 92h1v1h-1zM6 93h1v1h-1zM17 94h1v1h-1zM17 95h1v1h-1zM34 96h1v1h-1zM57 96h1v1h-1zM34 97h1v1h-1zM18 99h1v1h-1zM53 99h1v1h-1zM18 100h1v1h-1zM56 100h2v1h-2zM17 101h1v1h-1zM39 101h4v1h-4zM55 101h3v1h-3zM17 102h1v1h-1zM57 103h1v1h-1zM61 103h1v1h-1zM8 104h1v1h-1zM10 104h2v1h-2zM57 104h1v1h-1zM12 105h1v1h-1zM46 105h1v1h-1zM58 105h1v1h-1zM19 106h1v1h-1zM37 106h1v1h-1zM37 107h1v1h-1zM44 107h1v1h-1zM51 108h1v1h-1zM22 109h1v1h-1zM30 109h1v1h-1zM21 110h2v1h-2zM30 110h1v1h-1zM50 110h1v1h-1zM60 110h1v1h-1zM21 111h1v1h-1zM21 112h1v1h-1zM33 112h1v1h-1zM42 112h2v1h-2zM49 112h1v1h-1zM53 112h1v1h-1zM18 113h2v1h-2zM51 113h1v1h-1zM53 113h1v1h-1zM15 114h1v1h-1zM43 114h2v1h-2zM51 114h1v1h-1zM15 115h1v1h-1zM19 117h1v1h-1zM52 118h1v1h-1zM61 118h1v1h-1zM34 119h1v1h-1zM54 119h1v1h-1zM29 120h1v1h-1zM34 120h1v1h-1zM26 121h1v1h-1zM29 121h1v1h-1zM34 121h1v1h-1zM22 122h2v1h-2zM29 122h1v1h-1zM34 122h1v1h-1zM44 122h1v1h-1zM22 123h4v1h-4zM34 123h1v1h-1zM28 127h1v1h-1zM38 127h1v1h-1zM15 128h1v1h-1zM22 128h2v1h-2zM33 128h1v1h-1zM38 128h1v1h-1zM42 128h1v1h-1zM47 128h1v1h-1zM22 129h1v1h-1zM24 129h1v1h-1zM27 129h1v1h-1zM38 129h1v1h-1zM42 129h1v1h-1zM54 129h1v1h-1zM59 129h2v1h-2zM11 130h1v1h-1zM19 130h1v1h-1zM23 130h2v1h-2zM30 130h1v1h-1zM37 130h2v1h-2zM51 130h1v1h-1zM60 130h1v1h-1zM23 131h1v1h-1zM51 131h1v1h-1zM60 131h1v1h-1zM23 132h1v1h-1zM36 132h1v1h-1zM25 133h1v1h-1zM29 133h3v1h-3zM31 135h2v1h-2zM34 135h1v1h-1zM34 136h1v1h-1zM38 136h1v1h-1zM35 137h1v1h-1zM37 137h2v1h-2zM38 138h1v1h-1zM31 140h1v1h-1zM37 140h1v1h-1zM31 141h1v1h-1zM27 142h1v1h-1zM29 142h1v1h-1zM35 142h1v1h-1zM40 142h2v1h-2zM29 143h1v1h-1zM41 143h1v1h-1zM60 143h1v1h-1zM4 144h1v1h-1zM29 144h1v1h-1zM32 144h1v1h-1zM20 145h1v1h-1zM36 145h1v1h-1zM59 145h1v1h-1zM20 146h1v1h-1zM20 147h1v1h-1zM58 147h1v1h-1zM33 148h1v1h-1zM36 148h2v1h-2zM33 149h1v1h-1zM38 149h1v1h-1zM21 150h2v1h-2zM26 150h2v1h-2zM33 150h2v1h-2zM42 150h1v1h-1zM21 151h1v1h-1zM34 151h1v1h-1zM53 152h1v1h-1zM27 153h1v1h-1zM31 153h1v1h-1zM53 153h1v1h-1zM1 154h1v1h-1zM16 154h1v1h-1zM27 154h1v1h-1zM31 154h1v1h-1zM33 154h1v1h-1zM21 155h1v1h-1zM26 155h4v1h-4zM31 155h1v1h-1zM12 156h1v1h-1zM21 156h1v1h-1zM26 156h1v1h-1zM28 156h1v1h-1zM12 157h1v1h-1zM26 157h1v1h-1zM19 158h1v1h-1zM22 158h1v1h-1zM19 159h1v1h-1zM1 160h1v1h-1zM8 160h1v1h-1zM24 160h1v1h-1zM29 160h1v1h-1zM34 160h1v1h-1zM44 160h3v1h-3zM8 161h1v1h-1zM41 161h1v1h-1zM47 161h1v1h-1zM8 162h1v1h-1zM8 163h2v1h-2zM31 163h1v1h-1zM64 163h1v1h-1zM27 164h1v1h-1zM29 164h1v1h-1zM31 164h1v1h-1zM54 164h1v1h-1zM57 164h1v1h-1zM8 165h1v1h-1zM21 165h1v1h-1zM25 165h1v1h-1zM27 165h1v1h-1zM31 165h1v1h-1zM54 165h1v1h-1zM57 165h1v1h-1zM8 166h1v1h-1zM11 166h1v1h-1zM21 166h1v1h-1zM31 166h1v1h-1zM36 166h2v1h-2zM54 166h1v1h-1zM57 166h1v1h-1zM36 167h1v1h-1zM45 167h1v1h-1zM36 168h1v1h-1zM10 169h1v1h-1zM27 169h1v1h-1zM41 169h1v1h-1zM50 169h1v1h-1zM6 170h1v1h-1zM24 170h1v1h-1zM43 170h1v1h-1zM50 170h1v1h-1zM6 171h1v1h-1zM29 171h2v1h-2zM43 171h1v1h-1zM50 171h1v1h-1zM6 172h1v1h-1zM29 172h1v1h-1zM50 172h1v1h-1zM57 172h1v1h-1zM64 172h2v1h-2zM19 173h1v1h-1zM26 173h2v1h-2zM30 173h1v1h-1zM36 173h1v1h-1zM41 173h1v1h-1zM50 173h1v1h-1zM59 173h1v1h-1zM64 173h1v1h-1zM17 174h1v1h-1zM19 174h1v1h-1zM26 174h1v1h-1zM30 174h1v1h-1zM35 174h3v1h-3zM41 174h1v1h-1zM50 174h1v1h-1zM60 174h1v1h-1zM26 175h1v1h-1zM35 175h3v1h-3zM24 177h1v1h-1zM23 178h2v1h-2zM33 178h1v1h-1zM35 178h1v1h-1zM38 178h1v1h-1zM23 179h1v1h-1zM28 179h1v1h-1zM31 179h3v1h-3zM35 179h1v1h-1zM43 179h1v1h-1zM45 179h1v1h-1zM12 180h1v1h-1zM21 180h1v1h-1zM35 180h1v1h-1zM44 180h1v1h-1zM12 181h1v1h-1zM35 181h1v1h-1zM8 183h1v1h-1zM24 183h1v1h-1zM39 183h1v1h-1zM44 183h1v1h-1zM58 183h2v1h-2zM25 184h1v1h-1zM39 184h1v1h-1zM44 184h1v1h-1zM58 184h2v1h-2zM30 185h1v1h-1zM41 185h1v1h-1zM30 186h1v1h-1zM41 186h1v1h-1zM7 187h1v1h-1zM41 187h1v1h-1zM45 187h1v1h-1zM61 187h1v1h-1zM45 188h1v1h-1zM16 190h1v1h-1zM40 191h1v1h-1zM11 192h2v1h-2zM16 192h1v1h-1zM24 192h2v1h-2zM30 192h1v1h-1zM56 192h1v1h-1zM41 193h1v1h-1zM9 194h1v1h-1zM21 194h1v1h-1zM41 194h1v1h-1zM21 195h1v1h-1zM24 196h1v1h-1zM59 196h1v1h-1zM59 197h1v1h-1zM7 198h1v1h-1zM10 198h1v1h-1zM10 199h1v1h-1zM10 200h1v1h-1zM13 200h1v1h-1zM9 201h1v1h-1zM17 201h1v1h-1zM29 201h1v1h-1zM1 202h1v1h-1zM10 202h2v1h-2zM18 202h1v1h-1zM29 202h1v1h-1zM60 202h1v1h-1zM1 203h1v1h-1zM10 203h1v1h-1zM29 203h1v1h-1zM59 203h2v1h-2zM29 204h1v1h-1zM59 204h1v1h-1zM0 205h1v1h-1zM12 205h1v1h-1zM29 205h1v1h-1zM55 205h1v1h-1zM0 206h1v1h-1zM12 206h1v1h-1zM12 207h1v1h-1zM12 208h1v1h-1zM25 209h1v1h-1zM48 209h1v1h-1zM12 210h1v1h-1zM14 210h1v1h-1zM16 210h1v1h-1zM25 210h1v1h-1zM53 210h1v1h-1zM62 210h1v1h-1zM12 211h1v1h-1zM53 211h1v1h-1zM18 212h1v1h-1zM52 212h1v1h-1zM60 212h1v1h-1zM64 212h1v1h-1zM64 213h1v1h-1zM7 214h1v1h-1zM52 214h1v1h-1zM3 215h1v1h-1zM7 215h1v1h-1zM17 215h1v1h-1zM43 215h1v1h-1zM50 215h1v1h-1zM52 215h1v1h-1zM52 216h1v1h-1zM49 217h1v1h-1zM52 217h1v1h-1zM54 217h1v1h-1zM49 218h1v1h-1zM56 218h1v1h-1zM64 218h1v1h-1zM21 219h1v1h-1zM49 219h1v1h-1zM56 219h1v1h-1zM18 220h1v1h-1zM42 220h1v1h-1zM37 222h1v1h-1zM47 222h1v1h-1zM37 223h1v1h-1zM0 224h1v1h-1zM37 224h1v1h-1zM12 226h1v1h-1zM12 227h1v1h-1zM21 227h2v1h-2zM24 227h1v1h-1zM56 227h1v1h-1zM28 228h1v1h-1zM57 228h1v1h-1zM29 229h1v1h-1zM39 229h1v1h-1zM29 230h1v1h-1zM18 231h1v1h-1zM58 231h1v1h-1zM43 232h1v1h-1zM62 232h1v1h-1zM64 232h2v1h-2zM0 233h1v1h-1zM2 234h1v1h-1zM17 234h1v1h-1zM22 234h1v1h-1zM54 234h1v1h-1zM6 235h1v1h-1zM48 235h1v1h-1zM51 235h1v1h-1zM21 236h1v1h-1zM48 236h1v1h-1zM7 238h1v1h-1zM26 238h1v1h-1zM32 238h1v1h-1zM0 239h1v1h-1zM19 239h1v1h-1zM56 239h1v1h-1zM47 240h1v1h-1zM37 241h2v1h-2zM25 244h1v1h-1zM52 244h1v1h-1zM11 245h1v1h-1zM0 246h1v1h-1zM49 246h1v1h-1z" fill="#fdd8c3"/>
<path d="M1 0h1v1h-1zM16 0h2v1h-2zM19 0h1v1h-1zM21 0h2v1h-2zM25 0h1v1h-1zM51 0h1v1h-1zM63 0h1v1h-1zM11 1h1v1h-1zM19 1h1v1h-1zM22 1h1v1h-1zM25 1h1v1h-1zM30 1h1v1h-1zM63 1h1v1h-1zM25 2h1v1h-1zM63 2h1v1h-1zM22 3h1v1h-1zM25 3h1v1h-1zM63 3h1v1h-1zM20 6h1v1h-1zM44 7h1v1h-1zM1 10h1v1h-1zM3 10h1v1h-1zM6 10h1v1h-1zM9 10h1v1h-1zM19 10h1v1h-1zM21 10h1v1h-1zM9 11h1v1h-1zM19 11h1v1h-1zM21 11h2v1h-2zM43 11h1v1h-1zM6 12h1v1h-1zM9 12h1v1h-1zM11 12h1v1h-1zM60 12h1v1h-1zM0 13h1v1h-1zM3 13h1v1h-1zM21 13h1v1h-1zM23 13h1v1h-1zM29 13h1v1h-1zM42 13h1v1h-1zM45 13h1v1h-1zM62 13h1v1h-1zM42 14h1v1h-1zM62 14h1v1h-1zM9 15h1v1h-1zM14 15h3v1h-3zM19 15h1v1h-1zM21 15h1v1h-1zM30 15h1v1h-1zM64 15h2v1h-2zM9 16h1v1h-1zM16 16h1v1h-1zM19 16h1v1h-1zM30 16h1v1h-1zM64 16h1v1h-1zM3 17h2v1h-2zM16 17h1v1h-1zM28 17h1v1h-1zM30 17h1v1h-1zM36 17h1v1h-1zM38 17h1v1h-1zM44 17h3v1h-3zM55 17h1v1h-1zM59 17h2v1h-2zM64 17h1v1h-1zM38 18h1v1h-1zM44 18h2v1h-2zM55 18h1v1h-1zM62 18h1v1h-1zM1 19h1v1h-1zM29 19h1v1h-1zM34 19h2v1h-2zM38 19h1v1h-1zM40 19h2v1h-2zM52 19h1v1h-1zM62 19h1v1h-1zM1 20h1v1h-1zM35 20h1v1h-1zM0 21h1v1h-1zM5 21h1v1h-1zM32 21h2v1h-2zM35 21h1v1h-1zM42 21h1v1h-1zM64 21h1v1h-1zM2 22h1v1h-1zM16 22h1v1h-1zM18 22h1v1h-1zM28 22h1v1h-1zM33 22h1v1h-1zM46 22h2v1h-2zM1 23h1v1h-1zM44 23h2v1h-2zM63 23h2v1h-2zM12 24h3v1h-3zM40 24h1v1h-1zM44 24h1v1h-1zM61 26h1v1h-1zM19 27h1v1h-1zM60 27h1v1h-1zM13 28h4v1h-4zM11 29h1v1h-1zM14 29h1v1h-1zM62 30h2v1h-2zM22 31h1v1h-1zM24 31h1v1h-1zM41 31h1v1h-1zM64 31h1v1h-1zM8 32h2v1h-2zM41 32h1v1h-1zM53 32h1v1h-1zM55 32h1v1h-1zM60 32h1v1h-1zM64 32h1v1h-1zM0 33h1v1h-1zM4 33h1v1h-1zM23 33h1v1h-1zM50 33h1v1h-1zM55 33h1v1h-1zM60 33h1v1h-1zM19 34h1v1h-1zM30 34h1v1h-1zM38 34h1v1h-1zM48 34h1v1h-1zM50 34h1v1h-1zM53 34h2v1h-2zM60 34h2v1h-2zM10 35h1v1h-1zM16 35h1v1h-1zM50 35h1v1h-1zM9 36h1v1h-1zM31 36h1v1h-1zM0 37h1v1h-1zM27 37h1v1h-1zM29 37h1v1h-1zM31 37h1v1h-1zM45 37h1v1h-1zM50 37h1v1h-1zM2 38h1v1h-1zM26 38h1v1h-1zM31 38h2v1h-2zM48 38h1v1h-1zM50 38h1v1h-1zM53 38h1v1h-1zM0 39h1v1h-1zM9 39h1v1h-1zM26 39h1v1h-1zM45 39h1v1h-1zM9 40h1v1h-1zM26 40h1v1h-1zM58 40h1v1h-1zM2 41h1v1h-1zM65 41h1v1h-1zM0 42h1v1h-1zM12 42h2v1h-2zM45 42h1v1h-1zM0 43h1v1h-1zM44 43h1v1h-1zM6 44h1v1h-1zM11 44h1v1h-1zM16 44h1v1h-1zM28 44h1v1h-1zM32 44h1v1h-1zM44 44h2v1h-2zM51 44h1v1h-1zM58 44h1v1h-1zM64 44h1v1h-1zM12 45h1v1h-1zM28 45h1v1h-1zM31 45h1v1h-1zM33 45h1v1h-1zM58 45h2v1h-2zM37 46h1v1h-1zM40 46h1v1h-1zM58 46h1v1h-1zM22 47h1v1h-1zM24 47h1v1h-1zM24 48h1v1h-1zM54 48h1v1h-1zM64 48h1v1h-1zM0 49h1v1h-1zM2 49h3v1h-3zM14 49h2v1h-2zM17 49h1v1h-1zM22 49h1v1h-1zM24 49h1v1h-1zM26 49h1v1h-1zM28 49h1v1h-1zM33 49h1v1h-1zM37 49h1v1h-1zM59 49h1v1h-1zM65 49h1v1h-1zM3 50h2v1h-2zM19 50h1v1h-1zM22 50h1v1h-1zM28 50h1v1h-1zM32 50h1v1h-1zM37 50h2v1h-2zM7 51h1v1h-1zM9 51h1v1h-1zM21 51h1v1h-1zM24 51h1v1h-1zM28 51h1v1h-1zM33 51h1v1h-1zM35 51h4v1h-4zM61 51h1v1h-1zM23 52h2v1h-2zM30 52h1v1h-1zM32 52h2v1h-2zM35 52h1v1h-1zM59 52h1v1h-1zM12 53h1v1h-1zM23 53h2v1h-2zM35 53h1v1h-1zM7 54h1v1h-1zM15 54h1v1h-1zM7 55h1v1h-1zM15 55h1v1h-1zM29 55h1v1h-1zM29 56h1v1h-1zM10 58h1v1h-1zM42 58h1v1h-1zM8 59h1v1h-1zM28 59h1v1h-1zM35 59h1v1h-1zM42 59h1v1h-1zM8 60h1v1h-1zM50 62h1v1h-1zM5 63h1v1h-1zM46 63h1v1h-1zM49 63h3v1h-3zM58 63h1v1h-1zM46 64h1v1h-1zM50 64h1v1h-1zM58 64h1v1h-1zM25 67h1v1h-1zM28 72h1v1h-1zM41 72h1v1h-1zM20 74h2v1h-2zM60 74h1v1h-1zM60 75h1v1h-1zM33 77h1v1h-1zM42 81h1v1h-1zM47 81h1v1h-1zM53 81h1v1h-1zM42 82h1v1h-1zM39 83h1v1h-1zM26 84h1v1h-1zM32 84h1v1h-1zM39 84h1v1h-1zM1 85h1v1h-1zM8 85h1v1h-1zM32 85h1v1h-1zM39 85h1v1h-1zM1 86h1v1h-1zM32 86h1v1h-1zM1 87h1v1h-1zM24 87h1v1h-1zM32 87h1v1h-1zM61 87h1v1h-1zM6 89h1v1h-1zM8 89h1v1h-1zM6 90h2v1h-2zM10 90h1v1h-1zM51 90h1v1h-1zM7 91h1v1h-1zM17 93h1v1h-1zM4 96h1v1h-1zM11 96h1v1h-1zM11 97h1v1h-1zM10 98h1v1h-1zM12 100h1v1h-1zM54 100h1v1h-1zM12 101h1v1h-1zM15 104h1v1h-1zM59 104h1v1h-1zM11 105h1v1h-1zM14 105h2v1h-2zM59 105h3v1h-3zM11 106h1v1h-1zM14 106h1v1h-1zM60 106h2v1h-2zM60 107h1v1h-1zM26 112h2v1h-2zM29 112h1v1h-1zM37 112h1v1h-1zM22 116h2v1h-2zM28 116h1v1h-1zM42 116h2v1h-2zM28 117h1v1h-1zM35 117h1v1h-1zM42 117h1v1h-1zM42 121h2v1h-2zM43 122h1v1h-1zM30 123h1v1h-1zM38 123h1v1h-1zM27 128h2v1h-2zM34 128h1v1h-1zM61 128h2v1h-2zM21 129h1v1h-1zM28 129h2v1h-2zM61 129h1v1h-1zM14 130h2v1h-2zM28 130h1v1h-1zM54 130h1v1h-1zM61 130h1v1h-1zM16 140h3v1h-3zM28 140h1v1h-1zM18 141h1v1h-1zM29 141h1v1h-1zM25 142h1v1h-1zM32 142h1v1h-1zM18 143h2v1h-2zM25 143h1v1h-1zM32 143h1v1h-1zM22 145h1v1h-1zM65 145h1v1h-1zM37 147h2v1h-2zM53 147h1v1h-1zM12 148h1v1h-1zM31 148h1v1h-1zM38 148h1v1h-1zM53 148h1v1h-1zM12 149h1v1h-1zM20 149h1v1h-1zM37 149h1v1h-1zM53 149h1v1h-1zM37 150h1v1h-1zM48 151h1v1h-1zM36 152h1v1h-1zM49 152h1v1h-1zM58 152h2v1h-2zM36 153h1v1h-1zM59 153h1v1h-1zM26 154h1v1h-1zM28 154h1v1h-1zM36 154h1v1h-1zM14 155h1v1h-1zM22 155h2v1h-2zM36 155h1v1h-1zM52 155h1v1h-1zM22 156h2v1h-2zM23 157h1v1h-1zM15 158h1v1h-1zM3 160h1v1h-1zM48 160h1v1h-1zM7 163h1v1h-1zM49 163h1v1h-1zM58 163h1v1h-1zM65 163h1v1h-1zM7 164h1v1h-1zM23 164h1v1h-1zM38 164h1v1h-1zM52 164h1v1h-1zM65 164h1v1h-1zM7 165h1v1h-1zM52 165h1v1h-1zM7 166h1v1h-1zM18 166h1v1h-1zM38 166h1v1h-1zM28 167h1v1h-1zM11 171h1v1h-1zM26 171h1v1h-1zM38 171h1v1h-1zM45 171h1v1h-1zM7 172h1v1h-1zM45 172h2v1h-2zM52 172h1v1h-1zM16 173h1v1h-1zM22 173h1v1h-1zM46 173h1v1h-1zM52 173h1v1h-1zM16 174h1v1h-1zM23 174h1v1h-1zM25 174h1v1h-1zM59 174h1v1h-1zM16 175h1v1h-1zM23 175h1v1h-1zM25 175h1v1h-1zM6 178h2v1h-2zM46 178h1v1h-1zM63 178h3v1h-3zM37 179h1v1h-1zM65 179h1v1h-1zM37 180h1v1h-1zM43 180h1v1h-1zM43 181h1v1h-1zM30 183h1v1h-1zM33 183h1v1h-1zM36 183h1v1h-1zM40 183h1v1h-1zM48 183h1v1h-1zM62 183h2v1h-2zM20 184h1v1h-1zM28 184h1v1h-1zM31 184h1v1h-1zM34 184h1v1h-1zM37 184h2v1h-2zM48 184h1v1h-1zM62 184h2v1h-2zM20 185h2v1h-2zM28 185h1v1h-1zM31 185h1v1h-1zM34 185h1v1h-1zM48 185h1v1h-1zM61 185h2v1h-2zM20 186h1v1h-1zM31 186h1v1h-1zM48 186h1v1h-1zM61 186h2v1h-2zM19 187h2v1h-2zM34 187h1v1h-1zM40 187h1v1h-1zM43 187h1v1h-1zM19 188h1v1h-1zM43 188h1v1h-1zM43 189h1v1h-1zM44 192h1v1h-1zM57 192h1v1h-1zM23 193h1v1h-1zM42 193h1v1h-1zM44 193h1v1h-1zM25 194h1v1h-1zM32 194h1v1h-1zM37 194h2v1h-2zM43 194h1v1h-1zM54 196h1v1h-1zM54 197h1v1h-1zM12 198h1v1h-1zM14 198h1v1h-1zM17 198h1v1h-1zM54 198h1v1h-1zM58 198h1v1h-1zM54 199h1v1h-1zM58 199h1v1h-1zM1 200h1v1h-1zM9 200h1v1h-1zM54 200h1v1h-1zM58 200h1v1h-1zM63 200h1v1h-1zM54 201h1v1h-1zM58 201h1v1h-1zM6 202h1v1h-1zM2 203h1v1h-1zM11 203h1v1h-1zM43 203h1v1h-1zM56 203h1v1h-1zM58 203h1v1h-1zM61 203h1v1h-1zM11 204h1v1h-1zM43 204h1v1h-1zM61 204h1v1h-1zM39 205h1v1h-1zM12 209h1v1h-1zM54 209h1v1h-1zM54 210h1v1h-1zM40 212h1v1h-1zM15 214h1v1h-1zM18 214h1v1h-1zM21 214h1v1h-1zM55 214h1v1h-1zM15 215h1v1h-1zM18 215h1v1h-1zM21 215h1v1h-1zM39 215h1v1h-1zM56 215h3v1h-3zM18 216h1v1h-1zM56 216h2v1h-2zM18 217h1v1h-1zM48 217h1v1h-1zM56 217h1v1h-1zM12 220h1v1h-1zM34 220h1v1h-1zM59 220h1v1h-1zM61 220h1v1h-1zM59 221h1v1h-1zM63 221h1v1h-1zM54 224h1v1h-1zM44 226h1v1h-1zM44 227h1v1h-1zM44 228h1v1h-1zM49 228h1v1h-1zM53 228h1v1h-1zM33 229h1v1h-1zM53 229h1v1h-1zM59 229h1v1h-1zM0 230h2v1h-2zM21 230h2v1h-2zM59 230h1v1h-1zM55 231h1v1h-1zM59 231h1v1h-1zM55 232h1v1h-1zM7 234h1v1h-1zM36 234h1v1h-1zM14 235h1v1h-1zM7 236h1v1h-1zM36 236h1v1h-1zM64 236h2v1h-2zM1 237h1v1h-1zM0 238h1v1h-1zM41 238h1v1h-1zM45 238h1v1h-1zM4 240h2v1h-2zM26 240h1v1h-1zM55 240h2v1h-2zM5 245h1v1h-1zM56 245h1v1h-1z" fill="#fce1d1"/>
<path d="M0 0h1v1h-1zM49 0h1v1h-1zM0 1h1v1h-1zM49 1h3v1h-3zM50 2h2v1h-2zM50 3h1v1h-1zM34 5h1v1h-1zM0 6h1v1h-1zM34 6h1v1h-1zM54 10h1v1h-1zM3 11h3v1h-3zM24 13h1v1h-1zM53 13h1v1h-1zM25 15h1v1h-1zM60 15h1v1h-1zM2 17h1v1h-1zM9 17h1v1h-1zM11 17h1v1h-1zM14 17h1v1h-1zM2 18h1v1h-1zM11 18h1v1h-1zM14 18h1v1h-1zM42 18h1v1h-1zM56 18h1v1h-1zM60 18h1v1h-1zM11 19h1v1h-1zM30 19h1v1h-1zM42 19h1v1h-1zM45 19h1v1h-1zM59 19h2v1h-2zM14 20h1v1h-1zM55 20h1v1h-1zM3 21h1v1h-1zM14 21h1v1h-1zM28 21h1v1h-1zM45 21h1v1h-1zM48 21h1v1h-1zM51 21h1v1h-1zM61 21h1v1h-1zM63 21h1v1h-1zM44 22h2v1h-2zM63 22h1v1h-1zM59 23h1v1h-1zM19 24h1v1h-1zM45 24h1v1h-1zM47 24h1v1h-1zM59 24h1v1h-1zM59 25h1v1h-1zM19 26h1v1h-1zM42 26h1v1h-1zM4 27h1v1h-1zM30 27h1v1h-1zM47 31h1v1h-1zM51 31h2v1h-2zM60 31h1v1h-1zM11 32h2v1h-2zM22 32h1v1h-1zM40 32h1v1h-1zM47 32h1v1h-1zM52 32h1v1h-1zM54 32h1v1h-1zM62 32h1v1h-1zM22 33h1v1h-1zM29 33h1v1h-1zM40 33h1v1h-1zM43 33h1v1h-1zM48 33h1v1h-1zM53 33h2v1h-2zM56 33h1v1h-1zM13 34h1v1h-1zM22 34h1v1h-1zM35 34h1v1h-1zM40 34h1v1h-1zM42 34h1v1h-1zM47 34h1v1h-1zM13 35h1v1h-1zM15 35h1v1h-1zM19 35h1v1h-1zM22 35h2v1h-2zM43 35h1v1h-1zM60 35h1v1h-1zM4 36h1v1h-1zM13 36h1v1h-1zM17 36h1v1h-1zM27 36h1v1h-1zM32 36h2v1h-2zM44 36h1v1h-1zM50 36h1v1h-1zM3 37h1v1h-1zM17 37h1v1h-1zM19 37h1v1h-1zM21 37h1v1h-1zM28 37h1v1h-1zM32 37h1v1h-1zM34 37h1v1h-1zM44 37h1v1h-1zM48 37h1v1h-1zM54 37h1v1h-1zM56 37h1v1h-1zM62 37h1v1h-1zM0 38h1v1h-1zM3 38h1v1h-1zM19 38h1v1h-1zM21 38h1v1h-1zM28 38h1v1h-1zM39 38h1v1h-1zM41 38h2v1h-2zM44 38h2v1h-2zM28 39h1v1h-1zM33 39h1v1h-1zM39 39h1v1h-1zM53 39h2v1h-2zM4 40h2v1h-2zM7 40h1v1h-1zM33 40h1v1h-1zM39 40h1v1h-1zM50 40h1v1h-1zM53 40h2v1h-2zM0 41h1v1h-1zM3 41h2v1h-2zM9 41h1v1h-1zM32 41h2v1h-2zM48 41h1v1h-1zM50 41h1v1h-1zM53 41h1v1h-1zM4 42h2v1h-2zM9 42h1v1h-1zM17 42h1v1h-1zM19 42h1v1h-1zM32 42h2v1h-2zM39 42h1v1h-1zM47 42h1v1h-1zM58 42h2v1h-2zM4 43h1v1h-1zM9 43h1v1h-1zM59 43h1v1h-1zM5 44h1v1h-1zM7 44h1v1h-1zM9 44h1v1h-1zM20 44h3v1h-3zM39 44h1v1h-1zM43 44h1v1h-1zM4 45h1v1h-1zM7 45h1v1h-1zM9 45h1v1h-1zM19 45h1v1h-1zM39 45h1v1h-1zM4 46h1v1h-1zM7 46h3v1h-3zM12 46h1v1h-1zM15 46h1v1h-1zM20 46h3v1h-3zM54 46h1v1h-1zM65 46h1v1h-1zM0 47h1v1h-1zM7 47h1v1h-1zM20 47h2v1h-2zM33 47h1v1h-1zM44 47h1v1h-1zM54 47h1v1h-1zM64 47h1v1h-1zM0 48h1v1h-1zM10 48h2v1h-2zM35 48h1v1h-1zM38 48h2v1h-2zM41 48h1v1h-1zM46 48h1v1h-1zM52 48h1v1h-1zM9 49h1v1h-1zM16 49h1v1h-1zM34 49h2v1h-2zM38 49h2v1h-2zM46 49h1v1h-1zM48 49h1v1h-1zM52 49h1v1h-1zM57 49h1v1h-1zM0 50h3v1h-3zM7 50h1v1h-1zM26 50h1v1h-1zM34 50h1v1h-1zM36 50h1v1h-1zM39 50h2v1h-2zM46 50h1v1h-1zM48 50h1v1h-1zM56 50h2v1h-2zM20 51h1v1h-1zM34 51h1v1h-1zM44 51h1v1h-1zM51 51h2v1h-2zM34 52h1v1h-1zM37 52h1v1h-1zM44 52h1v1h-1zM51 52h2v1h-2zM64 52h2v1h-2zM20 53h1v1h-1zM33 53h1v1h-1zM40 53h1v1h-1zM43 53h3v1h-3zM24 54h1v1h-1zM30 54h2v1h-2zM37 54h2v1h-2zM43 54h3v1h-3zM47 54h1v1h-1zM11 55h1v1h-1zM13 55h1v1h-1zM24 55h1v1h-1zM28 55h1v1h-1zM30 55h3v1h-3zM37 55h1v1h-1zM43 55h2v1h-2zM47 55h1v1h-1zM7 56h1v1h-1zM11 56h1v1h-1zM23 56h2v1h-2zM31 56h1v1h-1zM43 56h1v1h-1zM47 56h1v1h-1zM7 57h1v1h-1zM23 57h1v1h-1zM29 57h1v1h-1zM31 57h1v1h-1zM7 58h1v1h-1zM11 58h2v1h-2zM19 58h1v1h-1zM23 58h1v1h-1zM28 58h2v1h-2zM47 58h1v1h-1zM7 59h1v1h-1zM11 59h1v1h-1zM37 59h1v1h-1zM46 59h1v1h-1zM7 60h1v1h-1zM10 60h3v1h-3zM7 62h1v1h-1zM44 62h1v1h-1zM44 63h1v1h-1zM19 64h1v1h-1zM24 64h1v1h-1zM56 64h1v1h-1zM26 67h1v1h-1zM25 72h1v1h-1zM62 72h1v1h-1zM25 75h2v1h-2zM41 75h3v1h-3zM41 76h1v1h-1zM25 77h2v1h-2zM41 77h1v1h-1zM22 81h3v1h-3zM39 81h1v1h-1zM41 81h1v1h-1zM43 81h1v1h-1zM24 82h1v1h-1zM44 85h1v1h-1zM48 85h1v1h-1zM62 85h1v1h-1zM25 89h1v1h-1zM8 90h1v1h-1zM14 90h1v1h-1zM25 90h1v1h-1zM19 93h1v1h-1zM19 94h1v1h-1zM19 95h1v1h-1zM19 98h1v1h-1zM64 98h1v1h-1zM19 99h1v1h-1zM8 105h1v1h-1zM8 106h1v1h-1zM38 108h1v1h-1zM32 112h1v1h-1zM46 112h1v1h-1zM32 113h1v1h-1zM9 117h1v1h-1zM11 121h1v1h-1zM25 121h1v1h-1zM32 121h1v1h-1zM38 121h1v1h-1zM40 121h1v1h-1zM11 122h1v1h-1zM25 122h1v1h-1zM32 122h1v1h-1zM29 128h1v1h-1zM39 128h1v1h-1zM26 129h1v1h-1zM42 130h2v1h-2zM18 137h1v1h-1zM15 147h1v1h-1zM17 147h1v1h-1zM23 147h2v1h-2zM24 149h1v1h-1zM22 151h1v1h-1zM38 151h1v1h-1zM52 151h1v1h-1zM29 152h1v1h-1zM47 152h1v1h-1zM52 152h1v1h-1zM52 153h1v1h-1zM52 154h1v1h-1zM33 155h1v1h-1zM35 155h1v1h-1zM38 155h1v1h-1zM49 155h1v1h-1zM51 155h1v1h-1zM38 156h1v1h-1zM49 156h1v1h-1zM26 163h1v1h-1zM38 163h1v1h-1zM47 163h1v1h-1zM51 163h1v1h-1zM60 163h1v1h-1zM47 164h1v1h-1zM51 164h1v1h-1zM51 165h1v1h-1zM25 171h1v1h-1zM36 171h1v1h-1zM31 172h1v1h-1zM36 172h1v1h-1zM38 172h1v1h-1zM55 172h1v1h-1zM31 173h1v1h-1zM55 173h1v1h-1zM29 174h1v1h-1zM31 174h1v1h-1zM55 174h1v1h-1zM31 175h1v1h-1zM27 178h1v1h-1zM26 179h1v1h-1zM29 179h1v1h-1zM47 179h2v1h-2zM57 179h1v1h-1zM29 180h1v1h-1zM47 180h2v1h-2zM57 180h1v1h-1zM2 183h1v1h-1zM19 183h1v1h-1zM37 183h1v1h-1zM57 183h1v1h-1zM29 184h1v1h-1zM40 184h4v1h-4zM56 184h2v1h-2zM40 185h1v1h-1zM42 185h1v1h-1zM59 185h1v1h-1zM59 186h1v1h-1zM59 187h1v1h-1zM10 192h1v1h-1zM27 192h1v1h-1zM46 192h1v1h-1zM59 192h1v1h-1zM10 193h1v1h-1zM34 194h2v1h-2zM49 194h1v1h-1zM34 195h1v1h-1zM1 197h1v1h-1zM13 197h1v1h-1zM13 198h1v1h-1zM13 199h1v1h-1zM15 200h1v1h-1zM39 200h1v1h-1zM8 202h1v1h-1zM49 202h2v1h-2zM58 202h1v1h-1zM64 202h1v1h-1zM6 203h2v1h-2zM9 203h1v1h-1zM18 203h1v1h-1zM62 203h1v1h-1zM64 203h1v1h-1zM7 204h1v1h-1zM64 204h1v1h-1zM64 205h1v1h-1zM64 206h1v1h-1zM6 214h1v1h-1zM9 214h1v1h-1zM11 214h1v1h-1zM26 214h2v1h-2zM53 214h1v1h-1zM5 217h1v1h-1zM28 217h1v1h-1zM55 217h1v1h-1zM59 217h1v1h-1zM8 220h1v1h-1zM54 220h1v1h-1zM8 221h1v1h-1zM54 221h1v1h-1zM61 221h2v1h-2zM65 221h1v1h-1zM61 222h1v1h-1zM31 226h1v1h-1zM53 226h1v1h-1zM53 227h1v1h-1zM9 231h1v1h-1zM33 231h1v1h-1zM53 231h1v1h-1zM62 231h2v1h-2zM9 232h1v1h-1zM39 232h1v1h-1zM53 232h1v1h-1zM9 236h1v1h-1zM13 237h2v1h-2zM25 238h1v1h-1zM13 239h1v1h-1zM48 239h1v1h-1zM4 241h1v1h-1zM13 242h1v1h-1zM59 242h1v1h-1zM6 243h2v1h-2zM12 243h1v1h-1zM20 243h1v1h-1zM5 244h1v1h-1zM15 244h1v1h-1zM38 245h1v1h-1z" fill="#fae8de"/>
<path d="M52 0h1v1h-1zM52 1h1v1h-1zM34 4h1v1h-1zM0 7h1v1h-1zM18 13h1v1h-1zM43 13h2v1h-2zM44 14h1v1h-1zM2 15h1v1h-1zM5 15h1v1h-1zM2 16h1v1h-1zM56 17h1v1h-1zM24 18h1v1h-1zM3 19h1v1h-1zM55 19h2v1h-2zM56 20h1v1h-1zM59 20h2v1h-2zM1 21h2v1h-2zM13 21h1v1h-1zM29 21h2v1h-2zM38 21h1v1h-1zM40 21h1v1h-1zM44 21h1v1h-1zM46 21h1v1h-1zM50 21h1v1h-1zM54 21h2v1h-2zM1 22h1v1h-1zM10 22h1v1h-1zM19 22h1v1h-1zM29 22h1v1h-1zM38 22h1v1h-1zM59 22h1v1h-1zM10 23h1v1h-1zM10 24h1v1h-1zM10 25h1v1h-1zM30 26h1v1h-1zM11 31h1v1h-1zM13 32h1v1h-1zM24 32h1v1h-1zM35 32h1v1h-1zM51 32h1v1h-1zM56 32h1v1h-1zM13 33h2v1h-2zM27 33h1v1h-1zM46 33h1v1h-1zM51 33h2v1h-2zM61 33h2v1h-2zM64 33h1v1h-1zM18 34h1v1h-1zM51 34h2v1h-2zM62 34h1v1h-1zM40 35h1v1h-1zM20 36h2v1h-2zM40 36h1v1h-1zM5 37h1v1h-1zM12 37h1v1h-1zM30 37h1v1h-1zM38 37h1v1h-1zM41 37h1v1h-1zM49 37h1v1h-1zM55 37h1v1h-1zM61 37h1v1h-1zM64 37h1v1h-1zM5 38h3v1h-3zM10 38h1v1h-1zM22 38h1v1h-1zM29 38h2v1h-2zM34 38h1v1h-1zM37 38h1v1h-1zM49 38h1v1h-1zM55 38h3v1h-3zM64 38h1v1h-1zM3 39h1v1h-1zM5 39h1v1h-1zM7 39h1v1h-1zM10 39h1v1h-1zM15 39h1v1h-1zM19 39h3v1h-3zM25 39h1v1h-1zM30 39h1v1h-1zM32 39h1v1h-1zM37 39h1v1h-1zM64 39h1v1h-1zM0 40h2v1h-2zM11 40h1v1h-1zM20 40h4v1h-4zM25 40h1v1h-1zM30 40h3v1h-3zM35 40h1v1h-1zM37 40h1v1h-1zM41 40h1v1h-1zM45 40h2v1h-2zM16 41h1v1h-1zM20 41h1v1h-1zM22 41h2v1h-2zM29 41h2v1h-2zM35 41h1v1h-1zM39 41h1v1h-1zM41 41h1v1h-1zM45 41h1v1h-1zM47 41h1v1h-1zM59 41h1v1h-1zM2 42h1v1h-1zM21 42h2v1h-2zM26 42h1v1h-1zM29 42h2v1h-2zM37 42h1v1h-1zM46 42h1v1h-1zM48 42h3v1h-3zM2 43h2v1h-2zM5 43h1v1h-1zM17 43h2v1h-2zM20 43h1v1h-1zM22 43h1v1h-1zM26 43h1v1h-1zM28 43h1v1h-1zM30 43h1v1h-1zM33 43h1v1h-1zM45 43h4v1h-4zM58 43h1v1h-1zM1 44h1v1h-1zM3 44h1v1h-1zM24 44h1v1h-1zM26 44h1v1h-1zM30 44h1v1h-1zM33 44h1v1h-1zM46 44h3v1h-3zM52 44h1v1h-1zM56 44h1v1h-1zM62 44h1v1h-1zM0 45h2v1h-2zM6 45h1v1h-1zM10 45h2v1h-2zM22 45h2v1h-2zM26 45h2v1h-2zM43 45h3v1h-3zM50 45h1v1h-1zM57 45h1v1h-1zM0 46h3v1h-3zM5 46h2v1h-2zM16 46h4v1h-4zM23 46h2v1h-2zM45 46h2v1h-2zM48 46h1v1h-1zM50 46h1v1h-1zM57 46h1v1h-1zM1 47h2v1h-2zM5 47h1v1h-1zM8 47h1v1h-1zM12 47h1v1h-1zM14 47h1v1h-1zM16 47h1v1h-1zM19 47h1v1h-1zM23 47h1v1h-1zM31 47h2v1h-2zM36 47h2v1h-2zM43 47h1v1h-1zM48 47h1v1h-1zM52 47h2v1h-2zM15 48h1v1h-1zM23 48h1v1h-1zM26 48h1v1h-1zM28 48h1v1h-1zM31 48h2v1h-2zM37 48h1v1h-1zM43 48h1v1h-1zM48 48h2v1h-2zM56 48h1v1h-1zM5 49h1v1h-1zM10 49h1v1h-1zM18 49h1v1h-1zM20 49h1v1h-1zM23 49h1v1h-1zM25 49h1v1h-1zM40 49h4v1h-4zM58 49h1v1h-1zM61 49h1v1h-1zM63 49h2v1h-2zM20 50h1v1h-1zM25 50h1v1h-1zM42 50h1v1h-1zM45 50h1v1h-1zM58 50h1v1h-1zM63 50h2v1h-2zM8 51h1v1h-1zM10 51h1v1h-1zM19 51h1v1h-1zM25 51h2v1h-2zM29 51h1v1h-1zM42 51h1v1h-1zM45 51h1v1h-1zM49 51h2v1h-2zM62 51h2v1h-2zM9 52h2v1h-2zM21 52h1v1h-1zM38 52h1v1h-1zM42 52h2v1h-2zM45 52h1v1h-1zM48 52h2v1h-2zM9 53h1v1h-1zM21 53h2v1h-2zM42 53h1v1h-1zM9 54h4v1h-4zM29 54h1v1h-1zM39 54h1v1h-1zM42 54h1v1h-1zM46 54h1v1h-1zM10 55h1v1h-1zM12 55h1v1h-1zM30 56h1v1h-1zM35 56h1v1h-1zM44 56h1v1h-1zM46 56h1v1h-1zM28 57h1v1h-1zM33 57h1v1h-1zM30 58h1v1h-1zM37 58h1v1h-1zM46 58h1v1h-1zM10 59h1v1h-1zM12 59h1v1h-1zM19 59h1v1h-1zM23 59h3v1h-3zM29 59h1v1h-1zM36 59h1v1h-1zM9 64h1v1h-1zM37 64h1v1h-1zM54 64h1v1h-1zM54 65h1v1h-1zM20 67h1v1h-1zM7 77h1v1h-1zM30 77h1v1h-1zM51 77h1v1h-1zM30 78h1v1h-1zM12 90h2v1h-2zM49 90h1v1h-1zM12 91h1v1h-1zM12 92h1v1h-1zM24 98h1v1h-1zM35 105h1v1h-1zM18 112h2v1h-2zM62 112h1v1h-1zM62 113h1v1h-1zM19 121h1v1h-1zM37 121h1v1h-1zM37 122h1v1h-1zM37 123h1v1h-1zM13 147h1v1h-1zM56 147h1v1h-1zM56 149h1v1h-1zM56 150h1v1h-1zM20 151h1v1h-1zM33 151h1v1h-1zM0 152h1v1h-1zM38 152h1v1h-1zM0 153h1v1h-1zM25 155h1v1h-1zM25 156h1v1h-1zM2 163h1v1h-1zM28 163h2v1h-2zM34 163h1v1h-1zM63 163h1v1h-1zM2 164h1v1h-1zM2 165h1v1h-1zM28 171h1v1h-1zM28 172h1v1h-1zM28 173h1v1h-1zM1 174h1v1h-1zM9 174h1v1h-1zM14 174h1v1h-1zM22 174h1v1h-1zM24 174h1v1h-1zM28 174h1v1h-1zM38 174h1v1h-1zM9 175h1v1h-1zM24 175h1v1h-1zM9 176h1v1h-1zM19 178h1v1h-1zM31 178h1v1h-1zM52 178h1v1h-1zM61 178h1v1h-1zM6 179h2v1h-2zM52 179h1v1h-1zM52 180h1v1h-1zM19 184h1v1h-1zM22 184h1v1h-1zM27 184h1v1h-1zM50 184h1v1h-1zM61 184h1v1h-1zM19 185h1v1h-1zM23 185h2v1h-2zM39 185h1v1h-1zM23 186h1v1h-1zM39 186h1v1h-1zM26 192h1v1h-1zM27 194h1v1h-1zM42 194h1v1h-1zM63 194h1v1h-1zM27 195h1v1h-1zM27 196h1v1h-1zM16 200h1v1h-1zM61 200h1v1h-1zM16 201h1v1h-1zM28 202h1v1h-1zM17 214h1v1h-1zM56 214h1v1h-1zM55 220h1v1h-1zM6 221h1v1h-1zM48 221h1v1h-1zM2 226h1v1h-1zM6 226h1v1h-1zM35 226h2v1h-2zM52 226h1v1h-1zM6 227h1v1h-1zM36 227h1v1h-1zM52 227h1v1h-1zM52 228h1v1h-1zM27 231h1v1h-1zM13 232h1v1h-1zM3 238h1v1h-1zM23 242h1v1h-1z" fill="#f9f0ea"/>
<path d="M42 17h1v1h-1zM10 20h3v1h-3zM12 21h1v1h-1zM52 21h1v1h-1zM58 21h3v1h-3zM62 21h1v1h-1zM12 22h1v1h-1zM30 22h1v1h-1zM52 22h1v1h-1zM60 22h1v1h-1zM12 23h1v1h-1zM30 23h1v1h-1zM62 31h1v1h-1zM14 32h1v1h-1zM42 32h1v1h-1zM1 33h1v1h-1zM33 33h1v1h-1zM41 33h2v1h-2zM33 34h1v1h-1zM5 35h1v1h-1zM14 35h1v1h-1zM24 35h1v1h-1zM30 35h1v1h-1zM62 35h1v1h-1zM5 36h1v1h-1zM10 36h1v1h-1zM12 36h1v1h-1zM14 36h2v1h-2zM18 36h2v1h-2zM29 36h2v1h-2zM10 37h2v1h-2zM14 37h1v1h-1zM23 37h1v1h-1zM25 37h1v1h-1zM35 37h3v1h-3zM40 37h1v1h-1zM42 37h2v1h-2zM58 37h1v1h-1zM11 38h1v1h-1zM15 38h1v1h-1zM23 38h1v1h-1zM25 38h1v1h-1zM27 38h1v1h-1zM33 38h1v1h-1zM35 38h2v1h-2zM40 38h1v1h-1zM47 38h1v1h-1zM52 38h1v1h-1zM54 38h1v1h-1zM62 38h1v1h-1zM4 39h1v1h-1zM23 39h2v1h-2zM29 39h1v1h-1zM36 39h1v1h-1zM41 39h1v1h-1zM44 39h1v1h-1zM46 39h1v1h-1zM48 39h1v1h-1zM62 39h2v1h-2zM65 39h1v1h-1zM19 40h1v1h-1zM29 40h1v1h-1zM40 40h1v1h-1zM44 40h1v1h-1zM47 40h1v1h-1zM55 40h1v1h-1zM6 41h1v1h-1zM12 41h2v1h-2zM19 41h1v1h-1zM25 41h1v1h-1zM28 41h1v1h-1zM31 41h1v1h-1zM44 41h1v1h-1zM52 41h1v1h-1zM60 41h2v1h-2zM63 41h1v1h-1zM7 42h1v1h-1zM16 42h1v1h-1zM20 42h1v1h-1zM24 42h1v1h-1zM41 42h1v1h-1zM44 42h1v1h-1zM61 42h3v1h-3zM8 43h1v1h-1zM10 43h1v1h-1zM12 43h1v1h-1zM31 43h2v1h-2zM43 43h1v1h-1zM49 43h1v1h-1zM64 43h2v1h-2zM10 44h1v1h-1zM12 44h1v1h-1zM14 44h2v1h-2zM25 44h1v1h-1zM37 44h1v1h-1zM41 44h2v1h-2zM49 44h1v1h-1zM55 44h1v1h-1zM65 44h1v1h-1zM8 45h1v1h-1zM15 45h1v1h-1zM24 45h2v1h-2zM37 45h1v1h-1zM40 45h1v1h-1zM47 45h1v1h-1zM55 45h2v1h-2zM63 45h1v1h-1zM11 46h1v1h-1zM13 46h1v1h-1zM26 46h1v1h-1zM28 46h1v1h-1zM32 46h1v1h-1zM38 46h2v1h-2zM41 46h1v1h-1zM43 46h2v1h-2zM55 46h2v1h-2zM63 46h2v1h-2zM39 47h2v1h-2zM46 47h1v1h-1zM58 47h1v1h-1zM61 47h3v1h-3zM65 47h1v1h-1zM9 48h1v1h-1zM19 48h1v1h-1zM25 48h1v1h-1zM36 48h1v1h-1zM58 48h1v1h-1zM61 48h1v1h-1zM63 48h1v1h-1zM65 48h1v1h-1zM7 49h1v1h-1zM19 49h1v1h-1zM36 49h1v1h-1zM50 49h2v1h-2zM55 49h2v1h-2zM9 50h2v1h-2zM35 50h1v1h-1zM44 50h1v1h-1zM50 50h3v1h-3zM59 50h1v1h-1zM61 50h2v1h-2zM65 50h1v1h-1zM59 51h1v1h-1zM65 51h1v1h-1zM8 52h1v1h-1zM26 52h1v1h-1zM29 52h1v1h-1zM61 52h1v1h-1zM63 52h1v1h-1zM8 53h1v1h-1zM11 53h1v1h-1zM25 53h1v1h-1zM29 53h2v1h-2zM32 53h1v1h-1zM8 54h1v1h-1zM25 54h2v1h-2zM32 54h3v1h-3zM36 54h1v1h-1zM8 55h1v1h-1zM39 55h1v1h-1zM10 56h1v1h-1zM12 56h2v1h-2zM21 56h2v1h-2zM28 56h1v1h-1zM32 56h2v1h-2zM39 56h1v1h-1zM42 56h1v1h-1zM8 57h1v1h-1zM21 57h2v1h-2zM30 57h1v1h-1zM37 57h2v1h-2zM20 58h3v1h-3zM41 58h1v1h-1zM27 59h1v1h-1zM9 60h1v1h-1zM45 77h1v1h-1zM45 78h1v1h-1zM45 79h1v1h-1zM34 112h1v1h-1zM44 112h1v1h-1zM44 113h1v1h-1zM18 163h1v1h-1zM53 163h1v1h-1zM46 174h1v1h-1zM46 175h1v1h-1zM16 185h1v1h-1zM25 185h1v1h-1zM27 185h1v1h-1zM29 185h1v1h-1zM43 185h2v1h-2zM29 186h1v1h-1zM3 226h1v1h-1zM56 226h1v1h-1zM7 235h1v1h-1zM16 235h1v1h-1zM10 236h3v1h-3zM15 237h2v1h-2zM5 238h1v1h-1zM14 238h2v1h-2zM6 239h1v1h-1zM18 239h1v1h-1zM31 239h1v1h-1zM44 239h1v1h-1zM6 240h1v1h-1zM13 240h1v1h-1zM59 240h1v1h-1zM65 240h1v1h-1zM7 241h1v1h-1zM22 241h1v1h-1zM2 242h1v1h-1zM5 242h1v1h-1zM24 242h3v1h-3zM43 242h1v1h-1zM62 242h1v1h-1zM41 243h1v1h-1zM62 243h2v1h-2zM2 245h2v1h-2zM7 245h1v1h-1zM14 245h2v1h-2zM25 245h1v1h-1zM65 245h1v1h-1zM13 246h1v1h-1zM34 246h1v1h-1z" fill="#f7f7f7"/>
<path d="M18 32h1v1h-1zM18 33h1v1h-1zM24 33h2v1h-2zM24 34h1v1h-1zM8 35h1v1h-1zM7 36h1v1h-1zM16 36h1v1h-1zM23 36h1v1h-1zM41 36h2v1h-2zM8 37h1v1h-1zM15 37h1v1h-1zM33 37h1v1h-1zM47 37h1v1h-1zM51 37h3v1h-3zM8 38h1v1h-1zM14 38h1v1h-1zM46 38h1v1h-1zM51 38h1v1h-1zM61 38h1v1h-1zM63 38h1v1h-1zM14 39h1v1h-1zM22 39h1v1h-1zM27 39h1v1h-1zM35 39h1v1h-1zM47 39h1v1h-1zM52 39h1v1h-1zM55 39h1v1h-1zM61 39h1v1h-1zM10 40h1v1h-1zM14 40h1v1h-1zM24 40h1v1h-1zM27 40h1v1h-1zM49 40h1v1h-1zM51 40h2v1h-2zM59 40h3v1h-3zM8 41h1v1h-1zM24 41h1v1h-1zM40 41h1v1h-1zM43 41h1v1h-1zM46 41h1v1h-1zM49 41h1v1h-1zM58 41h1v1h-1zM1 42h1v1h-1zM8 42h1v1h-1zM10 42h2v1h-2zM23 42h1v1h-1zM25 42h1v1h-1zM35 42h1v1h-1zM52 42h2v1h-2zM6 43h1v1h-1zM13 43h1v1h-1zM16 43h1v1h-1zM19 43h1v1h-1zM29 43h1v1h-1zM39 43h1v1h-1zM50 43h1v1h-1zM52 43h1v1h-1zM57 43h1v1h-1zM17 44h1v1h-1zM27 44h1v1h-1zM29 44h1v1h-1zM35 44h1v1h-1zM50 44h1v1h-1zM60 44h1v1h-1zM5 45h1v1h-1zM13 45h2v1h-2zM29 45h2v1h-2zM35 45h1v1h-1zM41 45h1v1h-1zM48 45h2v1h-2zM52 45h2v1h-2zM60 45h1v1h-1zM27 46h1v1h-1zM30 46h1v1h-1zM35 46h1v1h-1zM42 46h1v1h-1zM47 46h1v1h-1zM49 46h1v1h-1zM52 46h2v1h-2zM9 47h2v1h-2zM15 47h1v1h-1zM28 47h1v1h-1zM30 47h1v1h-1zM34 47h2v1h-2zM45 47h1v1h-1zM50 47h1v1h-1zM56 47h2v1h-2zM1 48h1v1h-1zM5 48h1v1h-1zM8 48h1v1h-1zM18 48h1v1h-1zM20 48h1v1h-1zM34 48h1v1h-1zM45 48h1v1h-1zM57 48h1v1h-1zM1 49h1v1h-1zM8 49h1v1h-1zM29 49h1v1h-1zM47 49h1v1h-1zM5 50h1v1h-1zM8 50h1v1h-1zM49 50h1v1h-1zM55 50h1v1h-1zM19 52h2v1h-2zM25 52h1v1h-1zM27 52h2v1h-2zM50 52h1v1h-1zM55 52h1v1h-1zM60 52h1v1h-1zM27 53h2v1h-2zM37 53h2v1h-2zM47 53h1v1h-1zM19 54h1v1h-1zM27 54h2v1h-2zM9 55h1v1h-1zM20 55h2v1h-2zM25 55h3v1h-3zM36 55h1v1h-1zM38 55h1v1h-1zM9 56h1v1h-1zM25 56h3v1h-3zM34 56h1v1h-1zM36 56h1v1h-1zM38 56h1v1h-1zM10 57h2v1h-2zM24 57h1v1h-1zM26 57h1v1h-1zM36 57h1v1h-1zM42 57h3v1h-3zM46 57h2v1h-2zM9 58h1v1h-1zM24 58h1v1h-1zM27 58h1v1h-1zM36 58h1v1h-1zM38 58h1v1h-1zM20 59h3v1h-3zM38 59h1v1h-1zM44 59h1v1h-1zM14 226h1v1h-1zM14 234h1v1h-1zM12 235h1v1h-1zM6 236h1v1h-1zM8 236h1v1h-1zM6 237h1v1h-1zM17 237h1v1h-1zM4 238h1v1h-1zM12 238h1v1h-1zM57 238h2v1h-2zM60 238h1v1h-1zM33 239h1v1h-1zM43 239h1v1h-1zM55 239h1v1h-1zM11 240h1v1h-1zM25 240h1v1h-1zM35 240h1v1h-1zM64 240h1v1h-1zM5 241h1v1h-1zM16 241h1v1h-1zM43 241h1v1h-1zM49 241h1v1h-1zM55 241h1v1h-1zM9 242h1v1h-1zM12 242h1v1h-1zM15 242h1v1h-1zM42 242h1v1h-1zM0 243h5v1h-5zM8 243h1v1h-1zM26 243h1v1h-1zM28 243h1v1h-1zM49 243h2v1h-2zM58 243h1v1h-1zM61 243h1v1h-1zM0 244h1v1h-1zM4 244h1v1h-1zM14 244h1v1h-1zM21 244h1v1h-1zM31 244h1v1h-1zM0 245h2v1h-2zM24 245h1v1h-1zM49 245h1v1h-1zM51 245h1v1h-1zM9 246h1v1h-1zM14 246h1v1h-1z" fill="#edf2f5"/>
<path d="M56 21h1v1h-1zM30 24h1v1h-1zM30 25h1v1h-1zM47 33h1v1h-1zM22 36h1v1h-1zM18 37h1v1h-1zM22 37h1v1h-1zM16 38h2v1h-2zM38 38h1v1h-1zM43 38h1v1h-1zM58 38h2v1h-2zM6 39h1v1h-1zM8 39h1v1h-1zM11 39h2v1h-2zM17 39h1v1h-1zM34 39h1v1h-1zM38 39h1v1h-1zM43 39h1v1h-1zM49 39h2v1h-2zM6 40h1v1h-1zM15 40h3v1h-3zM34 40h1v1h-1zM62 40h3v1h-3zM17 41h1v1h-1zM34 41h1v1h-1zM54 41h1v1h-1zM62 41h1v1h-1zM27 42h2v1h-2zM34 42h1v1h-1zM42 42h2v1h-2zM54 42h1v1h-1zM60 42h1v1h-1zM1 43h1v1h-1zM7 43h1v1h-1zM15 43h1v1h-1zM24 43h2v1h-2zM42 43h1v1h-1zM54 43h1v1h-1zM61 43h1v1h-1zM18 44h1v1h-1zM54 44h1v1h-1zM61 44h1v1h-1zM18 45h1v1h-1zM20 45h2v1h-2zM46 45h1v1h-1zM61 45h1v1h-1zM25 46h1v1h-1zM29 46h1v1h-1zM60 46h2v1h-2zM25 47h3v1h-3zM29 47h1v1h-1zM38 47h1v1h-1zM49 47h1v1h-1zM27 48h1v1h-1zM29 48h2v1h-2zM51 48h1v1h-1zM53 48h1v1h-1zM62 48h1v1h-1zM11 49h1v1h-1zM13 49h1v1h-1zM27 49h1v1h-1zM60 49h1v1h-1zM62 49h1v1h-1zM11 50h2v1h-2zM27 50h1v1h-1zM29 50h2v1h-2zM53 50h1v1h-1zM60 50h1v1h-1zM11 51h2v1h-2zM27 51h1v1h-1zM53 51h1v1h-1zM60 51h1v1h-1zM11 52h1v1h-1zM53 52h1v1h-1zM19 53h1v1h-1zM26 53h1v1h-1zM34 53h1v1h-1zM8 56h1v1h-1zM37 56h1v1h-1zM12 57h1v1h-1zM25 57h1v1h-1zM45 57h1v1h-1zM9 59h1v1h-1zM30 59h1v1h-1zM34 59h1v1h-1zM0 234h2v1h-2zM5 234h1v1h-1zM11 234h1v1h-1zM13 234h1v1h-1zM18 234h1v1h-1zM14 236h3v1h-3zM2 237h4v1h-4zM12 237h1v1h-1zM6 238h1v1h-1zM8 238h2v1h-2zM16 238h1v1h-1zM20 238h1v1h-1zM29 238h2v1h-2zM35 238h3v1h-3zM42 238h1v1h-1zM53 238h1v1h-1zM10 239h1v1h-1zM15 239h1v1h-1zM24 239h1v1h-1zM9 240h1v1h-1zM12 240h1v1h-1zM17 240h1v1h-1zM30 240h1v1h-1zM41 240h1v1h-1zM6 241h1v1h-1zM9 241h2v1h-2zM13 241h1v1h-1zM18 241h1v1h-1zM27 241h1v1h-1zM34 241h1v1h-1zM0 242h1v1h-1zM7 242h1v1h-1zM29 242h1v1h-1zM41 242h1v1h-1zM52 242h2v1h-2zM11 243h1v1h-1zM19 243h1v1h-1zM21 243h1v1h-1zM52 243h1v1h-1zM56 243h2v1h-2zM6 244h1v1h-1zM33 244h2v1h-2zM58 244h1v1h-1zM8 245h1v1h-1zM34 245h1v1h-1zM36 245h1v1h-1zM43 245h1v1h-1zM45 245h2v1h-2zM53 245h1v1h-1zM55 245h1v1h-1zM3 246h1v1h-1zM15 246h1v1h-1zM27 246h1v1h-1zM36 246h1v1h-1zM45 246h1v1h-1zM52 246h2v1h-2z" fill="#e3eef3"/>
<path d="M1 35h1v1h-1zM1 36h1v1h-1zM1 37h1v1h-1zM1 38h1v1h-1zM18 38h1v1h-1zM1 39h1v1h-1zM58 39h3v1h-3zM38 40h1v1h-1zM18 41h1v1h-1zM36 41h2v1h-2zM36 42h1v1h-1zM51 42h1v1h-1zM11 43h1v1h-1zM23 43h1v1h-1zM40 43h1v1h-1zM53 43h1v1h-1zM60 43h1v1h-1zM62 43h2v1h-2zM23 44h1v1h-1zM40 44h1v1h-1zM63 44h1v1h-1zM16 45h2v1h-2zM42 45h1v1h-1zM62 45h1v1h-1zM11 47h1v1h-1zM7 48h1v1h-1zM47 48h1v1h-1zM50 48h1v1h-1zM53 49h1v1h-1zM55 51h1v1h-1zM62 52h1v1h-1zM36 53h1v1h-1zM20 56h1v1h-1zM20 57h1v1h-1zM27 57h1v1h-1zM1 235h1v1h-1zM13 235h1v1h-1zM13 236h1v1h-1zM11 237h1v1h-1zM1 238h1v1h-1zM46 238h2v1h-2zM50 238h1v1h-1zM54 238h1v1h-1zM62 238h1v1h-1zM64 238h1v1h-1zM7 239h1v1h-1zM11 239h2v1h-2zM14 239h1v1h-1zM26 239h1v1h-1zM36 239h1v1h-1zM41 239h2v1h-2zM45 239h1v1h-1zM49 239h1v1h-1zM57 239h1v1h-1zM8 240h1v1h-1zM18 240h1v1h-1zM28 240h1v1h-1zM43 240h1v1h-1zM53 240h2v1h-2zM61 240h1v1h-1zM1 241h1v1h-1zM61 241h1v1h-1zM34 242h1v1h-1zM40 242h1v1h-1zM48 242h3v1h-3zM60 242h1v1h-1zM5 243h1v1h-1zM9 243h1v1h-1zM14 243h2v1h-2zM32 243h4v1h-4zM45 243h2v1h-2zM10 244h2v1h-2zM13 244h1v1h-1zM26 244h1v1h-1zM46 244h1v1h-1zM49 244h1v1h-1zM53 244h2v1h-2zM59 244h1v1h-1zM63 244h1v1h-1zM9 245h1v1h-1zM13 245h1v1h-1zM16 245h3v1h-3zM21 245h1v1h-1zM29 245h1v1h-1zM35 245h1v1h-1zM42 245h1v1h-1zM48 245h1v1h-1zM16 246h3v1h-3zM60 246h1v1h-1z" fill="#d9e9f1"/>
<path d="M2 36h2v1h-2zM8 36h1v1h-1zM2 37h1v1h-1zM60 38h1v1h-1zM42 39h1v1h-1zM42 40h2v1h-2zM42 41h1v1h-1zM55 41h1v1h-1zM55 42h1v1h-1zM27 43h1v1h-1zM41 43h1v1h-1zM51 43h1v1h-1zM55 43h1v1h-1zM51 45h1v1h-1zM51 46h1v1h-1zM62 46h1v1h-1zM42 47h1v1h-1zM47 47h1v1h-1zM51 47h1v1h-1zM42 48h1v1h-1zM55 48h1v1h-1zM4 234h1v1h-1zM10 234h1v1h-1zM15 234h1v1h-1zM0 235h1v1h-1zM11 235h1v1h-1zM0 236h1v1h-1zM2 236h1v1h-1zM0 237h1v1h-1zM2 238h1v1h-1zM13 238h1v1h-1zM18 238h1v1h-1zM33 238h2v1h-2zM48 238h1v1h-1zM52 238h1v1h-1zM65 238h1v1h-1zM3 239h2v1h-2zM16 239h2v1h-2zM34 239h1v1h-1zM54 239h1v1h-1zM0 240h1v1h-1zM20 240h2v1h-2zM48 240h3v1h-3zM60 240h1v1h-1zM14 241h1v1h-1zM26 241h1v1h-1zM28 241h1v1h-1zM45 241h1v1h-1zM51 241h2v1h-2zM65 241h1v1h-1zM22 242h1v1h-1zM31 242h1v1h-1zM36 242h1v1h-1zM39 242h1v1h-1zM56 242h1v1h-1zM58 242h1v1h-1zM61 242h1v1h-1zM10 243h1v1h-1zM13 243h1v1h-1zM16 243h1v1h-1zM24 243h2v1h-2zM2 244h1v1h-1zM9 244h1v1h-1zM17 244h1v1h-1zM39 244h1v1h-1zM42 244h1v1h-1zM51 244h1v1h-1zM57 244h1v1h-1zM61 244h1v1h-1zM10 245h1v1h-1zM19 245h1v1h-1zM26 245h1v1h-1zM37 245h1v1h-1zM20 246h1v1h-1zM30 246h2v1h-2zM33 246h1v1h-1zM37 246h3v1h-3zM51 246h1v1h-1zM56 246h1v1h-1zM63 246h1v1h-1z" fill="#cee3ef"/>
<path d="M18 39h1v1h-1zM18 40h1v1h-1zM36 40h1v1h-1zM1 41h1v1h-1zM38 41h1v1h-1zM18 47h1v1h-1zM55 47h1v1h-1zM6 234h1v1h-1zM3 235h1v1h-1zM9 235h1v1h-1zM18 236h1v1h-1zM9 237h2v1h-2zM19 238h1v1h-1zM2 240h1v1h-1zM16 240h1v1h-1zM27 240h1v1h-1zM42 240h1v1h-1zM0 241h1v1h-1zM11 241h2v1h-2zM29 241h1v1h-1zM33 241h1v1h-1zM50 241h1v1h-1zM56 241h1v1h-1zM3 242h1v1h-1zM10 242h1v1h-1zM27 242h1v1h-1zM32 242h1v1h-1zM37 242h1v1h-1zM36 243h1v1h-1zM1 244h1v1h-1zM22 244h1v1h-1zM38 244h1v1h-1zM64 244h1v1h-1zM4 245h1v1h-1zM39 245h1v1h-1zM54 245h1v1h-1zM58 245h2v1h-2zM7 246h2v1h-2zM11 246h1v1h-1z" fill="#bddbea"/>
<path d="M22 238h1v1h-1zM1 239h1v1h-1zM30 241h1v1h-1zM64 241h1v1h-1zM8 242h1v1h-1z" fill="#acd2e5"/>
<path d="M10 235h1v1h-1zM17 238h1v1h-1zM31 238h1v1h-1zM2 239h1v1h-1zM8 239h1v1h-1zM17 241h1v1h-1zM17 243h1v1h-1zM29 243h1v1h-1zM3 244h1v1h-1zM37 244h1v1h-1zM27 245h1v1h-1zM30 245h2v1h-2zM54 246h1v1h-1z" fill="#9bc9e0"/>
<path d="M7 237h1v1h-1zM38 239h1v1h-1zM37 240h2v1h-2zM60 241h1v1h-1zM55 242h1v1h-1zM64 243h1v1h-1zM19 244h1v1h-1zM32 245h2v1h-2z" fill="#87beda"/>
<path d="M1 236h1v1h-1zM47 239h1v1h-1zM15 240h1v1h-1zM15 241h1v1h-1zM32 241h1v1h-1zM12 245h1v1h-1zM20 245h1v1h-1zM1 246h2v1h-2z" fill="#72b1d3"/>
<path d="M4 235h2v1h-2zM8 235h1v1h-1zM3 236h2v1h-2zM51 238h1v1h-1zM9 239h1v1h-1zM4 242h1v1h-1zM6 242h1v1h-1zM18 243h1v1h-1zM42 243h1v1h-1zM54 243h2v1h-2zM18 244h1v1h-1zM6 245h1v1h-1zM26 246h1v1h-1zM29 246h1v1h-1zM46 246h1v1h-1z" fill="#5da3cc"/>
<path d="M8 237h1v1h-1zM16 242h2v1h-2zM28 242h1v1h-1zM31 243h1v1h-1zM43 243h1v1h-1zM21 246h1v1h-1z" fill="#4796c4"/>
<path d="M37 239h1v1h-1zM52 239h1v1h-1zM58 240h1v1h-1zM1 242h1v1h-1zM27 243h1v1h-1z" fill="#3c8abe"/>
</g>
<path d="M289.66 607.2V972M295.82 607.2V972M301.98 607.2V972M308.14 607.2V972M314.30 607.2V972M320.46 607.2V972M326.62 607.2V972M332.78 607.2V972M338.94 607.2V972M345.10 607.2V972M351.26 607.2V972M357.42 607.2V972M363.58 607.2V972M369.74 607.2V972M375.90 607.2V972M382.06 607.2V972M388.22 607.2V972M394.38 607.2V972M400.54 607.2V972M406.70 607.2V972M412.86 607.2V972M419.02 607.2V972M425.18 607.2V972M431.34 607.2V972M437.50 607.2V972M443.66 607.2V972M449.82 607.2V972M455.98 607.2V972M462.14 607.2V972M468.30 607.2V972M474.46 607.2V972M480.62 607.2V972M486.78 607.2V972M492.94 607.2V972M499.10 607.2V972M505.26 607.2V972M511.42 607.2V972M517.58 607.2V972M523.74 607.2V972M529.90 607.2V972M536.06 607.2V972M542.22 607.2V972M548.38 607.2V972M554.54 607.2V972M560.70 607.2V972M566.86 607.2V972M573.02 607.2V972M579.18 607.2V972M585.34 607.2V972M591.50 607.2V972M597.66 607.2V972M603.82 607.2V972M609.98 607.2V972M616.14 607.2V972M622.30 607.2V972M628.46 607.2V972M634.62 607.2V972M640.78 607.2V972M646.94 607.2V972M653.10 607.2V972M659.26 607.2V972M665.42 607.2V972M671.58 607.2V972M677.74 607.2V972M683.90 607.2V972" stroke="#fff" stroke-opacity="0.06" stroke-width="0.6"/>
</svg></body></html>
